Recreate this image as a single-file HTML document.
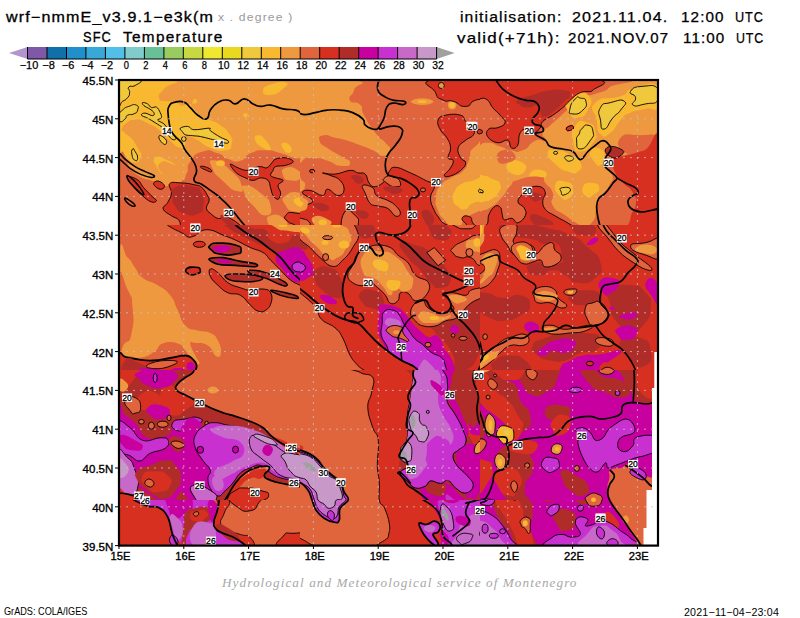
<!DOCTYPE html>
<html><head><meta charset="utf-8"><title>SFC Temperature</title>
<style>
html,body{margin:0;padding:0;background:#fff;}
body{width:800px;height:618px;position:relative;overflow:hidden;font-family:"Liberation Sans",sans-serif;color:#000;}
.t{position:absolute;white-space:pre;line-height:1;}
</style></head><body>
<svg width="800" height="618" viewBox="0 0 800 618" style="position:absolute;left:0;top:0">
<defs><clipPath id="mc"><rect x="119" y="80" width="539" height="465"/></clipPath></defs>
<g clip-path="url(#mc)" shape-rendering="geometricPrecision">
<clipPath id="cA"><rect x="119" y="80" width="181" height="145"/></clipPath>
<g clip-path="url(#cA)">
<rect x="119" y="80" width="181" height="145" fill="#EE9840"/>
<path d="M119.0,80.0 C136.5,64.1 156.5,77.1 171.5,80.0 C186.5,82.9 168.1,82.9 164.0,88.8 C159.8,94.7 157.7,93.4 158.9,97.6 C160.2,101.8 158.9,100.5 167.7,101.3 C176.5,102.2 176.9,98.0 185.3,100.1 C193.6,102.2 187.8,102.2 192.8,107.6 C197.8,113.1 194.5,112.2 200.3,116.4 C206.2,120.6 203.7,117.2 210.4,120.2 C217.1,123.1 214.1,120.6 220.4,125.2 C226.7,129.8 225.4,127.7 229.2,134.0 C233.0,140.2 233.0,138.6 231.7,144.0 C230.5,149.4 232.5,149.0 225.4,150.3 C218.3,151.5 220.4,151.5 210.4,147.8 C200.3,144.0 204.1,142.8 195.3,139.0 C186.5,135.2 187.4,134.8 184.0,136.5 C180.7,138.2 186.5,140.2 185.3,144.0 C184.0,147.8 185.3,148.9 180.3,147.8 C175.2,146.7 176.9,146.4 170.2,140.7 C163.5,135.1 167.7,136.6 160.2,130.7 C152.7,124.9 156.0,126.9 147.6,123.2 C139.3,119.5 142.6,119.4 135.1,119.7 C127.6,119.9 130.4,121.3 125.1,123.9 C119.7,126.6 121.0,142.3 119.0,127.7 C117.0,113.1 101.6,95.9 119.0,80.0 Z" fill="#F8B830"/>
<path d="M119.0,134.0 C121.9,127.9 121.4,130.6 127.6,135.2 C133.8,139.8 133.3,140.2 137.6,147.8 C142.0,155.3 142.1,153.0 140.6,157.8 C139.1,162.7 138.3,163.0 133.1,162.3 C127.9,161.7 129.7,158.8 125.1,155.8 C120.4,152.8 121.0,160.6 119.0,153.3 C117.0,146.0 116.2,140.0 119.0,134.0 Z" fill="#F8B830"/>
<path d="M155.2,157.8 C158.5,155.1 160.2,157.0 167.7,160.3 C175.2,163.7 172.7,162.8 177.8,167.8 C182.8,172.9 183.4,171.2 182.8,175.4 C182.1,179.6 181.4,180.2 175.7,180.4 C170.1,180.6 171.7,179.9 165.7,175.9 C159.7,171.9 161.2,174.4 157.7,168.4 C154.2,162.3 151.8,160.5 155.2,157.8 Z" fill="#F8B830"/>
<path d="M263.1,90.1 C263.9,86.3 265.6,86.3 273.1,83.8 C280.6,81.3 282.3,80.9 285.7,82.5 C289.0,84.2 288.2,84.6 283.1,88.8 C278.1,93.0 277.3,94.7 270.6,95.1 C263.9,95.5 262.2,93.8 263.1,90.1 Z" fill="#F8B830"/>
<path d="M258.1,135.2 C261.4,135.1 261.4,135.2 265.6,140.2 C269.8,145.3 271.4,147.8 270.6,150.3 C269.8,152.8 268.1,151.0 263.1,147.8 C258.1,144.6 257.2,144.9 255.5,140.7 C253.9,136.6 254.7,135.4 258.1,135.2 Z" fill="#F8B830"/>
<path d="M283.1,142.8 C285.7,141.9 288.6,143.2 290.7,146.5 C292.8,149.9 291.9,152.0 289.4,152.8 C286.9,153.6 285.2,152.4 283.1,149.0 C281.1,145.7 280.6,143.6 283.1,142.8 Z" fill="#F8B830"/>
<ellipse cx="194.1" cy="101.3" rx="3.0" ry="2.5" fill="#F8B830"/>
<ellipse cx="245.5" cy="115.2" rx="2.3" ry="2.3" fill="#F8B830"/>
<path d="M172.7,90.1 C176.5,86.7 176.1,86.7 182.8,86.3 C189.5,85.9 189.0,84.6 192.8,88.8 C196.6,93.0 196.6,93.4 194.1,98.8 C191.6,104.3 191.1,103.9 185.3,105.1 C179.4,106.4 181.1,105.5 176.5,102.6 C171.9,99.7 172.7,100.5 171.5,96.3 C170.2,92.1 169.0,93.4 172.7,90.1 Z" fill="#EE9840"/>
<path d="M119.0,162.8 L119.0,150.3 Z" fill="#EE9840"/>
<path d="M119.0,80.0 C125.6,72.5 133.5,78.2 138.9,80.0 C144.2,81.9 138.4,83.2 135.1,85.5 C131.7,87.9 130.7,84.7 128.8,87.0 C127.0,89.4 130.0,89.1 129.6,92.6 C129.2,96.1 129.9,94.7 127.6,97.6 C125.2,100.5 125.4,99.7 122.5,101.3 C119.7,103.0 120.2,109.7 119.0,102.6 C117.9,95.5 112.4,87.5 119.0,80.0 Z" fill="#F0C83C" stroke="#000" stroke-width="0.9"/>
<path d="M122.5,110.1 C125.8,107.2 124.2,108.0 128.8,106.4 C133.4,104.7 133.4,103.9 136.3,105.1 C139.3,106.4 138.4,107.2 137.6,110.1 C136.8,113.1 137.2,112.2 133.8,113.9 C130.5,115.6 130.5,113.5 127.6,115.2 C124.6,116.8 127.6,116.8 125.1,118.9 C122.5,121.0 122.0,122.7 120.0,121.4 C118.0,120.2 118.2,118.9 119.0,115.2 C119.9,111.4 119.3,113.1 122.5,110.1 Z" fill="#F0C83C" stroke="#000" stroke-width="0.9"/>
<path d="M142.6,102.6 C143.4,102.3 145.9,102.9 147.6,103.9 C149.4,104.9 149.6,107.0 151.4,107.6 C153.2,108.3 154.7,106.1 156.4,107.1 C158.2,108.1 159.2,110.5 160.2,112.6 C161.2,114.7 161.9,116.2 161.4,117.7 C160.9,119.2 157.2,118.9 157.7,120.2 C158.2,121.4 161.4,121.7 164.0,123.9 C166.5,126.2 167.9,129.0 170.2,131.5 C172.6,134.0 174.8,134.8 175.7,136.5 C176.6,138.1 175.8,139.5 174.7,139.7 C173.6,140.0 172.4,139.9 170.2,137.7 C168.1,135.6 167.0,132.0 164.0,129.0 C160.9,125.9 158.4,124.8 155.2,122.7 C151.9,120.5 150.4,119.7 147.6,118.2 C144.9,116.7 141.9,116.2 141.4,115.2 C140.9,114.1 142.9,113.0 145.1,113.1 C147.4,113.2 150.9,115.8 152.7,115.7 C154.4,115.6 154.5,114.0 153.9,112.6 C153.3,111.3 151.7,110.3 149.6,108.9 C147.6,107.5 145.3,106.9 143.9,105.6 C142.5,104.4 141.9,103.0 142.6,102.6 Z" fill="#F0C83C" stroke="#000" stroke-width="0.9"/>
<path d="M180.3,128.2 C181.4,127.2 185.0,126.1 187.8,126.4 C190.6,126.7 189.8,129.4 194.1,129.7 C198.3,130.1 205.9,128.0 209.1,128.2 C212.4,128.4 208.1,128.9 210.4,130.7 C212.6,132.5 216.9,135.2 220.4,137.2 C223.9,139.2 226.7,139.5 227.9,140.7 C229.2,142.0 228.7,143.3 226.7,143.3 C224.7,143.3 221.2,141.6 217.9,140.7 C214.6,139.9 213.9,139.8 210.4,139.0 C206.9,138.1 203.9,137.1 200.3,136.5 C196.8,135.8 195.8,136.1 192.8,135.7 C189.8,135.4 187.4,135.6 185.3,134.7 C183.2,133.9 183.3,132.8 182.3,131.5 C181.3,130.2 179.2,129.2 180.3,128.2 Z" fill="#F0C83C" stroke="#000" stroke-width="0.9"/>
<path d="M158.9,136.5 C159.4,134.6 161.4,135.6 164.0,137.7 C166.5,139.8 166.9,140.9 166.5,142.8 C166.0,144.6 165.2,145.3 162.7,143.3 C160.2,141.2 158.5,138.3 158.9,136.5 Z" fill="#F0C83C" stroke="#000" stroke-width="0.9"/>
<path d="M132.6,149.0 C133.6,147.8 133.4,148.6 135.1,151.5 C136.8,154.5 137.6,154.9 137.6,157.8 C137.6,160.7 136.9,161.2 135.1,160.3 C133.3,159.5 132.9,159.1 132.1,155.3 C131.2,151.5 131.6,150.3 132.6,149.0 Z" fill="#F0C83C" stroke="#000" stroke-width="0.9"/>
<ellipse cx="183.8" cy="139.0" rx="2.3" ry="2.3" fill="#F0C83C" stroke="#000" stroke-width="0.9"/>
<path d="M119.0,159.1 C124.4,138.3 123.9,166.1 135.1,173.4 C146.3,180.6 140.1,176.9 152.7,180.9 C165.2,184.9 161.9,187.3 172.7,185.4 C183.6,183.6 179.4,183.3 185.3,175.4 C191.1,167.4 184.4,169.5 190.3,161.6 C196.2,153.6 193.6,154.3 202.8,151.5 C212.0,148.8 209.5,150.8 217.9,153.3 C226.3,155.8 220.4,156.6 227.9,159.1 C235.5,161.6 233.0,162.7 240.5,160.8 C248.0,158.9 242.2,156.8 250.5,153.3 C258.9,149.8 255.5,150.3 265.6,150.3 C275.6,150.3 270.6,150.6 280.6,153.3 C290.7,156.0 285.9,155.8 295.7,158.3 C305.5,160.8 305.2,135.1 310.0,160.8 C314.8,186.6 373.7,210.7 310.0,235.6 C246.3,260.5 182.7,261.1 119.0,235.6 C55.4,210.1 113.7,179.8 119.0,159.1 Z" fill="#E0643C"/>
<path d="M214.1,160.3 C220.2,161.0 221.3,162.0 230.5,170.4 C239.7,178.7 239.7,178.6 241.7,185.4 C243.8,192.3 243.0,192.4 236.7,190.9 C230.5,189.4 231.0,188.4 222.9,180.9 C214.8,173.4 215.3,175.2 212.4,168.4 C209.5,161.5 208.1,159.7 214.1,160.3 Z" fill="#EE9840"/>
<path d="M160.2,162.8 C164.0,159.5 166.9,161.6 175.2,165.3 C183.6,169.1 184.4,169.1 185.3,174.1 C186.1,179.1 184.9,180.0 177.8,180.4 C170.6,180.8 169.8,181.2 164.0,175.4 C158.1,169.5 156.4,166.2 160.2,162.8 Z" fill="#EE9840"/>
<path d="M285.7,167.8 C290.7,166.2 293.2,167.0 298.2,170.4 C303.2,173.7 303.2,174.5 300.7,177.9 C298.2,181.2 296.5,181.2 290.7,180.4 C284.8,179.6 284.8,179.6 283.1,175.4 C281.5,171.2 280.6,169.5 285.7,167.8 Z" fill="#EE9840"/>
<path d="M245.5,185.4 C250.9,185.4 252.2,186.3 260.6,192.9 C268.9,199.6 268.9,198.0 270.6,205.5 C272.3,213.0 271.4,215.5 265.6,215.5 C259.7,215.5 260.1,213.0 253.0,205.5 C245.9,198.0 246.8,199.6 244.3,192.9 C241.7,186.3 240.1,185.4 245.5,185.4 Z" fill="#EE9840"/>
<path d="M285.7,195.5 C290.7,191.3 292.6,191.3 300.7,192.9 C308.8,194.6 306.9,194.6 310.0,200.5 C313.1,206.3 314.8,206.7 310.0,210.5 C305.2,214.3 303.8,213.4 295.7,211.8 C287.6,210.1 289.0,210.9 285.7,205.5 C282.3,200.1 280.6,199.6 285.7,195.5 Z" fill="#EE9840"/>
<path d="M270.6,215.5 C275.6,213.9 278.1,213.9 283.1,218.0 C288.2,222.2 288.2,224.1 285.7,228.1 C283.1,232.1 281.5,231.8 275.6,230.1 C269.8,228.4 269.8,227.9 268.1,223.1 C266.4,218.2 265.6,217.2 270.6,215.5 Z" fill="#EE9840"/>
<path d="M295.7,198.0 C299.0,196.7 303.2,198.0 305.7,200.5 C308.2,203.0 306.6,204.2 303.2,205.5 C299.9,206.7 298.2,206.7 295.7,204.2 C293.2,201.7 292.4,199.2 295.7,198.0 Z" fill="#F8B830"/>
<ellipse cx="220.4" cy="163.3" rx="4.5" ry="3.0" fill="#F8B830"/>
<path d="M169.7,183.7 C171.9,181.3 175.3,182.7 181.0,182.9 C186.7,183.1 189.3,183.6 194.1,184.7 C198.9,185.7 198.5,185.0 201.6,187.4 C204.6,189.8 205.4,191.8 207.1,194.9 C208.9,198.1 209.3,197.6 209.1,200.7 C208.9,203.8 206.0,205.2 206.4,208.2 C206.8,211.3 208.1,211.4 210.9,213.8 C213.7,216.2 215.3,217.9 218.4,218.5 C221.5,219.2 221.1,216.4 224.2,216.5 C227.3,216.7 227.9,217.2 231.7,219.3 C235.5,221.4 236.1,221.8 240.5,225.6 C244.9,229.4 263.5,233.3 250.5,235.6 C237.5,237.9 201.0,237.2 184.8,235.6 C168.6,234.0 182.4,232.4 181.0,228.8 C179.7,225.3 181.2,223.3 179.0,220.3 C176.8,217.3 175.2,218.4 171.5,215.8 C167.8,213.1 164.1,212.1 163.2,209.0 C162.3,205.9 165.8,206.2 167.7,202.5 C169.6,198.8 171.0,197.6 171.5,193.2 C171.9,188.8 167.5,186.1 169.7,183.7 Z" fill="#D83020" stroke="#000" stroke-width="0.9"/>
<path d="M230.5,164.1 C231.5,163.8 234.7,166.6 238.0,167.8 C241.2,169.1 243.5,170.4 246.8,170.4 C250.0,170.4 251.5,168.6 254.3,167.8 C257.1,167.1 258.1,166.6 260.6,166.6 C263.1,166.6 264.6,168.6 266.8,167.8 C269.1,167.1 270.1,164.6 271.9,162.8 C273.6,161.1 272.9,160.1 275.6,159.1 C278.4,158.1 282.1,157.3 285.7,157.8 C289.2,158.3 293.2,160.1 293.2,161.6 C293.2,163.1 289.2,164.3 285.7,165.3 C282.1,166.3 278.1,165.6 275.6,166.6 C273.1,167.6 274.1,168.6 273.1,170.4 C272.1,172.1 270.1,173.9 270.6,175.4 C271.1,176.9 273.1,176.9 275.6,177.9 C278.1,178.9 282.6,178.9 283.1,180.4 C283.7,181.9 278.6,182.9 278.1,185.4 C277.6,187.9 280.6,190.2 280.6,192.9 C280.6,195.7 279.6,198.7 278.1,199.2 C276.6,199.7 274.6,197.7 273.1,195.5 C271.6,193.2 271.6,190.9 270.6,187.9 C269.6,184.9 270.1,182.4 268.1,180.4 C266.1,178.4 263.6,177.9 260.6,177.9 C257.6,177.9 256.0,180.4 253.0,180.4 C250.0,180.4 248.5,179.1 245.5,177.9 C242.5,176.6 240.5,175.9 238.0,174.1 C235.5,172.4 234.5,171.1 233.0,169.1 C231.5,167.1 229.4,164.3 230.5,164.1 Z" fill="#D83020" stroke="#000" stroke-width="0.9"/>
<path d="M303.2,190.4 C305.3,189.4 308.2,190.3 310.8,192.9 C313.3,195.6 312.8,197.5 310.8,198.5 C308.7,199.5 307.0,198.6 304.5,196.0 C302.0,193.3 301.1,191.4 303.2,190.4 Z" fill="#D83020" stroke="#000" stroke-width="0.9"/>
<path d="M285.7,215.5 C288.2,212.6 287.3,211.8 295.7,213.0 C304.1,214.3 305.7,211.8 310.8,219.3 C315.8,226.8 315.8,233.5 310.8,235.6 C305.7,237.7 303.2,230.2 295.7,225.6 C288.2,221.0 291.5,225.1 288.2,221.8 C284.8,218.5 283.1,218.5 285.7,215.5 Z" fill="#D83020" stroke="#000" stroke-width="0.9"/>
<path d="M154.7,181.9 C156.6,180.4 159.4,180.7 162.2,182.9 C165.0,185.1 165.1,186.9 163.2,188.4 C161.3,189.9 159.3,189.6 156.4,187.4 C153.6,185.2 152.7,183.4 154.7,181.9 Z" fill="#D83020" stroke="#000" stroke-width="0.9"/>
<path d="M200.3,166.6 C200.8,165.8 204.1,166.2 207.9,167.8 C211.6,169.5 212.0,170.8 211.6,171.6 C211.2,172.4 210.4,172.0 206.6,170.4 C202.8,168.7 199.9,167.4 200.3,166.6 Z" fill="#D83020" stroke="#000" stroke-width="0.9"/>
<path d="M128.3,176.4 C130.5,176.4 134.3,177.6 137.9,180.1 C141.4,182.7 139.9,183.5 143.4,187.4 C146.8,191.3 149.6,193.9 152.7,197.0 C155.7,200.1 156.8,199.6 156.4,200.7 C156.0,201.8 154.4,203.1 150.9,201.7 C147.4,200.4 145.5,198.3 141.6,194.9 C137.7,191.6 137.2,190.9 134.1,187.4 C131.0,184.0 129.7,182.7 128.3,180.1 C127.0,177.6 126.1,176.4 128.3,176.4 Z" fill="#D83020" stroke="#000" stroke-width="0.9"/>
<path d="M175.2,187.4 C182.4,184.0 185.3,184.7 194.1,186.7 C202.8,188.6 198.5,186.7 201.6,193.2 C204.7,199.7 204.6,199.4 203.4,206.2 C202.1,213.1 204.0,211.3 197.8,213.8 C191.6,216.3 192.3,216.3 184.8,213.8 C177.3,211.3 179.3,211.8 175.2,206.2 C171.2,200.6 172.7,203.2 172.7,197.0 C172.7,190.7 168.1,190.9 175.2,187.4 Z" fill="#B02C28"/>
<path d="M220.4,215.5 C221.3,213.9 225.4,216.4 230.5,220.5 C235.5,224.7 236.3,226.4 235.5,228.1 C234.6,229.7 233.0,229.7 227.9,225.6 C222.9,221.4 219.6,217.2 220.4,215.5 Z" fill="#B02C28"/>
<path d="M170.2,129.0 C169.7,125.3 168.6,121.2 168.2,115.2 C167.9,109.1 167.1,109.8 169.0,106.4 C170.8,102.9 171.2,103.2 175.2,102.1 C179.3,101.0 180.0,100.6 184.0,102.1 C188.0,103.6 186.6,104.1 190.3,107.6 C194.0,111.1 193.5,112.1 197.8,115.2 C202.2,118.2 203.3,120.3 206.6,118.9 C210.0,117.6 207.4,114.5 210.4,110.1 C213.4,105.8 213.2,105.3 217.9,102.6 C222.6,99.9 223.3,99.8 227.9,100.1 C232.6,100.4 231.1,104.2 235.5,103.9 C239.8,103.5 239.6,98.8 244.3,98.8 C248.9,98.8 248.7,101.9 253.0,103.9 C257.4,105.9 255.9,106.0 260.6,106.4 C265.2,106.7 264.6,104.4 270.6,105.1 C276.6,105.8 276.5,107.5 283.1,108.9 C289.8,110.2 290.3,108.8 295.7,110.1 C301.0,111.5 299.2,113.2 303.2,113.9 C307.2,114.6 308.7,113.0 310.8,112.6" fill="none" stroke="#000" stroke-width="1.7" stroke-linejoin="round" stroke-linecap="round"/>
<path d="M170.2,129.0 C171.2,130.6 171.0,131.5 174.0,135.2 C177.0,138.9 178.5,138.7 181.5,142.8 C184.5,146.8 182.3,145.6 185.3,150.3 C188.3,155.0 189.8,155.0 192.8,160.3 C195.8,165.7 196.2,165.0 196.6,170.4 C196.9,175.7 192.7,176.7 194.1,180.4 C195.4,184.1 197.2,181.5 201.6,184.2 C205.9,186.8 205.4,186.8 210.4,190.4 C215.4,194.1 215.1,193.3 220.4,198.0 C225.8,202.6 225.1,202.0 230.5,208.0 C235.8,214.0 235.1,214.2 240.5,220.5 C245.8,226.9 247.9,228.8 250.5,231.8" fill="none" stroke="#000" stroke-width="1.7" stroke-linejoin="round" stroke-linecap="round"/>
<path d="M119.0,152.8 C120.2,153.0 121.8,156.3 125.1,159.1 C128.3,161.8 131.1,164.1 135.1,166.6 C139.1,169.1 141.4,169.9 145.1,171.6 C148.9,173.4 152.7,174.2 153.9,175.4 C155.2,176.5 154.2,177.6 151.4,177.4 C148.6,177.1 144.4,175.9 140.1,174.1 C135.8,172.3 133.6,170.9 130.1,168.4 C126.6,165.8 124.8,163.7 122.5,161.6 C120.3,159.5 119.7,159.6 119.0,157.8 C118.3,156.1 117.8,152.5 119.0,152.8 Z" fill="none" stroke="#000" stroke-width="1.5" stroke-linejoin="round" stroke-linecap="round"/>
<path d="M127.6,175.4 C128.7,175.5 131.3,177.9 133.8,180.4 C136.3,182.9 138.1,185.2 140.1,187.9 C142.1,190.7 143.9,193.2 143.9,194.2 C143.9,195.2 142.1,194.4 140.1,192.9 C138.1,191.4 136.2,189.3 133.8,186.7 C131.4,184.1 129.3,182.2 128.1,179.9 C126.8,177.6 126.4,175.3 127.6,175.4 Z" fill="none" stroke="#000" stroke-width="1.5" stroke-linejoin="round" stroke-linecap="round"/>
<path d="M125.1,198.0 C126.1,198.0 129.3,200.2 131.3,201.7 C133.3,203.2 134.9,204.6 135.1,205.5 C135.2,206.3 133.8,206.7 132.1,206.0 C130.3,205.2 127.7,203.3 126.3,201.7 C124.9,200.1 124.1,198.0 125.1,198.0 Z" fill="none" stroke="#000" stroke-width="1.5" stroke-linejoin="round" stroke-linecap="round"/>
</g>
<clipPath id="cB"><rect x="300" y="80" width="180" height="145"/></clipPath>
<g clip-path="url(#cB)">
<rect x="300" y="80" width="180" height="145" fill="#E0643C"/>
<path d="M288.7,80.0 C310.1,41.5 331.0,76.7 352.7,80.0 C374.5,83.4 355.0,83.4 354.0,90.1 C353.0,96.7 347.6,95.1 349.7,100.1 C351.8,105.1 355.5,100.1 360.3,105.1 C365.0,110.1 359.0,105.9 364.0,115.2 C369.0,124.4 368.2,123.5 375.3,132.7 C382.4,141.9 380.5,136.9 385.4,142.8 C390.2,148.6 390.5,145.9 389.9,150.3 C389.2,154.6 389.0,155.8 383.4,155.8 C377.7,155.8 380.5,153.8 372.8,150.3 C365.1,146.8 368.6,148.4 360.3,145.3 C351.9,142.1 356.1,143.3 347.7,140.7 C339.4,138.2 343.1,139.6 335.2,137.7 C327.2,135.9 329.1,134.2 323.9,135.2 C318.7,136.2 318.4,136.4 319.6,140.7 C320.9,145.1 320.8,143.3 327.6,148.3 C334.5,153.3 332.7,151.0 340.2,155.8 C347.7,160.7 350.2,159.5 350.2,162.8 C350.2,166.2 347.7,166.5 340.2,165.8 C332.7,165.2 336.0,163.3 327.6,160.8 C319.3,158.3 323.5,158.3 315.1,158.3 C306.7,158.3 307.6,155.1 302.5,160.8 C297.5,166.5 299.2,167.2 300.0,175.4 C300.9,183.6 305.9,179.6 305.1,185.4 C304.2,191.3 303.0,189.6 297.5,192.9 C292.1,196.3 291.7,233.1 288.7,195.5 C285.8,157.8 267.4,118.5 288.7,80.0 Z" fill="#EE9840"/>
<path d="M288.7,160.3 C291.7,158.2 291.3,159.1 297.5,161.6 C303.8,164.1 300.9,164.5 307.6,167.8 C314.3,171.2 315.1,169.1 317.6,171.6 C320.1,174.1 320.1,175.0 315.1,175.4 C310.1,175.8 311.3,175.4 302.5,172.9 C293.8,170.4 293.3,172.0 288.7,167.8 C284.1,163.7 285.8,162.4 288.7,160.3 Z" fill="#E0643C"/>
<path d="M288.7,146.5 C290.8,144.4 292.5,146.5 295.0,149.0 C297.5,151.5 298.4,152.0 296.3,154.0 C294.2,156.1 291.3,157.8 288.7,155.3 C286.2,152.8 286.7,148.6 288.7,146.5 Z" fill="#F8B830"/>
<path d="M414.7,99.3 C419.6,97.8 424.2,97.8 429.3,99.3 C434.4,100.8 434.9,102.4 430.0,103.9 C425.2,105.4 419.8,105.4 414.7,103.9 C409.6,102.4 409.9,100.8 414.7,99.3 Z" fill="#EE9840"/>
<ellipse cx="452.1" cy="105.1" rx="4.3" ry="4.3" fill="#EE9840"/>
<path d="M474.4,147.3 C481.8,141.9 485.3,125.4 490.8,144.8 C496.2,164.2 494.3,183.5 490.8,205.5 C487.2,227.5 488.3,206.6 480.0,210.8 C471.6,214.9 471.6,213.9 465.7,218.0 C459.7,222.1 463.8,219.5 462.1,223.1 C460.5,226.7 463.7,226.9 460.6,228.8 C457.6,230.8 458.1,231.3 453.1,228.8 C448.1,226.3 450.6,227.3 445.6,221.3 C440.6,215.3 441.2,218.8 438.1,210.8 C434.9,202.7 435.2,205.7 436.0,197.2 C436.9,188.8 435.7,191.9 440.6,185.4 C445.4,179.0 443.1,182.7 450.6,177.9 C458.1,173.0 457.1,176.5 463.1,170.9 C469.2,165.2 464.9,168.7 468.7,160.8 C472.4,153.0 467.1,152.6 474.4,147.3 Z" fill="#EE9840"/>
<ellipse cx="422.2" cy="101.6" rx="4.5" ry="1.5" fill="#F8B830"/>
<ellipse cx="452.1" cy="105.1" rx="2.8" ry="2.8" fill="#F8B830"/>
<path d="M454.6,191.2 C457.6,185.7 456.1,187.2 462.1,183.7 C468.2,180.1 465.7,183.2 472.7,180.6 C479.7,178.1 477.2,177.9 483.2,176.1 C489.2,174.4 488.2,167.3 490.8,175.4 C493.3,183.5 493.3,191.7 490.8,200.5 C488.2,209.3 489.2,200.8 483.2,201.7 C477.2,202.6 478.7,200.7 472.7,203.2 C466.7,205.7 470.2,208.2 465.2,209.3 C460.1,210.3 461.6,209.3 457.6,206.2 C453.6,203.2 454.1,205.2 453.1,200.2 C452.1,195.2 451.6,196.7 454.6,191.2 Z" fill="#F8B830"/>
<path d="M478.7,190.4 C479.1,188.9 480.3,188.3 482.0,188.4 C483.6,188.6 484.1,189.4 483.7,190.9 C483.3,192.4 482.4,193.1 480.7,192.9 C479.0,192.8 478.3,191.9 478.7,190.4 Z" fill="#F0C83C" stroke="#000" stroke-width="0.9"/>
<path d="M434.3,78.8 C415.9,83.4 432.6,85.5 435.5,92.6 C438.5,99.7 437.2,97.2 443.1,100.1 C448.9,103.0 445.6,99.3 453.1,101.3 C460.6,103.4 458.1,106.8 465.7,106.4 C473.2,105.9 467.3,103.0 475.7,100.1 C484.1,97.2 485.7,104.7 490.8,97.6 C495.8,90.5 509.6,85.0 490.8,78.8 C471.9,72.5 452.7,74.2 434.3,78.8 Z" fill="#D83020" stroke="#000" stroke-width="0.9"/>
<path d="M438.1,120.2 C439.2,116.7 440.3,116.3 445.6,115.2 C450.9,114.0 456.0,113.7 460.6,115.2 C465.3,116.6 462.7,118.2 465.7,121.4 C468.6,124.6 471.4,125.7 473.2,129.0 C474.9,132.2 474.9,132.6 473.2,135.2 C471.4,137.9 469.2,137.3 465.7,140.2 C462.1,143.2 459.3,143.7 458.1,147.8 C457.0,151.9 458.9,154.3 460.6,157.8 C462.4,161.3 465.7,159.9 465.7,162.8 C465.7,165.8 464.2,167.3 460.6,170.4 C457.1,173.4 454.4,174.7 450.6,175.9 C446.8,177.0 444.3,177.3 444.3,175.4 C444.3,173.5 448.6,171.4 450.6,167.8 C452.7,164.3 453.7,162.7 453.1,160.3 C452.5,158.0 448.7,160.7 448.1,157.8 C447.5,154.9 450.9,152.5 450.6,147.8 C450.3,143.1 449.2,141.8 446.8,137.7 C444.5,133.6 442.6,134.3 440.6,130.2 C438.5,126.1 436.9,123.7 438.1,120.2 Z" fill="#D83020" stroke="#000" stroke-width="0.9"/>
<ellipse cx="479.7" cy="131.7" rx="2.5" ry="2.3" fill="#D83020" stroke="#000" stroke-width="0.9"/>
<ellipse cx="490.8" cy="133.2" rx="3.0" ry="5.5" fill="#D83020" stroke="#000" stroke-width="0.9"/>
<path d="M462.1,218.3 C463.1,215.3 466.2,215.3 469.7,216.8 C473.2,218.3 470.4,218.8 472.7,222.8 C474.9,226.8 476.2,224.3 476.4,228.8 C476.7,233.3 477.2,234.3 473.4,236.4 C469.7,238.4 468.4,236.9 465.2,234.8 C461.9,232.8 463.1,233.3 463.7,230.3 C464.2,227.3 467.2,229.8 466.7,225.8 C466.2,221.8 461.1,221.3 462.1,218.3 Z" fill="#D83020" stroke="#000" stroke-width="0.9"/>
<path d="M322.6,172.9 C323.8,172.6 328.7,174.7 335.2,174.1 C341.6,173.5 345.0,170.7 350.2,170.4 C355.5,170.1 354.2,172.0 357.8,172.9 C361.3,173.7 362.6,171.8 365.3,174.1 C367.9,176.5 366.7,180.0 369.0,182.9 C371.4,185.8 371.5,187.3 375.3,186.7 C379.1,186.1 382.1,183.9 385.4,180.4 C388.6,176.9 386.8,174.7 389.1,171.6 C391.5,168.6 390.4,167.1 395.4,167.3 C400.4,167.6 403.4,169.8 410.5,172.9 C417.5,175.9 419.9,177.5 425.5,180.4 C431.1,183.3 433.1,181.3 434.3,185.4 C435.5,189.5 430.5,192.1 430.5,198.0 C430.5,203.8 431.9,205.2 434.3,210.5 C436.6,215.8 436.8,214.1 440.6,220.5 C444.4,227.0 479.9,234.0 450.6,238.1 C421.3,242.2 347.9,241.6 315.1,238.1 C282.3,234.6 313.6,227.7 310.1,223.1 C306.6,218.4 305.0,219.8 300.0,218.0 C295.1,216.3 291.4,217.3 288.7,215.5 C286.1,213.8 284.9,212.9 288.7,210.5 C292.6,208.2 299.5,207.8 305.1,205.5 C310.6,203.1 313.2,203.4 312.6,200.5 C312.0,197.5 303.1,195.3 302.5,192.9 C302.0,190.6 305.4,189.8 310.1,190.4 C314.8,191.0 318.5,195.7 322.6,195.5 C326.7,195.2 324.1,189.2 327.6,189.2 C331.2,189.2 333.9,195.2 337.7,195.5 C341.5,195.7 343.4,193.9 344.0,190.4 C344.5,186.9 343.4,183.9 340.2,180.4 C337.0,176.9 334.2,177.1 330.2,175.4 C326.1,173.6 321.5,173.2 322.6,172.9 Z" fill="#D83020" stroke="#000" stroke-width="0.9"/>
<ellipse cx="312.1" cy="171.1" rx="2.5" ry="1.8" fill="#D83020" stroke="#000" stroke-width="0.9"/>
<ellipse cx="441.3" cy="85.5" rx="3.0" ry="3.0" fill="#EE9840" stroke="#000" stroke-width="0.9"/>
<path d="M362.8,185.4 C364.5,184.1 369.6,185.6 372.8,187.9 C376.0,190.3 373.1,192.5 376.6,195.5 C380.1,198.4 383.5,198.1 387.9,200.5 C392.3,202.8 392.5,202.6 395.4,205.5 C398.3,208.4 400.4,210.6 400.4,213.0 C400.4,215.5 398.3,217.1 395.4,216.0 C392.5,215.0 392.0,210.8 387.9,208.5 C383.8,206.2 381.9,207.2 377.8,206.0 C373.7,204.8 373.2,206.4 370.3,203.5 C367.4,200.6 367.0,197.7 365.3,193.4 C363.5,189.2 361.0,186.7 362.8,185.4 Z" fill="#E0643C" stroke="#000" stroke-width="0.9"/>
<path d="M344.0,213.0 C347.7,206.3 350.5,211.3 355.2,215.5 C360.0,219.7 358.3,218.9 358.3,225.6 C358.3,232.3 360.0,232.3 355.2,235.6 C350.5,238.9 347.7,243.1 344.0,235.6 C340.2,228.1 340.2,219.7 344.0,213.0 Z" fill="#E0643C" stroke="#000" stroke-width="0.9"/>
<path d="M384.1,178.4 C386.2,176.3 387.4,175.1 392.9,176.6 C398.3,178.1 399.6,179.6 400.4,182.9 C401.3,186.3 400.0,186.7 395.4,186.7 C390.8,186.7 390.4,185.7 386.6,182.9 C382.8,180.1 382.0,180.5 384.1,178.4 Z" fill="#E0643C" stroke="#000" stroke-width="0.9"/>
<ellipse cx="423.0" cy="189.9" rx="2.5" ry="2.0" fill="#E0643C" stroke="#000" stroke-width="0.9"/>
<path d="M288.7,195.5 C293.3,190.7 296.3,194.1 302.5,197.5 C308.8,200.8 308.4,200.7 307.6,205.5 C306.7,210.3 306.3,209.7 300.0,211.8 C293.8,213.9 292.5,217.2 288.7,211.8 C285.0,206.3 284.1,200.2 288.7,195.5 Z" fill="#EE9840"/>
<path d="M313.8,216.8 C318.0,214.7 322.2,216.4 327.6,219.3 C333.1,222.2 331.8,222.2 330.2,225.6 C328.5,228.9 327.6,229.3 322.6,229.3 C317.6,229.3 318.0,229.7 315.1,225.6 C312.2,221.4 309.7,218.9 313.8,216.8 Z" fill="#EE9840"/>
<path d="M352.7,175.4 C355.7,174.5 360.3,175.2 362.8,177.9 C365.3,180.6 363.2,182.6 360.3,183.4 C357.3,184.2 356.5,183.1 354.0,180.4 C351.5,177.7 349.8,176.2 352.7,175.4 Z" fill="#B02C28"/>
<path d="M315.1,203.0 C318.9,202.1 324.3,202.8 327.6,205.5 C331.0,208.2 328.9,210.2 325.1,211.0 C321.4,211.8 319.7,210.7 316.3,208.0 C313.0,205.3 311.3,203.8 315.1,203.0 Z" fill="#B02C28"/>
<path d="M357.8,210.5 C360.9,209.7 365.3,210.3 367.8,213.0 C370.3,215.7 368.5,217.7 365.3,218.5 C362.1,219.4 360.8,218.2 358.3,215.5 C355.7,212.9 354.6,211.3 357.8,210.5 Z" fill="#B02C28"/>
<path d="M385.4,186.7 C389.5,185.4 396.2,185.7 400.4,187.9 C404.6,190.2 402.1,192.2 397.9,193.4 C393.7,194.7 392.0,193.9 387.9,191.7 C383.7,189.4 381.2,187.9 385.4,186.7 Z" fill="#B02C28"/>
<path d="M423.0,210.5 C425.9,208.8 430.5,210.5 433.0,215.5 C435.5,220.5 433.5,223.9 430.5,225.6 C427.6,227.2 426.8,225.6 424.3,220.5 C421.7,215.5 420.1,212.2 423.0,210.5 Z" fill="#B02C28"/>
<path d="M288.7,198.0 C292.5,195.5 295.4,198.0 300.0,200.5 C304.6,203.0 304.2,202.8 302.5,205.5 C300.9,208.2 299.6,207.7 295.0,208.5 C290.4,209.3 290.8,211.5 288.7,208.0 C286.7,204.5 285.0,200.5 288.7,198.0 Z" fill="#F8B830"/>
<ellipse cx="322.6" cy="222.6" rx="4.0" ry="3.0" fill="#F8B830"/>
<path d="M288.7,110.1 C291.1,110.8 293.2,111.4 297.5,112.6 C301.9,113.8 300.4,114.6 305.1,114.6 C309.7,114.6 309.1,113.8 315.1,112.6 C321.1,111.4 320.9,110.8 327.6,110.1 C334.3,109.5 333.5,109.5 340.2,110.1 C346.9,110.8 346.7,110.3 352.7,112.6 C358.8,115.0 359.4,115.6 362.8,118.9 C366.1,122.3 362.6,122.5 365.3,125.2 C368.0,127.9 369.1,127.9 372.8,129.0 C376.5,130.0 377.4,129.0 379.1,129.0" fill="none" stroke="#000" stroke-width="1.7" stroke-linejoin="round" stroke-linecap="round"/>
<path d="M379.1,78.8 C378.7,81.8 376.5,85.4 377.8,90.1 C379.2,94.7 380.1,93.7 384.1,96.3 C388.1,99.0 387.5,98.8 392.9,100.1 C398.2,101.4 401.5,100.1 404.2,101.3 C406.9,102.6 405.9,104.1 402.9,104.6 C399.9,105.1 397.2,102.3 392.9,103.1 C388.5,103.9 389.0,103.7 386.6,107.6 C384.3,111.5 385.8,113.0 384.1,117.7 C382.4,122.3 381.7,122.2 380.3,125.2 C379.0,128.2 376.4,128.6 379.1,129.0 C381.8,129.3 384.7,126.8 390.4,126.4 C396.1,126.1 397.4,125.4 400.4,127.7 C403.4,130.0 403.0,130.5 401.7,135.2 C400.3,139.9 398.7,140.6 395.4,145.3 C392.0,149.9 391.7,148.5 389.1,152.8 C386.5,157.1 386.3,156.0 385.6,161.3 C384.9,166.6 384.8,168.6 386.6,172.6 C388.4,176.6 388.1,174.6 392.4,176.4 C396.7,178.1 397.5,176.9 402.7,179.1 C407.9,181.3 407.7,181.4 412.0,184.7 C416.2,187.9 417.2,187.9 418.5,191.2 C419.8,194.5 418.9,194.7 416.7,197.0 C414.5,199.2 411.9,195.2 410.2,199.7 C408.5,204.2 410.2,207.0 410.2,213.8 C410.2,220.5 410.2,219.2 410.2,225.1 C410.2,230.9 410.2,232.8 410.2,235.6" fill="none" stroke="#000" stroke-width="1.7" stroke-linejoin="round" stroke-linecap="round"/>
</g>
<clipPath id="cC"><rect x="480" y="80" width="178" height="145"/></clipPath>
<g clip-path="url(#cC)">
<rect x="480" y="80" width="178" height="145" fill="#EE9840"/>
<path d="M468.7,78.8 C516.0,55.8 563.7,75.8 610.5,78.8 C657.4,81.7 614.3,82.5 609.3,87.5 C604.3,92.6 604.3,90.5 595.5,93.8 C586.7,97.2 591.3,93.0 582.9,97.6 C574.6,102.2 577.9,101.3 570.4,107.6 C562.8,113.9 567.0,110.5 560.3,116.4 C553.6,122.3 556.2,119.8 550.3,125.2 C544.4,130.6 544.4,127.5 542.8,132.7 C541.1,137.9 547.8,138.1 545.3,140.7 C542.8,143.4 542.8,137.6 535.2,140.7 C527.7,143.9 531.1,147.1 522.7,150.3 C514.3,153.5 517.7,151.5 510.2,150.3 C502.6,149.0 508.5,149.0 500.1,146.5 C491.7,144.0 495.5,142.3 485.1,142.8 C474.6,143.2 474.2,169.1 468.7,147.8 C463.3,126.4 421.5,101.8 468.7,78.8 Z" fill="#E0643C"/>
<path d="M547.8,152.8 C548.6,148.2 550.3,149.6 557.8,150.3 C565.4,151.0 562.8,150.8 570.4,154.8 C577.9,158.8 577.9,156.7 580.4,162.3 C582.9,167.9 582.1,168.5 577.9,171.6 C573.7,174.7 575.4,174.1 567.9,171.6 C560.3,169.1 562.0,170.4 555.3,164.1 C548.6,157.8 547.0,157.4 547.8,152.8 Z" fill="#F8B830"/>
<path d="M590.5,151.5 C592.5,147.4 595.9,146.9 600.5,149.0 C605.1,151.1 604.3,152.4 604.3,157.8 C604.3,163.2 603.8,164.1 600.5,165.3 C597.1,166.6 597.6,166.2 594.2,161.6 C590.9,157.0 588.4,155.7 590.5,151.5 Z" fill="#F8B830"/>
<path d="M555.3,184.2 C557.0,179.1 559.5,180.4 565.4,181.6 C571.2,182.9 571.6,182.5 572.9,187.9 C574.1,193.4 573.3,195.0 569.1,198.0 C564.9,200.9 564.9,201.3 560.3,196.7 C555.7,192.1 553.6,189.2 555.3,184.2 Z" fill="#F8B830"/>
<path d="M582.9,186.7 C585.0,182.1 587.5,182.5 593.0,182.9 C598.4,183.3 598.8,184.2 599.2,187.9 C599.7,191.7 598.4,191.3 594.2,194.2 C590.0,197.1 590.5,199.2 586.7,196.7 C582.9,194.2 580.8,191.3 582.9,186.7 Z" fill="#F8B830"/>
<path d="M507.6,162.8 C510.2,158.6 514.3,159.1 520.2,161.6 C526.0,164.1 527.7,166.2 525.2,170.4 C522.7,174.5 518.5,176.6 512.7,174.1 C506.8,171.6 505.1,167.0 507.6,162.8 Z" fill="#F8B830"/>
<path d="M530.2,172.9 C532.7,169.5 537.8,168.7 542.8,170.4 C547.8,172.0 547.8,174.5 545.3,177.9 C542.8,181.2 540.3,182.1 535.2,180.4 C530.2,178.7 527.7,176.2 530.2,172.9 Z" fill="#F8B830"/>
<path d="M468.7,175.4 C473.6,166.2 475.4,174.1 483.3,175.4 C491.2,176.6 486.8,176.4 492.3,179.1 C497.9,181.9 497.9,179.1 499.9,183.7 C501.9,188.2 500.9,187.7 498.4,192.7 C495.8,197.7 497.4,195.7 492.3,198.7 C487.3,201.7 491.2,200.3 483.3,201.7 C475.4,203.1 473.6,211.8 468.7,203.0 C463.9,194.2 463.9,184.6 468.7,175.4 Z" fill="#F8B830"/>
<path d="M566.6,100.1 C568.7,93.8 567.9,95.1 575.4,93.8 C582.9,92.6 585.0,90.9 589.2,96.3 C593.4,101.8 591.7,103.0 587.9,110.1 C584.2,117.2 584.2,116.8 577.9,117.7 C571.6,118.5 572.9,118.5 569.1,112.6 C565.4,106.8 564.5,106.4 566.6,100.1 Z" fill="#F8B830"/>
<path d="M595.5,102.6 C603.4,94.7 608.0,100.9 620.6,96.3 C633.1,91.7 620.6,92.1 633.1,88.8 C645.7,85.5 649.8,80.4 658.2,86.3 C666.6,92.1 662.4,98.8 658.2,106.4 C654.0,113.9 654.9,106.8 645.7,108.9 C636.5,111.0 639.0,108.9 630.6,112.6 C622.2,116.4 627.3,113.5 620.6,120.2 C613.9,126.9 617.2,128.1 610.5,132.7 C603.8,137.3 605.1,138.2 600.5,134.0 C595.9,129.8 598.4,130.6 596.7,120.2 C595.1,109.7 587.5,110.5 595.5,102.6 Z" fill="#F8B830"/>
<path d="M575.4,125.2 C580.2,118.5 581.3,120.6 587.9,122.7 C594.6,124.8 593.8,124.8 595.5,131.5 C597.1,138.2 598.0,136.1 593.0,142.8 C587.9,149.4 586.9,151.5 580.4,151.5 C573.9,151.5 575.1,151.5 573.4,142.8 C571.7,134.0 570.5,131.9 575.4,125.2 Z" fill="#F8B830"/>
<path d="M620.6,137.7 C625.6,131.9 628.1,135.2 640.6,135.2 C653.2,135.2 652.4,132.7 658.2,137.7 C664.1,142.8 663.2,145.3 658.2,150.3 C653.2,155.3 654.0,152.0 643.1,152.8 C632.3,153.6 633.1,157.8 625.6,152.8 C618.1,147.8 615.5,143.6 620.6,137.7 Z" fill="#E0643C"/>
<path d="M502.6,150.3 C508.5,148.6 513.5,151.1 515.2,155.3 C516.8,159.5 513.5,161.2 507.6,162.8 C501.8,164.5 499.3,164.5 497.6,160.3 C495.9,156.1 496.8,152.0 502.6,150.3 Z" fill="#E0643C"/>
<path d="M575.4,98.8 C578.9,95.2 576.9,97.3 580.4,98.1 C583.9,98.9 585.1,97.3 585.9,101.3 C586.8,105.4 587.3,105.9 582.9,110.1 C578.6,114.3 577.2,114.3 572.9,113.9 C568.5,113.5 569.0,113.9 569.9,108.9 C570.7,103.9 571.9,102.4 575.4,98.8 Z" fill="#F0C83C" stroke="#000" stroke-width="0.9"/>
<path d="M600.5,107.6 C603.8,101.8 602.6,104.7 610.5,102.6 C618.5,100.5 621.0,98.8 624.3,101.3 C627.7,103.9 624.3,104.7 620.6,110.1 C616.8,115.6 618.5,111.4 613.0,117.7 C607.6,123.9 608.4,128.1 604.3,129.0 C600.1,129.8 601.7,127.3 600.5,120.2 C599.2,113.1 597.1,113.5 600.5,107.6 Z" fill="#F0C83C" stroke="#000" stroke-width="0.9"/>
<path d="M630.6,91.3 C633.1,87.5 633.9,87.1 643.1,86.3 C652.4,85.5 653.2,84.2 658.2,88.8 C663.2,93.4 662.4,95.1 658.2,100.1 C654.0,105.1 654.0,102.2 645.7,103.9 C637.3,105.5 636.5,107.2 633.1,105.1 C629.8,103.0 636.5,102.2 635.6,97.6 C634.8,93.0 628.1,95.1 630.6,91.3 Z" fill="#F0C83C" stroke="#000" stroke-width="0.9"/>
<path d="M581.7,129.0 C584.6,126.0 584.2,124.4 587.9,125.2 C591.7,126.0 592.1,126.4 593.0,131.5 C593.8,136.5 594.6,134.4 590.5,140.2 C586.3,146.1 585.0,149.0 580.4,149.0 C575.8,149.0 577.1,145.3 576.6,140.2 C576.2,135.2 577.5,137.7 579.2,134.0 C580.8,130.2 578.7,131.9 581.7,129.0 Z" fill="#F0C83C" stroke="#000" stroke-width="0.9"/>
<path d="M566.1,156.1 C568.4,155.2 571.3,155.7 572.9,157.3 C574.5,158.9 573.1,160.0 570.9,160.8 C568.6,161.7 567.7,161.4 566.1,159.8 C564.5,158.2 563.9,156.9 566.1,156.1 Z" fill="#F0C83C" stroke="#000" stroke-width="0.9"/>
<ellipse cx="555.6" cy="152.8" rx="2.0" ry="1.5" fill="#F0C83C" stroke="#000" stroke-width="0.9"/>
<path d="M561.6,187.9 C564.7,187.1 569.5,186.8 570.4,189.2 C571.2,191.5 567.2,194.1 564.1,194.9 C561.0,195.8 561.9,194.0 561.1,191.7 C560.3,189.3 558.5,188.8 561.6,187.9 Z" fill="#F0C83C" stroke="#000" stroke-width="0.9"/>
<ellipse cx="481.3" cy="191.2" rx="2.0" ry="1.3" fill="#F0C83C" transform="rotate(30 481.3 191.2)" stroke="#000" stroke-width="0.9"/>
<ellipse cx="569.9" cy="128.2" rx="4.0" ry="2.3" fill="#D83020" transform="rotate(-20 569.9 128.2)" stroke="#000" stroke-width="0.9"/>
<path d="M606.8,157.8 C613.0,154.1 613.5,157.3 625.6,154.8 C637.7,152.3 631.4,153.5 643.1,150.3 C654.9,147.1 654.9,116.8 660.7,145.3 C666.6,173.7 682.5,205.5 660.7,235.6 C639.0,265.7 617.2,242.3 595.5,235.6 C573.7,228.9 594.2,227.2 595.5,215.5 C596.7,203.8 594.6,210.5 599.2,200.5 C603.8,190.4 604.8,193.8 609.3,185.4 C613.7,177.0 613.4,181.9 612.5,175.4 C611.7,168.9 608.7,171.7 606.8,165.8 C604.8,160.0 600.5,161.5 606.8,157.8 Z" fill="#E0643C"/>
<path d="M468.7,218.0 C472.5,210.1 472.7,215.4 480.0,211.8 C487.4,208.2 483.7,211.8 490.8,207.2 C497.9,202.6 494.8,205.1 501.4,198.0 C507.9,190.9 504.9,191.9 510.4,185.9 C515.9,179.9 508.1,182.9 517.9,179.9 C527.8,176.9 530.9,175.9 540.0,176.9 C549.1,177.9 541.0,177.6 545.3,182.9 C549.5,188.3 550.3,185.4 552.8,192.9 C555.3,200.5 548.6,198.0 552.8,205.5 C557.0,213.0 556.2,208.8 565.4,215.5 C574.6,222.2 570.4,218.9 580.4,225.6 C590.5,232.3 632.7,232.3 595.5,235.6 C558.2,238.9 511.0,241.5 468.7,235.6 C426.5,229.7 465.0,226.0 468.7,218.0 Z" fill="#E0643C"/>
<path d="M468.7,78.8 C497.1,72.6 561.5,76.1 590.5,78.8 C619.4,81.4 595.3,86.8 593.0,90.1 C590.6,93.3 585.7,90.2 580.4,92.6 C575.1,94.9 574.5,96.6 570.4,100.1 C566.3,103.6 566.9,104.1 562.8,107.6 C558.7,111.1 557.5,111.9 552.8,115.2 C548.1,118.4 545.7,118.5 542.8,121.4 C539.8,124.4 542.6,124.8 540.3,127.7 C537.9,130.6 535.7,133.7 532.7,134.0 C529.8,134.3 530.6,129.2 527.7,129.0 C524.8,128.7 522.5,128.9 520.2,132.7 C517.8,136.5 519.7,141.8 517.7,145.3 C515.6,148.8 513.7,148.9 511.4,147.8 C509.1,146.6 510.9,141.4 507.6,140.2 C504.4,139.1 502.3,143.6 497.6,142.8 C492.9,141.9 489.6,139.7 487.6,136.5 C485.5,133.3 486.5,131.0 488.8,129.0 C491.2,126.9 493.8,129.2 497.6,127.7 C501.4,126.2 504.5,125.6 505.1,122.7 C505.7,119.8 503.0,118.7 500.1,115.2 C497.2,111.6 495.5,111.1 492.6,107.6 C489.7,104.1 490.5,102.1 487.6,100.1 C484.6,98.0 484.4,97.7 480.0,98.8 C475.6,100.0 471.4,109.8 468.7,105.1 C466.1,100.4 440.3,84.9 468.7,78.8 Z" fill="#D83020" stroke="#000" stroke-width="0.9"/>
<ellipse cx="480.0" cy="131.7" rx="2.5" ry="2.0" fill="#D83020" stroke="#000" stroke-width="0.9"/>
<path d="M614.3,157.8 C618.5,154.6 616.0,158.1 625.6,155.8 C635.2,153.5 631.4,154.1 643.1,150.8 C654.9,147.4 654.9,117.5 660.7,145.8 C666.6,174.0 670.8,205.7 660.7,235.6 C650.7,265.5 640.6,241.5 630.6,235.6 C620.6,229.7 628.9,228.1 630.6,218.0 C632.3,208.0 634.8,213.9 635.6,205.5 C636.5,197.1 637.3,200.5 633.1,192.9 C628.9,185.4 628.5,188.8 623.1,182.9 C617.6,177.0 620.1,181.2 616.8,175.4 C613.5,169.5 613.9,171.2 613.0,165.3 C612.2,159.5 610.1,161.0 614.3,157.8 Z" fill="#D83020"/>
<path d="M486.3,235.6 C463.5,232.6 487.1,227.9 487.8,222.8 C488.5,217.7 487.6,217.6 489.3,213.8 C491.1,209.9 492.7,207.6 495.3,206.2 C498.0,204.8 499.0,206.0 500.6,207.7 C502.2,209.5 501.2,211.0 502.1,213.8 C503.0,216.6 502.1,218.7 504.4,219.8 C506.7,220.8 508.7,217.6 511.9,218.3 C515.1,219.0 514.8,223.5 517.9,222.8 C521.1,222.1 524.1,218.8 525.5,215.3 C526.9,211.8 525.7,210.9 524.0,207.7 C522.2,204.6 518.3,204.9 517.9,201.7 C517.6,198.6 520.0,197.4 522.4,194.2 C524.9,191.0 524.4,189.9 528.5,188.2 C532.6,186.4 536.1,185.6 540.0,186.7 C543.9,187.8 544.6,189.7 545.3,192.9 C545.9,196.2 542.8,196.7 542.8,200.5 C542.8,204.3 542.4,205.6 545.3,209.3 C548.2,212.9 549.5,212.5 555.3,216.0 C561.2,219.6 563.4,220.0 570.4,224.6 C577.4,229.1 605.0,233.0 585.4,235.6 C565.8,238.2 509.1,238.6 486.3,235.6 Z" fill="#D83020" stroke="#000" stroke-width="0.9"/>
<path d="M517.7,100.1 C521.9,96.7 523.5,98.0 532.7,95.1 C541.9,92.1 535.2,93.0 545.3,91.3 C555.3,89.6 554.5,88.8 562.8,90.1 C571.2,91.3 570.4,90.9 570.4,95.1 C570.4,99.3 567.9,97.6 562.8,102.6 C557.8,107.6 561.2,105.5 555.3,110.1 C549.5,114.7 550.3,115.6 545.3,116.4 C540.3,117.2 542.4,116.4 540.3,112.6 C538.2,108.9 543.2,106.8 539.0,105.1 C534.8,103.4 534.0,107.6 527.7,107.6 C521.4,107.6 523.5,107.6 520.2,105.1 C516.8,102.6 513.5,103.4 517.7,100.1 Z" fill="#B02C28"/>
<path d="M606.8,147.8 C610.1,145.2 615.8,146.5 620.6,149.0 C625.3,151.5 624.4,152.7 621.1,155.3 C617.7,157.9 615.3,159.3 610.5,156.8 C605.8,154.3 603.4,150.4 606.8,147.8 Z" fill="#B02C28" stroke="#000" stroke-width="0.9"/>
<path d="M530.2,192.9 C534.0,191.7 540.3,192.8 542.8,195.5 C545.3,198.1 541.5,199.7 537.8,201.0 C534.0,202.2 534.0,201.9 531.5,199.2 C529.0,196.5 526.5,194.2 530.2,192.9 Z" fill="#B02C28"/>
<path d="M530.2,215.5 C531.9,212.2 537.8,214.7 545.3,218.0 C552.8,221.4 554.5,222.2 552.8,225.6 C551.1,228.9 547.8,231.4 540.3,228.1 C532.7,224.7 528.6,218.9 530.2,215.5 Z" fill="#B02C28"/>
<path d="M495.1,78.8 C496.9,81.1 498.2,84.7 502.6,88.8 C507.0,92.9 508.6,93.7 513.9,96.3 C519.2,99.0 520.5,98.9 525.2,100.1 C529.9,101.3 530.8,99.9 534.0,101.3 C537.2,102.8 538.1,103.7 539.0,106.4 C539.9,109.0 539.2,109.7 537.8,112.6 C536.3,115.6 533.6,116.3 532.7,118.9 C531.9,121.5 531.9,122.2 534.0,123.9 C536.0,125.7 539.5,124.7 541.5,126.4 C543.6,128.2 544.2,129.7 542.8,131.5 C541.3,133.2 534.7,131.9 535.2,134.0 C535.8,136.0 541.8,137.3 545.3,140.2 C548.8,143.2 546.2,144.5 550.3,146.5 C554.4,148.6 557.6,147.9 562.8,149.0 C568.1,150.2 569.4,149.5 572.9,151.5 C576.4,153.6 575.9,156.1 577.9,157.8 C580.0,159.6 579.3,160.5 581.7,159.1 C584.0,157.6 584.7,154.8 587.9,151.5 C591.2,148.3 592.0,147.8 595.5,145.3 C599.0,142.7 599.8,140.7 603.0,140.7 C606.2,140.7 607.5,143.0 609.3,145.3 C611.0,147.5 611.4,147.4 610.5,150.3 C609.6,153.2 607.0,154.3 605.5,157.8 C604.0,161.3 603.1,162.1 604.3,165.3 C605.4,168.6 607.6,168.7 610.5,171.6 C613.5,174.5 616.2,175.3 616.8,177.9 C617.4,180.5 615.7,179.4 613.0,182.9 C610.4,186.4 608.7,189.4 605.5,192.9 C602.3,196.5 601.3,195.0 599.2,198.0 C597.2,200.9 597.0,200.8 596.7,205.5 C596.4,210.2 596.5,211.0 598.0,218.0 C599.4,225.1 601.8,231.5 603.0,235.6" fill="none" stroke="#000" stroke-width="1.7" stroke-linejoin="round" stroke-linecap="round"/>
<path d="M616.8,177.9 C618.8,179.1 621.2,180.6 625.6,182.9 C630.0,185.2 632.7,185.6 635.6,187.9 C638.5,190.3 638.7,191.2 638.1,192.9 C637.5,194.7 635.5,193.7 633.1,195.5 C630.8,197.2 628.7,197.5 628.1,200.5 C627.5,203.4 627.7,205.4 630.6,208.0 C633.5,210.6 636.0,211.2 640.6,211.8 C645.3,212.3 646.0,211.4 650.7,210.5 C655.4,209.6 658.4,208.6 660.7,208.0" fill="none" stroke="#000" stroke-width="1.7" stroke-linejoin="round" stroke-linecap="round"/>
</g>
<clipPath id="cD"><rect x="119" y="225" width="181" height="145"/></clipPath>
<g clip-path="url(#cD)">
<rect x="119" y="225" width="181" height="145" fill="#E0643C"/>
<path d="M119.0,255.1 C121.3,230.2 123.3,254.3 127.6,257.6 C131.8,261.0 131.1,262.3 135.1,267.7 C139.1,273.0 136.6,273.0 142.6,277.7 C148.6,282.4 150.3,280.6 157.7,285.2 C165.0,289.9 164.9,288.6 170.2,295.3 C175.6,302.0 173.7,302.3 177.8,310.3 C181.8,318.4 179.9,320.0 185.3,325.4 C190.6,330.7 191.1,328.4 197.8,330.4 C204.5,332.4 205.0,330.2 210.4,332.9 C215.7,335.6 215.1,335.1 217.9,340.5 C220.7,345.8 221.5,348.8 220.9,353.0 C220.4,357.1 219.4,358.0 215.9,356.0 C212.4,354.0 213.4,349.0 207.9,345.5 C202.4,342.0 200.0,343.5 195.3,343.0 C190.6,342.4 190.3,340.1 190.3,343.5 C190.3,346.8 192.8,350.2 195.3,355.5 C197.8,360.9 200.3,362.2 199.6,363.5 C198.9,364.9 196.6,364.0 192.8,360.5 C189.0,357.0 189.3,355.0 185.3,350.5 C181.3,345.9 183.8,345.3 177.8,343.5 C171.7,341.6 168.7,341.5 162.7,343.5 C156.7,345.5 160.5,347.3 155.2,351.0 C149.8,354.7 149.3,355.9 142.6,357.3 C135.9,358.6 136.4,357.7 130.1,356.0 C123.8,354.3 122.0,377.9 119.0,351.0 C116.1,324.1 116.8,280.0 119.0,255.1 Z" fill="#EE9840"/>
<path d="M117.5,279.0 C121.0,260.7 123.0,281.1 128.1,290.8 C133.1,300.4 131.4,293.8 132.6,307.8 C133.8,321.9 134.1,321.2 131.6,332.9 C129.1,344.6 129.7,338.8 125.1,343.0 C120.4,347.1 120.0,366.8 117.5,345.5 C115.0,324.1 114.0,297.2 117.5,279.0 Z" fill="#E0643C"/>
<path d="M177.8,217.5 C148.5,221.6 181.2,230.8 185.3,235.1 C189.4,239.3 191.8,236.4 195.3,235.6 C198.8,234.7 196.8,232.6 200.3,231.3 C203.9,230.0 205.1,229.2 210.4,230.0 C215.6,230.9 217.1,232.7 222.9,235.1 C228.8,237.4 229.0,237.1 235.5,240.1 C241.9,243.0 244.1,244.7 250.5,247.6 C257.0,250.5 258.4,249.7 263.1,252.6 C267.8,255.5 266.5,256.1 270.6,260.2 C274.7,264.2 276.0,265.5 280.6,270.2 C285.3,274.9 286.0,276.6 290.7,280.2 C295.4,283.9 296.0,282.7 300.7,285.7 C305.4,288.8 308.4,309.2 310.8,293.3 C313.1,277.3 341.8,235.2 310.8,217.5 C279.7,199.8 207.0,213.4 177.8,217.5 Z" fill="#D83020" stroke="#000" stroke-width="0.9"/>
<ellipse cx="199.3" cy="244.3" rx="6.0" ry="3.0" fill="#D83020" stroke="#000" stroke-width="0.9"/>
<path d="M210.4,245.1 C213.3,242.8 212.0,243.1 220.4,243.1 C228.8,243.1 228.6,242.8 235.5,245.1 C242.3,247.4 241.0,247.1 241.0,250.1 C241.0,253.1 242.3,252.8 235.5,254.1 C228.6,255.5 228.4,255.5 220.4,254.1 C212.5,252.8 215.0,253.1 211.6,250.1 C208.3,247.1 207.4,247.4 210.4,245.1 Z" fill="#B02C28" stroke="#000" stroke-width="1.6"/>
<path d="M209.1,258.9 C210.0,257.8 217.7,257.2 222.9,257.6 C228.2,258.1 235.0,260.4 240.5,261.4 C246.0,262.5 253.7,263.0 256.0,263.9 C258.4,264.8 258.2,266.4 254.8,266.7 C251.4,266.9 241.6,265.8 235.5,265.4 C229.3,265.0 222.3,265.3 217.9,264.2 C213.5,263.1 208.3,260.0 209.1,258.9 Z" fill="#B02C28" stroke="#000" stroke-width="1.6"/>
<path d="M186.5,268.9 C188.6,266.7 190.7,266.8 195.3,267.2 C199.9,267.6 199.9,267.9 200.3,270.2 C200.8,272.4 200.3,272.7 196.6,274.0 C192.8,275.2 192.4,275.6 189.0,274.0 C185.7,272.3 184.4,271.2 186.5,268.9 Z" fill="#D83020" stroke="#000" stroke-width="1.6"/>
<path d="M225.4,275.2 C227.1,274.2 234.6,273.7 240.5,274.0 C246.3,274.2 257.2,275.4 260.6,276.5 C263.9,277.5 263.1,279.3 260.6,280.2 C258.1,281.1 250.5,281.7 245.5,281.7 C240.5,281.7 233.8,281.3 230.5,280.2 C227.1,279.1 223.8,276.3 225.4,275.2 Z" fill="#B02C28" stroke="#000" stroke-width="1.4"/>
<path d="M249.3,270.2 C251.8,270.1 259.5,270.6 265.6,272.7 C271.6,274.8 282.6,280.6 285.7,282.7 C288.7,284.9 287.0,286.5 283.7,285.7 C280.3,285.0 271.1,280.3 265.6,278.2 C260.1,276.2 253.2,274.8 250.5,273.5 C247.8,272.1 246.8,270.3 249.3,270.2 Z" fill="#B02C28" stroke="#000" stroke-width="1.4"/>
<path d="M270.6,290.3 C271.4,289.8 281.2,291.7 285.7,292.8 C290.1,293.8 295.7,295.6 297.5,296.5 C299.2,297.5 299.0,298.8 296.2,298.5 C293.4,298.3 284.9,296.7 280.6,295.3 C276.4,293.9 269.8,290.7 270.6,290.3 Z" fill="#B02C28" stroke="#000" stroke-width="1.4"/>
<path d="M210.4,268.9 C212.1,268.1 213.8,269.5 217.9,272.7 C222.0,275.9 222.7,279.2 227.9,282.7 C233.2,286.2 235.2,286.0 240.5,287.8 C245.8,289.5 245.3,290.0 250.5,290.3 C255.8,290.6 258.4,288.4 263.1,289.0 C267.8,289.6 268.7,289.6 270.6,292.8 C272.5,296.0 272.3,298.7 271.1,302.8 C269.9,306.9 268.6,308.4 265.6,310.3 C262.5,312.3 261.6,312.3 258.1,311.1 C254.5,309.9 254.6,309.0 250.5,305.3 C246.4,301.6 245.8,298.2 240.5,295.3 C235.2,292.4 233.2,295.1 227.9,292.8 C222.7,290.4 222.0,289.1 217.9,285.2 C213.8,281.4 212.1,280.3 210.4,276.5 C208.6,272.7 208.6,269.8 210.4,268.9 Z" fill="#D83020" stroke="#000" stroke-width="0.9"/>
<path d="M117.5,353.0 C119.3,347.4 120.4,355.3 125.1,356.8 C129.7,358.2 131.2,358.4 137.6,359.3 C144.0,360.2 145.0,360.8 152.7,360.5 C160.3,360.2 162.6,359.2 170.2,358.0 C177.8,356.8 180.0,355.2 185.3,355.5 C190.6,355.8 190.2,356.9 192.8,359.3 C195.4,361.6 196.3,362.3 196.6,365.5 C196.9,368.8 195.5,369.6 194.1,373.1 C192.6,376.6 208.2,378.8 190.3,380.6 C172.4,382.4 134.5,387.0 117.5,380.6 C100.5,374.2 115.8,358.6 117.5,353.0 Z" fill="#D83020" stroke="#000" stroke-width="1.8"/>
<path d="M214.1,247.1 C216.2,245.2 217.5,245.3 222.9,245.6 C228.4,245.9 229.6,245.9 230.5,248.1 C231.3,250.3 230.0,251.0 225.4,252.1 C220.8,253.2 220.4,253.0 216.6,251.4 C212.9,249.7 212.0,249.0 214.1,247.1 Z" fill="#C800A0"/>
<path d="M217.9,259.6 C220.4,258.8 223.8,259.0 227.9,260.2 C232.1,261.3 233.0,262.3 230.5,263.2 C227.9,264.0 224.6,263.8 220.4,262.7 C216.2,261.5 215.4,260.5 217.9,259.6 Z" fill="#C800A0"/>
<path d="M125.1,360.5 C130.1,354.8 132.6,360.2 140.1,363.5 C147.6,366.9 146.8,364.9 147.6,370.6 C148.5,376.3 150.2,377.3 142.6,380.6 C135.1,383.9 130.9,387.3 125.1,380.6 C119.2,373.9 120.0,366.2 125.1,360.5 Z" fill="#B02C28"/>
<path d="M137.6,370.6 C141.8,366.4 140.9,368.1 150.2,368.1 C159.4,368.1 156.0,370.6 165.2,370.6 C174.4,370.6 171.1,367.6 177.8,368.1 C184.4,368.5 183.6,367.6 185.3,371.8 C187.0,376.0 198.7,377.7 182.8,380.6 C166.9,383.5 152.7,383.9 137.6,380.6 C122.5,377.3 133.4,374.7 137.6,370.6 Z" fill="#C800A0"/>
<path d="M187.8,363.0 C189.9,360.9 192.4,361.4 194.1,364.3 C195.7,367.2 194.9,369.7 192.8,371.8 C190.7,373.9 189.5,373.5 187.8,370.6 C186.1,367.6 185.7,365.1 187.8,363.0 Z" fill="#C800A0"/>
<path d="M150.2,363.5 C156.7,360.9 165.5,359.9 172.7,360.5 C179.9,361.2 178.3,362.9 171.7,365.5 C165.2,368.2 160.4,369.2 153.2,368.6 C146.0,367.9 143.6,366.2 150.2,363.5 Z" fill="#E0643C" stroke="#000" stroke-width="0.9"/>
<path d="M220.4,217.5 C192.8,220.8 221.3,221.7 227.9,227.5 C234.6,233.4 231.3,230.0 240.5,235.1 C249.7,240.1 245.5,237.6 255.5,242.6 C265.6,247.6 261.4,243.4 270.6,250.1 C279.8,256.8 275.6,254.3 283.1,262.7 C290.7,271.0 285.7,268.5 293.2,275.2 C300.7,281.9 299.9,279.4 305.7,282.7 C311.6,286.1 309.1,307.0 310.8,285.2 C312.4,263.5 340.9,240.1 310.8,217.5 C280.6,194.9 248.0,214.1 220.4,217.5 Z" fill="#B02C28"/>
<path d="M235.5,217.5 C215.4,220.8 240.5,223.3 250.5,227.5 C260.6,231.7 258.9,225.9 265.6,230.0 C272.3,234.2 263.9,235.9 270.6,240.1 C277.3,244.3 277.3,244.3 285.7,242.6 C294.0,240.9 287.3,235.1 295.7,235.1 C304.1,235.1 305.7,248.4 310.8,242.6 C315.8,236.7 335.8,225.9 310.8,217.5 C285.7,209.1 255.5,214.1 235.5,217.5 Z" fill="#D83020"/>
<path d="M270.6,217.5 C258.9,220.8 268.9,222.9 275.6,227.5 C282.3,232.1 280.6,229.6 290.7,231.3 C300.7,233.0 299.0,231.3 305.7,232.5 C312.4,233.8 309.1,240.1 310.8,235.1 C312.4,230.0 324.1,223.3 310.8,217.5 C297.4,211.6 282.3,214.1 270.6,217.5 Z" fill="#EE9840"/>
<ellipse cx="283.1" cy="223.8" rx="5.5" ry="3.5" fill="#F8B830"/>
<ellipse cx="303.2" cy="231.3" rx="3.8" ry="2.5" fill="#F8B830"/>
<path d="M275.6,257.6 C276.5,250.9 277.3,253.5 285.7,250.1 C294.0,246.8 292.4,246.8 300.7,247.6 C309.1,248.4 307.4,241.7 310.8,252.6 C314.1,263.5 314.1,270.2 310.8,280.2 C307.4,290.3 307.4,283.2 300.7,282.7 C294.0,282.3 296.5,283.2 290.7,279.0 C284.8,274.8 288.2,277.3 283.1,270.2 C278.1,263.1 274.8,264.3 275.6,257.6 Z" fill="#C800A0"/>
<ellipse cx="298.7" cy="266.9" rx="6.8" ry="5.0" fill="#C830D0" stroke="#000" stroke-width="0.9"/>
<path d="M235.5,225.0 C237.8,226.8 240.2,229.0 245.5,232.5 C250.8,236.1 252.8,236.6 258.1,240.1 C263.3,243.6 262.8,243.5 268.1,247.6 C273.4,251.7 275.4,252.4 280.6,257.6 C285.9,262.9 286.0,264.9 290.7,270.2 C295.4,275.5 296.0,276.4 300.7,280.2 C305.4,284.0 308.4,285.0 310.8,286.5" fill="none" stroke="#000" stroke-width="1.8" stroke-linejoin="round" stroke-linecap="round"/>
</g>
<clipPath id="cE"><rect x="300" y="225" width="180" height="145"/></clipPath>
<g clip-path="url(#cE)">
<rect x="300" y="225" width="180" height="145" fill="#D83020"/>
<path d="M288.7,282.7 C291.4,261.7 293.9,287.2 300.0,292.8 C306.2,298.3 310.1,300.4 315.1,306.6 C320.1,312.7 316.7,314.1 321.4,319.1 C326.1,324.1 330.2,323.5 335.2,327.9 C340.1,332.3 339.2,331.5 342.7,337.9 C346.2,344.4 346.7,349.1 350.2,355.5 C353.7,361.9 352.5,359.1 357.8,365.5 C363.0,372.0 388.9,379.0 372.8,383.1 C356.7,387.2 308.4,406.5 288.7,383.1 C269.1,359.7 286.1,303.8 288.7,282.7 Z" fill="#E0643C" stroke="#000" stroke-width="0.9"/>
<path d="M350.2,225.0 C352.7,220.8 356.9,220.8 365.3,222.5 C373.6,224.2 373.6,225.0 375.3,230.0 C377.0,235.1 376.2,235.9 370.3,237.6 C364.4,239.2 364.4,239.2 357.8,235.1 C351.1,230.9 347.7,229.2 350.2,225.0 Z" fill="#B02C28"/>
<path d="M400.4,242.6 C402.9,238.4 405.4,241.7 415.5,245.1 C425.5,248.4 420.5,245.1 430.5,252.6 C440.6,260.2 438.9,258.5 445.6,267.7 C452.3,276.9 452.3,273.5 450.6,280.2 C448.9,286.9 447.3,286.9 440.6,287.8 C433.9,288.6 437.2,288.6 430.5,282.7 C423.8,276.9 428.0,278.6 420.5,270.2 C413.0,261.8 414.6,266.8 407.9,257.6 C401.3,248.4 397.9,246.8 400.4,242.6 Z" fill="#B02C28"/>
<path d="M315.1,270.2 C320.1,266.0 321.8,265.2 330.2,267.7 C338.5,270.2 336.0,269.4 340.2,277.7 C344.4,286.1 344.4,286.1 342.7,292.8 C341.0,299.5 341.9,298.6 335.2,297.8 C328.5,297.0 329.3,296.1 322.6,290.3 C315.9,284.4 317.6,286.9 315.1,280.2 C312.6,273.5 310.1,274.4 315.1,270.2 Z" fill="#B02C28"/>
<path d="M360.3,292.8 C363.6,288.6 365.3,288.6 372.8,290.3 C380.3,291.9 380.3,291.9 382.8,297.8 C385.4,303.6 384.5,304.5 380.3,307.8 C376.2,311.2 376.2,309.5 370.3,307.8 C364.4,306.2 366.1,307.8 362.8,302.8 C359.4,297.8 356.9,297.0 360.3,292.8 Z" fill="#B02C28"/>
<path d="M465.7,302.8 C469.0,296.1 472.4,299.5 480.7,300.3 C489.1,301.1 487.4,297.0 490.8,305.3 C494.1,313.7 494.1,317.0 490.8,325.4 C487.4,333.8 487.4,332.1 480.7,330.4 C474.0,328.7 475.7,329.6 470.7,320.4 C465.7,311.2 462.3,309.5 465.7,302.8 Z" fill="#B02C28"/>
<path d="M430.5,217.5 C435.5,215.0 438.9,219.2 445.6,225.0 C452.3,230.9 452.3,230.0 450.6,235.1 C448.9,240.1 447.3,240.9 440.6,240.1 C433.9,239.2 433.9,240.1 430.5,232.5 C427.2,225.0 425.5,220.0 430.5,217.5 Z" fill="#B02C28"/>
<path d="M290.0,232.5 C293.3,229.6 294.2,232.5 300.0,237.6 C305.9,242.6 307.6,243.8 307.6,247.6 C307.6,251.4 305.9,249.3 300.0,248.9 C294.2,248.4 293.3,251.8 290.0,246.3 C286.7,240.9 286.7,235.5 290.0,232.5 Z" fill="#B02C28"/>
<path d="M430.5,320.4 C435.5,315.4 437.2,317.9 450.6,317.9 C464.0,317.9 460.6,314.5 470.7,320.4 C480.7,326.2 478.2,323.7 480.7,335.4 C483.2,347.1 483.2,343.8 478.2,355.5 C473.2,367.2 473.2,365.5 465.7,370.6 C458.1,375.6 459.8,375.6 455.6,370.6 C451.4,365.5 457.3,365.5 453.1,355.5 C448.9,345.5 448.9,348.0 443.1,340.5 C437.2,332.9 439.7,339.6 435.5,332.9 C431.4,326.2 425.5,325.4 430.5,320.4 Z" fill="#B02C28"/>
<path d="M292.5,222.5 C296.3,217.8 303.4,218.7 315.1,217.5 C326.8,216.3 332.7,214.0 342.7,217.5 C352.7,221.0 355.4,225.5 357.8,232.5 C360.1,239.6 356.2,241.2 352.7,247.6 C349.2,254.0 347.4,255.8 342.7,260.2 C338.0,264.5 337.9,267.0 332.7,266.4 C327.4,265.8 325.4,262.0 320.1,257.6 C314.8,253.2 315.1,252.3 310.1,247.6 C305.1,242.9 302.9,243.4 298.8,237.6 C294.7,231.7 288.7,227.2 292.5,222.5 Z" fill="#E0643C" stroke="#000" stroke-width="0.9"/>
<path d="M357.8,253.9 C361.3,249.8 363.1,249.7 367.8,247.6 C372.5,245.6 372.6,245.1 377.8,245.1 C383.1,245.1 385.7,245.3 390.4,247.6 C395.1,249.9 393.8,251.6 397.9,255.1 C402.0,258.6 403.8,258.0 407.9,262.7 C412.0,267.3 410.7,270.5 415.5,275.2 C420.3,279.9 426.1,278.1 428.5,282.7 C431.0,287.4 429.1,291.1 426.0,295.3 C423.0,299.5 419.7,301.3 415.5,300.8 C411.3,300.3 411.5,295.1 407.9,293.3 C404.4,291.4 402.8,291.0 400.4,292.8 C398.1,294.5 400.2,298.3 397.9,300.8 C395.6,303.3 393.3,304.6 390.4,303.3 C387.4,302.0 388.3,298.9 385.4,295.3 C382.4,291.7 381.3,290.7 377.8,287.8 C374.3,284.8 373.8,283.2 370.3,282.7 C366.8,282.3 366.9,285.7 362.8,285.7 C358.7,285.7 356.2,285.2 352.7,282.7 C349.2,280.3 347.7,279.3 347.7,275.2 C347.7,271.1 350.4,270.1 352.7,265.2 C355.1,260.2 354.2,258.0 357.8,253.9 Z" fill="#E0643C" stroke="#000" stroke-width="0.9"/>
<path d="M453.1,247.6 C457.3,243.3 457.3,244.3 465.7,240.1 C474.0,235.9 469.8,235.9 478.2,235.1 C486.6,234.2 486.6,229.2 490.8,237.6 C494.9,245.9 494.1,250.8 490.8,260.2 C487.4,269.5 487.4,266.5 480.7,265.7 C474.0,264.8 477.4,260.3 470.7,257.6 C464.0,255.0 466.5,259.1 460.6,257.6 C454.8,256.1 455.6,256.5 453.1,253.1 C450.6,249.8 448.9,252.0 453.1,247.6 Z" fill="#E0643C" stroke="#000" stroke-width="0.9"/>
<path d="M426.8,252.6 L434.3,247.6 L445.6,260.2 L438.1,265.7 Z" fill="#E0643C" stroke="#000" stroke-width="0.9"/>
<path d="M443.1,217.5 C435.5,220.0 445.6,221.3 453.1,225.0 C460.6,228.8 458.1,228.8 465.7,228.8 C473.2,228.8 472.4,228.8 475.7,225.0 C479.0,221.3 486.6,220.0 475.7,217.5 C464.8,215.0 450.6,215.0 443.1,217.5 Z" fill="#E0643C" stroke="#000" stroke-width="0.9"/>
<path d="M415.5,302.8 C418.4,299.9 420.1,299.1 423.0,300.3 C425.9,301.5 423.9,304.9 428.0,307.8 C432.1,310.8 434.7,312.3 440.6,312.8 C446.4,313.4 450.8,312.7 453.1,310.3 C455.5,308.0 452.4,306.3 450.6,302.8 C448.8,299.3 445.0,297.6 445.6,295.3 C446.2,292.9 448.4,292.8 453.1,292.8 C457.8,292.8 461.6,295.9 465.7,295.3 C469.8,294.7 467.2,292.0 470.7,290.3 C474.2,288.5 476.0,288.9 480.7,287.8 C485.4,286.6 488.4,283.5 490.8,285.2 C493.1,287.0 493.1,292.2 490.8,295.3 C488.4,298.3 485.4,296.4 480.7,298.3 C476.0,300.2 474.8,300.4 470.7,303.3 C466.6,306.2 466.7,307.3 463.1,310.8 C459.6,314.4 459.7,316.0 455.6,318.4 C451.5,320.7 450.3,319.1 445.6,320.9 C440.9,322.6 440.8,324.7 435.5,325.9 C430.3,327.1 427.7,327.1 423.0,325.9 C418.3,324.7 418.4,323.9 415.5,320.9 C412.5,317.8 410.5,317.1 410.5,312.8 C410.5,308.6 412.5,305.7 415.5,302.8 Z" fill="#E0643C" stroke="#000" stroke-width="0.9"/>
<path d="M300.0,225.0 C302.5,219.6 302.5,221.7 315.1,221.3 C327.6,220.8 326.0,219.2 337.7,223.8 C349.4,228.4 347.3,227.1 350.2,235.1 C353.2,243.0 350.6,240.1 346.5,247.6 C342.3,255.1 344.0,254.3 337.7,257.6 C331.4,261.0 334.3,261.0 327.6,257.6 C320.9,254.3 324.3,254.3 317.6,247.6 C310.9,240.9 313.4,245.1 307.6,237.6 C301.7,230.0 297.5,230.5 300.0,225.0 Z" fill="#EE9840"/>
<path d="M365.3,252.6 C371.1,245.9 370.3,250.1 380.3,251.4 C390.4,252.6 386.2,249.7 395.4,256.4 C404.6,263.1 402.1,262.7 407.9,271.4 C413.8,280.2 413.8,276.0 413.0,282.7 C412.1,289.4 411.3,289.8 405.4,291.5 C399.6,293.2 400.4,286.5 395.4,287.8 C390.4,289.0 394.6,295.7 390.4,295.3 C386.2,294.9 387.9,291.9 382.8,286.5 C377.8,281.1 382.0,284.0 375.3,279.0 C368.6,274.0 366.1,280.2 362.8,271.4 C359.4,262.7 359.4,259.3 365.3,252.6 Z" fill="#EE9840"/>
<path d="M465.7,243.8 C466.5,239.7 469.8,239.7 478.2,238.8 C486.6,238.0 486.6,237.6 490.8,241.3 C494.9,245.1 495.8,246.8 490.8,250.1 C485.7,253.5 484.1,253.5 475.7,251.4 C467.3,249.3 464.8,248.0 465.7,243.8 Z" fill="#EE9840"/>
<ellipse cx="458.1" cy="223.0" rx="6.3" ry="2.5" fill="#EE9840"/>
<path d="M420.5,312.8 C423.8,310.3 423.8,311.6 430.5,312.8 C437.2,314.1 433.9,315.8 440.6,316.6 C447.3,317.4 449.8,314.1 450.6,315.4 C451.4,316.6 449.8,317.9 443.1,320.4 C436.4,322.9 438.1,322.9 430.5,322.9 C423.0,322.9 423.8,323.7 420.5,320.4 C417.1,317.0 417.1,315.4 420.5,312.8 Z" fill="#EE9840"/>
<path d="M450.6,295.3 C454.8,294.0 462.3,295.3 465.7,297.8 C469.0,300.3 464.8,301.6 460.6,302.8 C456.5,304.1 456.5,304.1 453.1,301.6 C449.8,299.0 446.4,296.5 450.6,295.3 Z" fill="#EE9840"/>
<ellipse cx="305.1" cy="230.5" rx="5.0" ry="3.0" fill="#F8B830" transform="rotate(20 305.1 230.5)"/>
<ellipse cx="344.0" cy="244.6" rx="5.5" ry="4.0" fill="#F8B830"/>
<ellipse cx="325.1" cy="242.6" rx="3.5" ry="2.5" fill="#F8B830"/>
<ellipse cx="336.4" cy="225.0" rx="4.5" ry="2.5" fill="#F8B830"/>
<ellipse cx="327.6" cy="237.6" rx="5.0" ry="2.0" fill="#E0643C" stroke="#000" stroke-width="0.9"/>
<ellipse cx="325.6" cy="257.1" rx="3.0" ry="3.5" fill="#E0643C" stroke="#000" stroke-width="0.9"/>
<path d="M372.8,262.7 C373.5,259.1 377.7,258.5 382.8,260.2 C388.0,261.8 389.0,264.2 388.4,267.7 C387.7,271.2 386.0,272.4 380.8,270.7 C375.7,269.0 372.1,266.2 372.8,262.7 Z" fill="#F8B830"/>
<path d="M386.6,282.7 C387.3,279.2 390.8,279.8 395.4,280.2 C400.0,280.6 401.1,280.5 400.4,284.0 C399.7,287.5 398.0,291.2 393.4,290.8 C388.8,290.3 385.9,286.2 386.6,282.7 Z" fill="#F8B830"/>
<ellipse cx="477.0" cy="242.6" rx="3.5" ry="4.5" fill="#F8B830"/>
<ellipse cx="434.3" cy="317.9" rx="5.0" ry="2.0" fill="#F8B830"/>
<ellipse cx="469.4" cy="252.6" rx="3.5" ry="4.0" fill="#E0643C" stroke="#000" stroke-width="0.9"/>
<path d="M288.7,247.6 C292.5,237.8 293.8,245.5 300.0,248.9 C306.3,252.2 303.2,250.5 307.6,257.6 C311.9,264.8 313.1,263.3 313.1,270.2 C313.1,277.0 312.8,274.7 307.6,278.2 C302.4,281.7 303.8,280.7 297.5,280.7 C291.3,280.7 291.7,289.3 288.7,278.2 C285.8,267.2 285.0,257.4 288.7,247.6 Z" fill="#C800A0"/>
<path d="M322.6,294.8 C326.8,294.6 331.7,296.6 335.2,299.8 C338.7,303.0 337.3,304.1 333.2,304.3 C329.0,304.5 326.1,303.5 322.6,300.3 C319.1,297.1 318.4,294.9 322.6,294.8 Z" fill="#C800A0"/>
<path d="M380.3,305.1 C384.4,303.1 390.5,304.7 396.4,306.8 C402.3,309.0 402.2,310.8 405.7,314.4 C409.2,317.9 408.4,318.4 411.5,321.9 C414.5,325.4 414.8,325.9 418.7,329.4 C422.7,332.9 424.3,335.6 428.3,336.9 C432.3,338.3 432.8,334.3 435.8,335.2 C438.8,336.1 439.2,337.2 441.3,340.7 C443.5,344.2 442.9,346.1 445.1,350.0 C447.3,353.9 448.7,353.3 450.9,357.5 C453.0,361.7 453.5,362.1 454.4,368.1 C455.2,374.0 463.1,379.6 454.4,383.1 C445.6,386.6 425.9,386.5 417.0,383.1 C408.0,379.7 419.7,373.8 416.0,368.6 C412.2,363.3 407.2,364.4 400.9,360.5 C394.6,356.7 393.1,356.1 388.9,352.0 C384.7,347.9 385.4,348.0 382.8,343.0 C380.3,337.9 378.7,336.9 377.8,330.4 C377.0,324.0 378.5,321.3 379.1,315.4 C379.7,309.4 376.3,307.1 380.3,305.1 Z" fill="#C800A0"/>
<path d="M450.6,327.7 C451.9,325.1 453.7,324.4 456.4,325.6 C459.1,326.9 459.9,328.8 458.6,331.4 C457.4,334.0 455.3,334.7 452.6,333.4 C449.9,332.2 449.3,330.2 450.6,327.7 Z" fill="#C800A0"/>
<ellipse cx="297.5" cy="267.7" rx="8.0" ry="5.0" fill="#C830D0" stroke="#000" stroke-width="0.9"/>
<path d="M384.1,311.6 C387.0,308.5 390.6,309.5 394.4,310.6 C398.1,311.7 397.9,313.3 400.2,316.4 C402.4,319.5 401.8,320.4 403.9,323.9 C406.1,327.4 406.9,327.9 409.4,331.4 C412.0,334.9 411.9,335.9 415.0,338.9 C418.0,342.0 419.4,341.9 422.5,344.5 C425.6,347.0 425.6,347.8 428.3,350.0 C430.9,352.2 430.7,352.0 433.8,353.8 C436.8,355.5 438.7,354.9 441.3,357.5 C444.0,360.2 443.8,359.1 445.1,365.0 C446.4,371.0 453.4,378.9 446.8,383.1 C440.3,387.3 424.2,386.5 417.0,383.1 C409.8,379.7 419.7,373.8 416.0,368.6 C412.2,363.3 406.9,364.2 400.9,360.5 C394.9,356.9 393.7,356.5 390.4,353.0 C387.0,349.5 388.7,349.6 386.6,345.5 C384.5,341.4 382.4,340.5 381.3,335.4 C380.3,330.4 381.5,329.5 382.1,323.9 C382.7,318.3 381.2,314.7 384.1,311.6 Z" fill="#C830D0" stroke="#000" stroke-width="0.9"/>
<path d="M420.5,364.3 C423.8,358.0 424.7,358.0 430.5,364.3 C436.4,370.6 441.4,376.8 438.1,383.1 C434.7,389.4 426.3,389.4 420.5,383.1 C414.6,376.8 417.1,370.6 420.5,364.3 Z" fill="#C868C8"/>
<path d="M385.4,320.4 C387.0,317.9 390.4,317.4 395.4,319.1 C400.4,320.8 402.1,322.9 400.4,325.4 C398.7,327.9 395.4,328.3 390.4,326.6 C385.4,325.0 383.7,322.9 385.4,320.4 Z" fill="#C868C8"/>
<path d="M387.9,327.9 C391.2,325.2 395.2,324.8 400.4,326.6 C405.6,328.5 400.7,328.7 403.4,333.4 C406.1,338.2 409.4,339.3 408.4,341.0 C407.4,342.6 406.4,340.5 400.4,338.4 C394.4,336.4 394.6,338.2 390.4,334.7 C386.2,331.2 384.5,330.6 387.9,327.9 Z" fill="#E0643C" stroke="#000" stroke-width="0.9"/>
<ellipse cx="428.0" cy="344.7" rx="3.0" ry="2.3" fill="#E0643C" stroke="#000" stroke-width="0.9"/>
<ellipse cx="463.1" cy="338.4" rx="4.0" ry="2.0" fill="#E0643C" stroke="#000" stroke-width="0.9"/>
<ellipse cx="485.7" cy="336.7" rx="3.0" ry="2.5" fill="#E0643C" stroke="#000" stroke-width="0.9"/>
<ellipse cx="453.1" cy="335.4" rx="1.8" ry="1.8" fill="#E0643C" stroke="#000" stroke-width="0.9"/>
<ellipse cx="396.6" cy="332.2" rx="3.5" ry="2.0" fill="#EE9840"/>
<path d="M288.7,280.2 C292.6,283.2 297.7,286.9 305.1,292.8 C312.4,298.6 313.1,300.1 320.1,305.3 C327.1,310.6 328.7,311.8 335.2,315.4 C341.6,318.9 342.4,318.6 347.7,320.4 C353.0,322.1 353.1,320.0 357.8,322.9 C362.4,325.8 363.1,328.2 367.8,332.9 C372.5,337.6 372.9,338.5 377.8,343.0 C382.7,347.4 383.5,348.0 388.9,352.0 C394.3,356.0 394.6,356.3 400.9,360.0 C407.2,363.8 412.2,364.4 416.0,368.1 C419.7,371.7 417.1,372.1 417.0,375.6 C416.9,379.1 415.8,381.4 415.5,383.1" fill="none" stroke="#000" stroke-width="1.8" stroke-linejoin="round" stroke-linecap="round"/>
<path d="M345.2,315.4 C346.9,312.4 349.4,312.4 355.2,312.8 C361.1,313.3 361.1,313.7 362.8,316.6 C364.4,319.5 364.4,320.0 360.3,321.6 C356.1,323.3 355.2,323.7 350.2,321.6 C345.2,319.5 343.5,318.3 345.2,315.4 Z" fill="none" stroke="#000" stroke-width="1.5" stroke-linejoin="round" stroke-linecap="round"/>
<path d="M411.7,217.5 C410.8,220.4 412.3,225.9 407.9,230.0 C403.6,234.1 399.9,234.5 392.9,235.1 C385.9,235.6 381.6,231.4 377.8,232.5 C374.0,233.7 375.7,236.6 376.6,240.1 C377.5,243.6 380.1,244.4 381.6,247.6 C383.1,250.8 384.0,252.1 382.8,253.9 C381.7,255.6 379.5,256.6 376.6,255.1 C373.6,253.7 373.5,249.2 370.3,247.6 C367.1,246.0 365.7,246.6 362.8,248.1 C359.8,249.6 359.8,250.5 357.8,253.9 C355.7,257.3 356.3,258.9 354.0,262.7 C351.6,266.5 350.1,266.1 347.7,270.2 C345.4,274.3 345.1,275.0 344.0,280.2 C342.8,285.5 342.1,286.9 342.7,292.8 C343.3,298.6 344.1,301.8 346.5,305.3 C348.8,308.8 351.3,305.5 352.7,307.8 C354.2,310.2 351.6,312.9 352.7,315.4 C353.9,317.8 356.6,317.7 357.8,318.4" fill="none" stroke="#000" stroke-width="1.8" stroke-linejoin="round" stroke-linecap="round"/>
<path d="M392.9,235.1 C394.6,236.2 396.9,237.7 400.4,240.1 C403.9,242.4 404.4,242.2 407.9,245.1 C411.5,248.0 412.0,249.1 415.5,252.6 C419.0,256.1 419.5,257.2 423.0,260.2 C426.5,263.1 426.4,262.8 430.5,265.2 C434.6,267.5 435.9,267.8 440.6,270.2 C445.2,272.5 445.9,272.9 450.6,275.2 C455.3,277.5 456.5,278.5 460.6,280.2 C464.7,282.0 466.4,282.1 468.2,282.7" fill="none" stroke="#000" stroke-width="1.8" stroke-linejoin="round" stroke-linecap="round"/>
<path d="M397.9,337.9 C399.6,334.6 398.7,334.6 402.9,327.9 C407.1,321.2 406.3,322.0 410.5,317.9 C414.6,313.7 413.8,316.2 415.5,315.4" fill="none" stroke="#000" stroke-width="1.5" stroke-linejoin="round" stroke-linecap="round"/>
<path d="M415.5,302.8 C417.8,302.2 422.0,299.1 425.5,300.3 C429.0,301.5 427.0,304.8 430.5,307.8 C434.0,310.9 435.9,313.4 440.6,313.4 C445.2,313.4 448.8,311.5 450.6,307.8 C452.4,304.2 449.8,301.0 448.1,297.8 C446.3,294.6 441.9,295.5 443.1,294.0 C444.2,292.6 447.8,293.3 453.1,291.5 C458.4,289.8 461.6,288.5 465.7,286.5 C469.8,284.5 469.5,283.6 470.7,282.7" fill="none" stroke="#000" stroke-width="1.8" stroke-linejoin="round" stroke-linecap="round"/>
<path d="M450.6,307.8 C452.4,310.2 454.6,313.8 458.1,317.9 C461.6,322.0 461.6,320.7 465.7,325.4 C469.8,330.1 472.2,332.1 475.7,337.9 C479.2,343.8 479.0,345.2 480.7,350.5 C482.5,355.8 483.8,355.8 483.2,360.5 C482.6,365.2 480.0,365.3 478.2,370.6 C476.4,375.8 476.3,380.2 475.7,383.1" fill="none" stroke="#000" stroke-width="1.8" stroke-linejoin="round" stroke-linecap="round"/>
<path d="M397.9,337.9 C398.7,341.3 399.2,340.5 400.4,348.0 C401.7,355.5 401.3,356.3 401.7,360.5" fill="none" stroke="#000" stroke-width="1.5" stroke-linejoin="round" stroke-linecap="round"/>
</g>
<clipPath id="cF"><rect x="480" y="225" width="178" height="145"/></clipPath>
<g clip-path="url(#cF)">
<rect x="480" y="225" width="178" height="145" fill="#D83020"/>
<path d="M500.1,225.0 C504.3,220.8 505.1,221.7 520.2,222.5 C535.2,223.3 528.6,223.3 545.3,227.5 C562.0,231.7 556.2,228.4 570.4,235.1 C584.6,241.7 577.9,238.4 587.9,247.6 C598.0,256.8 598.0,252.6 600.5,262.7 C603.0,272.7 603.0,271.0 595.5,277.7 C587.9,284.4 587.9,283.6 577.9,282.7 C567.9,281.9 573.7,279.4 565.4,275.2 C557.0,271.0 561.2,270.2 552.8,270.2 C544.4,270.2 548.6,275.2 540.3,275.2 C531.9,275.2 529.4,274.4 527.7,270.2 C526.0,266.0 525.2,264.8 535.2,262.7 C545.3,260.6 549.0,266.4 557.8,263.9 C566.6,261.4 562.4,262.2 561.6,255.1 C560.8,248.0 561.6,246.3 555.3,242.6 C549.0,238.8 549.5,244.7 542.8,243.8 C536.1,243.0 542.8,242.2 535.2,240.1 C527.7,238.0 529.4,239.2 520.2,237.6 C511.0,235.9 514.3,239.2 507.6,235.1 C500.9,230.9 495.9,229.2 500.1,225.0 Z" fill="#B02C28"/>
<path d="M470.0,295.3 C472.5,290.3 474.2,291.9 485.1,292.8 C495.9,293.6 490.9,297.0 502.6,297.8 C514.3,298.6 511.0,292.8 520.2,295.3 C529.4,297.8 530.2,298.6 530.2,305.3 C530.2,312.0 528.6,310.3 520.2,315.4 C511.8,320.4 515.2,319.5 505.1,320.4 C495.1,321.2 499.3,322.0 490.1,317.9 C480.9,313.7 484.2,315.4 477.5,307.8 C470.8,300.3 467.5,300.3 470.0,295.3 Z" fill="#B02C28"/>
<path d="M570.4,295.3 C574.6,291.1 575.4,290.3 585.4,290.3 C595.5,290.3 597.1,290.3 600.5,295.3 C603.8,300.3 601.3,302.0 595.5,305.3 C589.6,308.7 590.5,306.2 582.9,305.3 C575.4,304.5 577.1,306.2 572.9,302.8 C568.7,299.5 566.2,299.5 570.4,295.3 Z" fill="#B02C28"/>
<path d="M610.5,290.3 C617.2,283.6 618.9,284.4 630.6,285.2 C642.3,286.1 639.0,285.2 645.7,292.8 C652.4,300.3 651.5,297.0 650.7,307.8 C649.8,318.7 649.8,317.9 643.1,325.4 C636.5,332.9 639.8,332.1 630.6,330.4 C621.4,328.7 622.2,328.7 615.5,320.4 C608.9,312.0 612.2,315.4 610.5,305.3 C608.9,295.3 603.8,297.0 610.5,290.3 Z" fill="#B02C28"/>
<path d="M532.7,345.5 C535.2,339.6 534.4,342.1 545.3,337.9 C556.2,333.8 552.0,334.6 565.4,332.9 C578.7,331.3 573.7,331.3 585.4,332.9 C597.1,334.6 597.1,332.1 600.5,337.9 C603.8,343.8 602.2,345.5 595.5,350.5 C588.8,355.5 590.5,349.7 580.4,353.0 C570.4,356.3 575.4,358.0 565.4,360.5 C555.3,363.0 559.5,362.2 550.3,360.5 C541.1,358.9 543.6,360.5 537.8,355.5 C531.9,350.5 530.2,351.3 532.7,345.5 Z" fill="#B02C28"/>
<path d="M495.1,360.5 C500.9,355.5 500.1,355.5 510.2,355.5 C520.2,355.5 518.5,354.7 525.2,360.5 C531.9,366.4 531.9,366.4 530.2,373.1 C528.6,379.8 530.2,378.1 520.2,380.6 C510.2,383.1 509.3,383.9 500.1,380.6 C490.9,377.3 494.3,377.3 492.6,370.6 C490.9,363.9 489.2,365.5 495.1,360.5 Z" fill="#B02C28"/>
<path d="M620.6,340.5 C623.9,332.9 630.6,334.6 640.6,337.9 C650.7,341.3 649.0,341.3 650.7,350.5 C652.4,359.7 652.4,362.2 645.7,365.5 C639.0,368.9 639.0,368.9 630.6,360.5 C622.2,352.2 617.2,348.0 620.6,340.5 Z" fill="#B02C28"/>
<path d="M570.4,220.0 C575.4,217.5 579.6,218.3 587.9,222.5 C596.3,226.7 597.1,228.4 595.5,232.5 C593.8,236.7 590.5,235.9 582.9,235.1 C575.4,234.2 577.1,235.1 572.9,230.0 C568.7,225.0 565.4,222.5 570.4,220.0 Z" fill="#B02C28"/>
<path d="M468.7,218.7 C473.3,209.1 477.5,217.5 482.5,221.3 C487.6,225.0 484.2,222.1 483.8,230.0 C483.4,238.0 486.3,238.4 481.3,245.1 C476.3,251.8 472.9,258.9 468.7,250.1 C464.6,241.3 464.1,228.4 468.7,218.7 Z" fill="#EE9840"/>
<path d="M501.4,227.3 C504.5,224.5 511.4,222.9 514.9,224.3 C518.4,225.7 516.8,229.1 516.4,233.3 C516.1,237.5 512.0,238.8 513.4,242.3 C514.8,245.8 518.2,247.7 522.4,248.4 C526.7,249.1 528.7,243.9 531.5,245.3 C534.3,246.8 535.9,250.9 534.5,254.4 C533.1,257.9 530.4,260.4 525.5,260.4 C520.5,260.4 517.6,257.9 513.4,254.4 C509.2,250.9 510.2,249.6 507.4,245.3 C504.6,241.1 502.8,240.5 501.4,236.3 C500.0,232.1 498.2,230.1 501.4,227.3 Z" fill="#E0643C" stroke="#000" stroke-width="0.9"/>
<path d="M476.3,257.6 C477.4,255.3 480.4,254.4 485.1,252.6 C489.7,250.9 492.8,248.6 496.3,250.1 C499.9,251.6 499.8,254.2 500.1,258.9 C500.4,263.6 499.4,265.2 497.6,270.2 C495.8,275.2 496.1,276.1 492.6,280.2 C489.1,284.3 488.1,285.7 482.5,287.8 C477.0,289.8 472.0,290.8 468.7,289.0 C465.5,287.3 466.1,283.7 468.7,280.2 C471.4,276.7 476.2,276.9 480.0,274.0 C483.8,271.0 485.1,270.3 485.1,267.7 C485.1,265.0 482.1,265.0 480.0,262.7 C478.0,260.3 475.1,260.0 476.3,257.6 Z" fill="#E0643C" stroke="#000" stroke-width="0.9"/>
<path d="M511.4,247.6 C512.3,244.0 515.8,242.7 520.2,242.1 C524.6,241.5 526.6,242.3 530.2,245.1 C533.9,247.8 532.2,253.9 535.7,253.9 C539.3,253.9 541.3,247.6 545.3,245.1 C549.3,242.6 550.6,241.9 552.8,243.1 C555.0,244.3 552.9,247.2 554.8,250.1 C556.7,253.0 560.1,252.6 560.8,255.6 C561.5,258.7 561.5,260.5 557.8,263.2 C554.2,265.8 549.3,267.6 545.3,266.9 C541.3,266.2 543.6,261.3 540.8,260.2 C538.0,259.0 537.2,261.0 533.2,261.9 C529.3,262.8 527.9,264.9 524.0,263.9 C520.0,262.9 519.4,261.4 516.4,257.6 C513.5,253.8 510.5,251.2 511.4,247.6 Z" fill="#E0643C" stroke="#000" stroke-width="0.9"/>
<path d="M534.0,290.3 C536.6,287.9 540.3,286.5 545.3,286.5 C550.3,286.5 552.4,287.6 555.3,290.3 C558.2,292.9 555.2,294.3 557.8,297.8 C560.5,301.3 566.0,303.0 566.6,305.3 C567.2,307.7 564.1,308.4 560.3,307.8 C556.5,307.2 555.6,304.0 550.3,302.8 C545.0,301.6 541.6,304.3 537.8,302.8 C533.9,301.3 534.9,299.5 534.0,296.5 C533.1,293.6 531.4,292.6 534.0,290.3 Z" fill="#E0643C" stroke="#000" stroke-width="0.9"/>
<path d="M564.1,291.5 C564.9,289.4 568.7,289.0 572.9,289.0 C577.1,289.0 577.5,289.4 576.6,291.5 C575.8,293.6 574.6,295.3 570.4,295.3 C566.2,295.3 563.3,293.6 564.1,291.5 Z" fill="#E0643C" stroke="#000" stroke-width="0.9"/>
<path d="M585.4,307.8 C587.1,302.0 587.9,304.5 593.0,302.8 C598.0,301.1 595.9,300.3 600.5,302.8 C605.1,305.3 604.3,305.3 606.8,310.3 C609.3,315.4 610.1,313.3 608.0,317.9 C605.9,322.5 605.5,321.6 600.5,324.1 C595.5,326.6 597.1,326.6 593.0,325.4 C588.8,324.1 590.5,326.2 587.9,320.4 C585.4,314.5 583.8,313.7 585.4,307.8 Z" fill="#E0643C" stroke="#000" stroke-width="0.9"/>
<path d="M542.8,326.6 C544.5,325.2 548.1,324.8 552.8,325.4 C557.5,326.0 557.6,328.6 562.8,329.2 C568.1,329.7 569.5,328.8 575.4,327.9 C581.3,327.0 583.8,325.7 587.9,325.4 C592.0,325.1 594.1,325.2 593.0,326.6 C591.8,328.1 588.2,330.2 582.9,331.7 C577.7,333.1 576.8,332.3 570.4,332.9 C563.9,333.5 561.2,334.5 555.3,334.2 C549.5,333.9 548.2,333.4 545.3,331.7 C542.4,329.9 541.0,328.1 542.8,326.6 Z" fill="#E0643C" stroke="#000" stroke-width="0.9"/>
<path d="M468.7,360.5 C471.4,354.4 475.1,356.6 480.0,354.3 C485.0,351.9 484.8,353.7 490.1,350.5 C495.3,347.3 497.4,343.7 502.6,340.5 C507.9,337.2 507.7,338.2 512.7,336.7 C517.6,335.2 520.1,333.3 524.0,334.2 C527.8,335.1 529.3,337.8 529.0,340.5 C528.7,343.1 527.1,344.3 522.7,345.5 C518.3,346.6 515.4,343.7 510.2,345.5 C504.9,347.2 504.2,349.5 500.1,353.0 C496.0,356.5 496.7,357.0 492.6,360.5 C488.5,364.0 486.6,365.7 482.5,368.1 C478.4,370.4 478.2,367.6 475.0,370.6 C471.8,373.5 470.2,382.9 468.7,380.6 C467.3,378.3 466.1,366.7 468.7,360.5 Z" fill="#E0643C" stroke="#000" stroke-width="0.9"/>
<path d="M595.5,340.5 C595.5,337.8 599.5,337.1 605.5,337.9 C611.5,338.8 613.5,340.3 613.5,343.0 C613.5,345.6 611.5,346.8 605.5,346.0 C599.5,345.1 595.5,343.1 595.5,340.5 Z" fill="#E0643C" stroke="#000" stroke-width="0.9"/>
<path d="M600.5,370.6 C604.7,366.8 608.4,366.0 613.0,369.3 C617.6,372.7 618.5,376.8 614.3,380.6 C610.1,384.4 605.1,383.9 600.5,380.6 C595.9,377.3 596.3,374.3 600.5,370.6 Z" fill="#E0643C" stroke="#000" stroke-width="0.9"/>
<ellipse cx="485.1" cy="336.7" rx="2.3" ry="2.8" fill="#E0643C" stroke="#000" stroke-width="0.9"/>
<path d="M525.2,370.6 C529.1,368.2 533.2,370.2 535.7,373.6 C538.3,376.9 536.7,378.3 532.7,380.6 C528.8,382.9 526.5,383.9 524.0,380.6 C521.4,377.3 521.3,372.9 525.2,370.6 Z" fill="#E0643C" stroke="#000" stroke-width="0.9"/>
<path d="M600.5,218.7 C603.5,219.9 605.8,224.5 610.5,230.0 C615.2,235.6 614.7,236.7 620.6,242.6 C626.4,248.4 628.5,249.3 635.6,255.1 C642.8,261.0 648.8,264.3 651.2,267.7 C653.5,271.0 650.5,271.1 645.7,269.4 C640.9,267.8 637.0,265.0 630.6,260.7 C624.2,256.3 623.3,255.9 618.1,250.6 C612.8,245.3 612.8,244.0 608.0,238.1 C603.2,232.1 599.2,229.5 597.5,225.0 C595.7,220.5 597.4,217.6 600.5,218.7 Z" fill="#E0643C" stroke="#000" stroke-width="0.9"/>
<path d="M630.6,246.3 C630.6,242.2 635.6,244.7 645.7,242.6 C655.7,240.5 655.7,235.5 660.7,240.1 C665.7,244.7 665.7,251.4 660.7,256.4 C655.7,261.4 655.7,258.5 645.7,255.1 C635.6,251.8 630.6,250.5 630.6,246.3 Z" fill="#E0643C" stroke="#000" stroke-width="0.9"/>
<path d="M472.5,222.5 C475.0,216.7 478.8,220.0 481.3,225.0 C483.8,230.0 482.5,231.7 480.0,237.6 C477.5,243.4 476.3,247.6 473.8,242.6 C471.3,237.6 470.0,228.4 472.5,222.5 Z" fill="#F8B830"/>
<path d="M482.5,257.6 C485.9,252.6 490.9,251.8 495.1,255.1 C499.3,258.5 497.6,260.2 495.1,267.7 C492.6,275.2 492.6,272.7 487.6,277.7 C482.5,282.7 480.9,285.2 480.0,282.7 C479.2,280.2 484.2,278.6 485.1,270.2 C485.9,261.8 479.2,262.7 482.5,257.6 Z" fill="#EE9840"/>
<path d="M517.7,246.3 C520.6,244.4 522.9,244.8 527.7,248.1 C532.6,251.5 533.5,252.4 532.2,256.4 C531.0,260.4 528.4,261.0 524.0,260.2 C519.5,259.3 521.0,258.5 518.9,253.9 C516.8,249.3 514.8,248.3 517.7,246.3 Z" fill="#F8B830"/>
<path d="M537.8,292.8 C541.9,290.4 547.0,290.7 552.8,292.8 C558.7,294.9 559.5,296.7 555.3,299.0 C551.1,301.4 546.1,301.9 540.3,299.8 C534.4,297.7 533.6,295.1 537.8,292.8 Z" fill="#EE9840"/>
<ellipse cx="570.4" cy="292.3" rx="3.0" ry="1.5" fill="#F8B830"/>
<path d="M545.3,327.9 C548.2,327.1 552.4,326.9 555.3,328.4 C558.2,329.9 557.0,331.6 554.1,332.4 C551.1,333.3 549.5,332.4 546.5,330.9 C543.6,329.4 542.4,328.7 545.3,327.9 Z" fill="#EE9840"/>
<path d="M472.5,363.0 C474.2,358.9 475.9,360.5 482.5,356.8 C489.2,353.0 487.6,352.2 492.6,351.7 C497.6,351.3 499.3,351.7 497.6,355.5 C495.9,359.3 494.3,358.4 487.6,363.0 C480.9,367.6 482.5,369.3 477.5,369.3 C472.5,369.3 470.8,367.2 472.5,363.0 Z" fill="#EE9840"/>
<path d="M635.6,248.1 C638.1,245.4 644.0,243.6 650.7,245.1 C657.4,246.6 658.2,249.9 655.7,252.6 C653.2,255.3 649.8,254.6 643.1,253.1 C636.5,251.6 633.1,250.8 635.6,248.1 Z" fill="#EE9840"/>
<ellipse cx="485.1" cy="358.0" rx="4.5" ry="2.5" fill="#F8B830" transform="rotate(-35 485.1 358.0)"/>
<path d="M600.5,280.2 C604.7,275.6 609.5,277.3 615.5,279.0 C621.6,280.6 620.2,280.5 618.6,285.2 C616.9,290.0 615.7,290.8 610.5,293.3 C605.3,295.8 606.3,297.1 603.0,292.8 C599.7,288.4 596.3,284.8 600.5,280.2 Z" fill="#C800A0"/>
<path d="M645.7,282.7 C647.3,278.1 651.8,274.8 656.2,281.5 C660.5,288.2 660.4,298.2 658.7,302.8 C657.0,307.4 655.5,302.0 651.2,295.3 C646.8,288.6 644.0,287.3 645.7,282.7 Z" fill="#C800A0"/>
<path d="M620.6,315.4 C624.7,313.5 631.4,311.8 635.6,312.8 C639.8,313.9 637.3,316.5 633.1,318.4 C628.9,320.2 627.3,319.4 623.1,318.4 C618.9,317.4 616.4,317.2 620.6,315.4 Z" fill="#C800A0"/>
<path d="M618.1,327.9 C623.1,325.0 627.1,324.1 633.1,326.6 C639.1,329.2 638.6,331.1 636.1,335.4 C633.6,339.8 631.6,339.7 625.6,339.7 C619.6,339.7 620.6,339.4 618.1,335.4 C615.5,331.5 613.0,330.8 618.1,327.9 Z" fill="#C800A0"/>
<path d="M525.2,324.1 C527.3,321.0 530.9,320.8 535.2,322.9 C539.6,325.0 540.3,327.3 538.3,330.4 C536.2,333.5 533.3,334.3 529.0,332.2 C524.6,330.1 523.1,327.2 525.2,324.1 Z" fill="#C800A0"/>
<path d="M555.3,340.5 C563.7,338.4 563.7,337.5 570.4,339.2 C577.1,340.9 577.1,340.9 575.4,345.5 C573.7,350.1 572.9,351.3 565.4,353.0 C557.8,354.7 559.5,349.7 552.8,350.5 C546.1,351.3 550.5,354.7 545.3,355.5 C540.1,356.3 537.3,356.3 537.3,353.0 C537.3,349.7 539.3,349.7 545.3,345.5 C551.3,341.3 547.0,342.5 555.3,340.5 Z" fill="#C800A0"/>
<path d="M560.3,368.1 C563.7,361.4 562.8,364.7 570.4,360.5 C577.9,356.3 572.9,357.6 582.9,355.5 C593.0,353.4 587.9,355.9 600.5,354.3 C613.0,352.6 617.2,348.4 620.6,350.5 C623.9,352.6 617.2,355.5 610.5,360.5 C603.8,365.5 605.5,358.9 600.5,365.5 C595.5,372.2 608.9,375.6 595.5,380.6 C582.1,385.6 572.0,384.8 560.3,380.6 C548.6,376.4 557.0,374.7 560.3,368.1 Z" fill="#C800A0"/>
<path d="M587.9,242.6 C589.9,240.1 592.4,238.0 595.5,237.6 C598.6,237.1 599.2,238.8 597.2,241.3 C595.3,243.8 592.8,244.7 589.7,245.1 C586.6,245.5 586.0,245.1 587.9,242.6 Z" fill="#C800A0"/>
<ellipse cx="611.8" cy="308.3" rx="2.5" ry="1.8" fill="#C800A0"/>
<ellipse cx="589.9" cy="363.5" rx="3.5" ry="2.3" fill="#D83020" stroke="#000" stroke-width="0.9"/>
<path d="M600.5,218.7 C602.0,221.7 603.2,226.3 606.8,231.3 C610.3,236.3 611.2,235.7 615.5,240.1 C619.9,244.5 620.6,245.7 625.6,250.1 C630.6,254.5 634.5,255.4 636.9,258.9 C639.2,262.4 637.7,261.9 635.6,265.2 C633.6,268.4 631.6,268.9 628.1,272.7 C624.6,276.5 624.7,278.8 620.6,281.5 C616.5,284.1 614.6,282.8 610.5,284.0 C606.4,285.2 605.3,283.9 603.0,286.5 C600.7,289.1 601.1,291.5 600.5,295.3 C599.9,299.1 599.0,299.3 600.5,302.8 C602.0,306.3 605.0,307.1 606.8,310.3 C608.5,313.6 608.9,313.7 608.0,316.6 C607.1,319.5 605.9,320.8 603.0,322.9 C600.1,324.9 599.0,324.5 595.5,325.4 C592.0,326.3 592.6,326.1 587.9,326.6 C583.3,327.2 580.7,328.2 575.4,327.9 C570.1,327.6 570.0,324.8 565.4,325.4 C560.7,326.0 560.6,329.0 555.3,330.4 C550.1,331.9 548.0,331.4 542.8,331.7 C537.5,332.0 537.1,330.2 532.7,331.7 C528.3,333.1 528.6,336.5 524.0,337.9 C519.3,339.4 517.6,336.8 512.7,337.9 C507.7,339.1 507.3,340.6 502.6,343.0 C497.9,345.3 497.0,345.1 492.6,348.0 C488.2,350.9 486.7,352.3 483.8,355.5 C480.9,358.7 480.9,360.3 480.0,361.8" fill="none" stroke="#000" stroke-width="1.7" stroke-linejoin="round" stroke-linecap="round"/>
<path d="M468.7,330.4 C470.8,332.2 474.6,333.8 477.5,337.9 C480.5,342.0 480.1,343.3 481.3,348.0 C482.5,352.7 482.8,354.8 482.5,358.0 C482.3,361.2 481.5,359.4 480.0,361.8 C478.6,364.1 477.4,363.7 476.3,368.1 C475.1,372.4 475.3,377.7 475.0,380.6" fill="none" stroke="#000" stroke-width="1.7" stroke-linejoin="round" stroke-linecap="round"/>
<path d="M595.5,325.4 C597.2,327.7 598.9,331.3 603.0,335.4 C607.1,339.5 608.4,339.4 613.0,343.0 C617.7,346.5 619.0,346.4 623.1,350.5 C627.2,354.6 627.7,355.8 630.6,360.5 C633.5,365.2 634.0,365.9 635.6,370.6 C637.3,375.2 637.2,378.3 637.6,380.6" fill="none" stroke="#000" stroke-width="1.7" stroke-linejoin="round" stroke-linecap="round"/>
<path d="M480.0,261.4 C481.8,260.5 483.5,259.1 487.6,257.6 C491.7,256.2 494.7,254.3 497.6,255.1 C500.5,256.0 497.8,259.1 500.1,261.4 C502.5,263.7 503.5,263.1 507.6,265.2 C511.7,267.2 513.9,267.3 517.7,270.2 C521.5,273.1 519.9,274.2 524.0,277.7 C528.1,281.2 532.9,281.7 535.2,285.2 C537.6,288.8 532.8,290.4 534.0,292.8 C535.2,295.1 535.3,294.1 540.3,295.3 C545.2,296.5 551.5,295.4 555.3,297.8 C559.1,300.1 557.7,301.2 556.6,305.3 C555.4,309.4 553.2,311.3 550.3,315.4 C547.4,319.5 545.8,319.1 544.0,322.9 C542.3,326.7 543.1,329.6 542.8,331.7" fill="none" stroke="#000" stroke-width="1.5" stroke-linejoin="round" stroke-linecap="round"/>
</g>
<clipPath id="cG"><rect x="119" y="370" width="181" height="130"/></clipPath>
<g clip-path="url(#cG)">
<rect x="119" y="370" width="181" height="130" fill="#B02C28"/>
<path d="M119.0,363.7 C126.6,357.1 134.8,359.1 140.1,363.7 C145.5,368.3 140.1,370.0 135.1,377.5 C130.1,385.1 130.9,384.2 125.1,386.3 C119.2,388.4 119.5,391.3 117.5,383.8 C115.5,376.3 111.5,370.4 119.0,363.7 Z" fill="#D83020"/>
<path d="M167.7,385.1 C173.6,383.4 169.4,385.1 177.8,390.1 C186.1,395.1 190.3,393.4 192.8,400.1 C195.3,406.8 192.0,405.2 185.3,410.2 C178.6,415.2 180.3,416.0 172.7,415.2 C165.2,414.4 166.9,414.4 162.7,407.7 C158.5,401.0 158.5,402.6 160.2,395.1 C161.9,387.6 161.9,386.7 167.7,385.1 Z" fill="#D83020"/>
<path d="M140.1,395.1 C146.0,390.9 148.5,389.3 155.2,392.6 C161.9,395.9 162.7,399.3 160.2,405.2 C157.7,411.0 155.2,410.2 147.6,410.2 C140.1,410.2 140.1,410.2 137.6,405.2 C135.1,400.1 134.3,399.3 140.1,395.1 Z" fill="#D83020"/>
<path d="M137.6,372.5 C144.3,369.0 147.5,369.5 160.2,369.5 C172.9,369.5 171.4,368.2 175.7,372.5 C180.1,376.9 178.4,377.4 173.2,382.6 C168.1,387.8 168.7,387.1 160.2,388.1 C151.7,389.1 154.3,388.3 147.6,385.6 C140.9,382.9 143.5,384.4 140.1,380.1 C136.8,375.7 130.9,376.0 137.6,372.5 Z" fill="#C800A0"/>
<path d="M117.5,407.7 C119.3,390.0 121.0,411.7 125.1,415.2 C129.2,418.7 129.8,417.4 135.1,422.7 C140.4,428.0 140.0,434.8 147.6,437.8 C155.3,440.7 161.9,437.6 167.7,435.3 C173.6,432.9 168.6,430.7 172.7,427.7 C176.8,424.8 179.4,424.8 185.3,422.7 C191.1,420.7 194.2,418.5 197.8,419.0 C201.5,419.4 203.2,421.7 200.8,424.5 C198.5,427.2 192.0,427.1 187.8,430.7 C183.6,434.4 183.4,435.1 182.8,440.3 C182.2,445.4 185.3,447.0 185.3,452.8 C185.3,458.7 181.5,460.1 182.8,465.4 C184.1,470.6 190.2,470.7 190.8,475.4 C191.4,480.1 188.3,480.7 185.3,485.5 C182.2,490.3 180.7,491.2 177.8,496.0 C174.8,500.8 176.8,504.9 172.7,506.0 C168.6,507.2 166.0,503.9 160.2,501.0 C154.3,498.1 153.5,497.0 147.6,493.5 C141.8,490.0 140.4,486.5 135.1,486.0 C129.8,485.4 129.2,489.8 125.1,491.0 C121.0,492.1 119.3,510.4 117.5,491.0 C115.8,471.5 115.8,425.3 117.5,407.7 Z" fill="#C800A0"/>
<path d="M147.6,407.7 C151.0,404.3 152.7,403.5 160.2,405.2 C167.7,406.8 170.2,408.1 170.2,412.7 C170.2,417.3 166.9,418.1 160.2,419.0 C153.5,419.8 154.3,419.0 150.2,415.2 C146.0,411.4 144.3,411.0 147.6,407.7 Z" fill="#C800A0"/>
<ellipse cx="155.2" cy="378.0" rx="2.0" ry="4.5" fill="#C830D0" stroke="#000" stroke-width="0.9"/>
<path d="M117.5,422.7 C120.5,417.9 124.2,423.6 130.1,427.7 C135.9,431.8 135.6,437.9 142.6,440.3 C149.6,442.6 154.2,437.8 160.2,437.8 C166.2,437.8 167.0,437.8 168.2,440.3 C169.4,442.7 169.4,445.3 165.2,448.3 C161.0,451.4 156.0,450.4 150.2,453.3 C144.3,456.3 144.8,460.3 140.1,460.9 C135.4,461.4 135.3,458.8 130.1,455.8 C124.8,452.9 120.5,456.0 117.5,448.3 C114.6,440.6 114.6,427.5 117.5,422.7 Z" fill="#C830D0" stroke="#000" stroke-width="0.9"/>
<path d="M172.7,422.7 C175.2,418.8 176.9,420.6 185.3,419.0 C193.6,417.3 192.8,416.3 197.8,417.7 C202.8,419.1 203.7,419.7 200.3,423.2 C197.0,426.7 195.3,425.7 187.8,428.2 C180.3,430.7 182.8,432.6 177.8,430.7 C172.7,428.9 170.2,426.6 172.7,422.7 Z" fill="#C830D0" stroke="#000" stroke-width="0.9"/>
<path d="M117.5,455.3 C120.9,443.5 121.7,452.8 127.6,457.8 C133.4,462.9 131.6,461.2 135.1,470.4 C138.6,479.6 139.8,476.9 138.1,485.5 C136.4,494.0 136.9,493.3 130.1,496.0 C123.2,498.7 121.7,507.0 117.5,493.5 C113.3,479.9 114.2,467.2 117.5,455.3 Z" fill="#C868C8" stroke="#000" stroke-width="0.9"/>
<path d="M120.0,435.3 C124.2,433.6 127.6,436.1 135.1,440.3 C142.6,444.5 143.5,444.5 142.6,447.8 C141.8,451.2 139.3,451.2 132.6,450.3 C125.9,449.5 126.7,450.3 122.5,445.3 C118.4,440.3 115.9,436.9 120.0,435.3 Z" fill="#C800A0"/>
<path d="M117.5,460.4 C120.0,456.0 121.7,458.7 125.1,462.9 C128.4,467.0 130.1,468.6 127.6,472.9 C125.1,477.3 120.9,480.1 117.5,475.9 C114.2,471.7 115.0,464.7 117.5,460.4 Z" fill="#C898C8"/>
<path d="M182.8,425.2 C188.2,416.9 191.1,415.2 197.8,420.2 C204.5,425.2 198.7,423.6 202.8,440.3 C207.0,457.0 206.9,453.7 210.4,470.4 C213.9,487.0 215.7,480.3 213.4,490.2 C211.0,500.2 212.7,498.2 203.4,500.3 C194.0,502.3 193.3,506.3 185.3,496.2 C177.3,486.2 180.5,487.1 179.3,470.1 C178.0,453.2 180.3,460.3 181.5,445.3 C182.7,430.3 177.3,433.6 182.8,425.2 Z" fill="#C800A0"/>
<path d="M137.6,470.4 C141.8,465.2 140.9,468.7 150.2,465.4 C159.4,462.0 156.8,460.4 165.2,460.4 C173.6,460.4 170.1,459.5 175.2,465.4 C180.4,471.2 180.6,469.6 180.8,477.9 C180.9,486.3 180.9,483.6 175.7,490.5 C170.6,497.3 172.1,496.7 165.2,498.5 C158.3,500.3 161.9,499.3 155.2,496.0 C148.5,492.6 151.0,493.5 145.1,488.5 C139.3,483.4 140.1,487.0 137.6,480.9 C135.1,474.9 133.4,475.6 137.6,470.4 Z" fill="#B02C28"/>
<path d="M170.2,437.8 C173.6,435.1 179.3,435.9 182.8,440.3 C186.3,444.6 184.1,448.1 180.8,450.8 C177.4,453.5 176.2,452.7 172.7,448.3 C169.2,444.0 166.9,440.4 170.2,437.8 Z" fill="#B02C28"/>
<path d="M142.6,475.4 C145.1,470.0 146.8,471.6 155.2,471.6 C163.5,471.6 162.7,470.8 167.7,475.4 C172.7,480.0 172.7,480.0 170.2,485.5 C167.7,490.9 167.7,490.9 160.2,491.7 C152.7,492.6 153.5,493.4 147.6,488.0 C141.8,482.5 140.1,480.9 142.6,475.4 Z" fill="#D83020"/>
<path d="M145.6,480.9 C147.1,478.9 148.9,478.4 151.4,479.9 C153.9,481.4 154.6,483.4 153.2,485.5 C151.7,487.5 149.6,487.5 147.1,486.0 C144.6,484.4 144.2,482.9 145.6,480.9 Z" fill="#E0643C" stroke="#000" stroke-width="0.9"/>
<path d="M172.7,441.5 C175.7,440.4 179.8,441.2 182.8,443.3 C185.7,445.4 184.4,446.7 181.5,447.8 C178.6,448.9 176.9,448.6 174.0,446.6 C171.1,444.5 169.8,442.6 172.7,441.5 Z" fill="#E0643C" stroke="#000" stroke-width="0.9"/>
<path d="M119.0,380.1 C120.7,377.0 122.2,378.6 125.1,381.3 C127.9,384.0 129.2,385.0 127.6,388.1 C125.9,391.2 122.9,393.3 120.0,390.6 C117.2,387.9 117.4,383.2 119.0,380.1 Z" fill="#EE9840"/>
<path d="M125.1,400.1 C126.7,395.8 129.9,395.1 135.1,397.6 C140.3,400.1 140.6,402.5 140.6,407.7 C140.6,412.8 138.6,412.2 135.1,413.2 C131.6,414.2 133.4,415.0 130.1,410.7 C126.7,406.3 123.4,404.5 125.1,400.1 Z" fill="#E0643C" stroke="#000" stroke-width="0.9"/>
<ellipse cx="141.4" cy="421.7" rx="2.8" ry="2.3" fill="#E0643C" stroke="#000" stroke-width="0.9"/>
<ellipse cx="151.4" cy="425.7" rx="3.0" ry="3.5" fill="#E0643C" stroke="#000" stroke-width="0.9"/>
<ellipse cx="162.7" cy="424.2" rx="5.5" ry="3.0" fill="#E0643C" stroke="#000" stroke-width="0.9"/>
<ellipse cx="169.0" cy="417.9" rx="2.0" ry="2.8" fill="#E0643C" stroke="#000" stroke-width="0.9"/>
<ellipse cx="206.6" cy="423.5" rx="1.8" ry="2.3" fill="#E0643C" stroke="#000" stroke-width="0.9"/>
<path d="M195.3,435.3 C197.7,430.0 200.7,428.2 205.4,425.2 C210.0,422.3 210.1,422.7 215.4,422.7 C220.7,422.7 221.5,424.1 227.9,425.2 C234.4,426.4 236.0,426.0 243.0,427.7 C250.0,429.5 251.6,429.8 258.1,432.8 C264.5,435.7 264.2,436.2 270.6,440.3 C277.0,444.4 278.6,446.8 285.7,450.3 C292.7,453.8 294.9,453.0 300.7,455.3 C306.6,457.7 308.4,453.9 310.8,460.4 C313.1,466.8 314.3,478.3 310.8,482.9 C307.2,487.6 302.7,481.6 295.7,480.4 C288.7,479.3 286.5,479.7 280.6,477.9 C274.8,476.2 275.3,475.8 270.6,472.9 C265.9,470.0 265.2,466.5 260.6,465.4 C255.9,464.2 255.2,466.1 250.5,467.9 C245.8,469.6 244.6,469.4 240.5,472.9 C236.4,476.4 236.5,478.8 233.0,482.9 C229.4,487.0 228.9,487.4 225.4,490.5 C221.9,493.5 221.4,496.5 217.9,496.0 C214.4,495.5 212.7,492.7 210.4,488.5 C208.0,484.2 207.9,482.1 207.9,477.9 C207.9,473.7 211.5,474.5 210.4,470.4 C209.2,466.3 206.4,465.6 202.8,460.4 C199.3,455.1 197.1,453.7 195.3,447.8 C193.6,442.0 193.0,440.5 195.3,435.3 Z" fill="#C830D0" stroke="#000" stroke-width="0.9"/>
<path d="M211.1,429.5 C213.0,426.7 221.0,425.2 231.5,425.5 C241.9,425.8 246.4,427.6 255.8,430.7 C265.2,433.9 264.3,434.8 271.9,439.0 C279.4,443.3 281.6,445.0 288.2,449.1 C294.8,453.1 294.6,452.4 300.2,456.3 C305.8,460.3 309.4,458.9 312.3,465.9 C315.1,472.8 315.1,482.4 312.3,486.2 C309.4,490.0 305.8,484.1 300.2,482.2 C294.6,480.3 294.8,481.0 288.2,478.2 C281.6,475.3 277.5,473.5 271.9,469.9 C266.2,466.3 269.5,463.8 263.8,462.9 C258.1,461.9 255.1,463.2 247.5,465.9 C240.0,468.5 238.1,471.1 231.5,474.2 C224.8,477.3 223.0,480.1 219.2,479.2 C215.4,478.3 212.3,474.4 215.1,470.4 C218.0,466.4 224.8,465.7 231.5,461.9 C238.1,458.0 241.6,458.6 243.5,453.8 C245.4,449.1 244.2,445.3 239.5,441.5 C234.8,437.7 230.0,440.3 223.4,437.5 C216.8,434.7 209.3,432.3 211.1,429.5 Z" fill="#C868C8"/>
<path d="M253.0,435.3 C257.7,434.1 263.0,438.7 270.6,442.8 C278.2,446.9 278.6,448.7 285.7,452.8 C292.7,456.9 294.9,457.4 300.7,460.4 C306.6,463.3 308.4,460.1 310.8,465.4 C313.1,470.6 314.3,479.7 310.8,482.9 C307.2,486.2 302.7,480.9 295.7,479.2 C288.7,477.4 286.5,478.6 280.6,475.4 C274.8,472.2 275.3,469.5 270.6,465.4 C265.9,461.3 265.2,461.9 260.6,457.8 C255.9,453.7 252.3,453.1 250.5,447.8 C248.8,442.5 248.4,436.4 253.0,435.3 Z" fill="#C868C8" stroke="#000" stroke-width="0.9"/>
<path d="M215.4,475.4 C218.7,473.7 221.3,475.4 222.9,480.4 C224.6,485.5 223.8,488.8 220.4,490.5 C217.1,492.1 214.6,490.5 212.9,485.5 C211.2,480.4 212.0,477.1 215.4,475.4 Z" fill="#C868C8"/>
<path d="M192.8,485.5 C197.8,482.8 202.7,485.5 210.4,490.5 C218.1,495.5 217.6,495.3 215.9,500.5 C214.2,505.7 212.2,506.7 205.4,506.0 C198.5,505.4 199.5,505.4 195.3,498.5 C191.1,491.6 187.8,488.1 192.8,485.5 Z" fill="#C868C8" stroke="#000" stroke-width="0.9"/>
<path d="M283.1,454.1 C287.9,451.4 290.8,454.0 300.0,454.8 C309.2,455.7 307.2,448.5 310.8,456.6 C314.3,464.7 314.3,472.1 310.8,479.2 C307.2,486.3 306.7,480.4 300.0,477.9 C293.3,475.4 295.4,476.7 290.7,471.6 C285.9,466.6 288.2,468.7 285.7,462.9 C283.1,457.0 278.4,456.8 283.1,454.1 Z" fill="#C898C8" stroke="#000" stroke-width="0.9"/>
<ellipse cx="200.3" cy="449.8" rx="3.3" ry="3.5" fill="#C800A0" stroke="#000" stroke-width="0.9"/>
<ellipse cx="235.5" cy="449.6" rx="3.0" ry="3.5" fill="#C800A0" stroke="#000" stroke-width="0.9"/>
<path d="M254.3,434.8 C256.0,433.5 258.5,434.0 265.6,436.5 C272.7,439.0 273.1,439.5 275.6,442.3 C278.1,445.1 278.1,445.5 273.1,444.8 C268.1,444.1 266.8,443.6 260.6,440.3 C254.3,436.9 252.6,436.0 254.3,434.8 Z" fill="#C898C8" stroke="#000" stroke-width="0.9"/>
<path d="M263.1,447.8 C264.7,444.6 267.7,444.1 270.6,445.8 C273.5,447.5 273.5,449.7 271.9,452.8 C270.2,456.0 268.5,457.0 265.6,455.3 C262.7,453.7 261.4,451.0 263.1,447.8 Z" fill="#C800A0"/>
<path d="M303.2,461.6 C303.2,459.9 308.2,461.1 310.8,463.4 C313.3,465.6 313.3,469.0 310.8,468.4 C308.2,467.8 303.2,463.3 303.2,461.6 Z" fill="#A0A0A0"/>
<path d="M177.8,513.1 C180.3,507.2 180.3,509.3 187.8,508.0 C195.3,506.8 192.8,507.6 200.3,509.3 C207.9,511.0 208.7,507.6 210.4,513.1 C212.0,518.5 215.4,521.4 205.4,525.6 C195.3,529.8 189.5,529.8 180.3,525.6 C171.1,521.4 175.2,518.9 177.8,513.1 Z" fill="#B02C28"/>
<path d="M185.3,513.1 C187.8,510.3 192.0,510.1 197.8,511.8 C203.7,513.5 205.4,515.3 202.8,518.1 C200.3,520.8 196.2,521.8 190.3,520.1 C184.4,518.4 182.8,515.8 185.3,513.1 Z" fill="#D83020"/>
<path d="M196.6,363.7 C169.3,365.8 196.7,369.3 194.1,372.5 C191.4,375.7 189.1,374.9 185.3,377.5 C181.5,380.2 179.8,380.9 177.8,383.8 C175.7,386.7 174.7,387.5 176.5,390.1 C178.3,392.7 180.3,392.5 185.3,395.1 C190.3,397.7 192.0,398.5 197.8,401.4 C203.7,404.3 204.5,405.0 210.4,407.7 C216.2,410.3 217.1,410.6 222.9,412.7 C228.8,414.7 229.0,414.4 235.5,416.4 C241.9,418.5 244.1,418.8 250.5,421.5 C257.0,424.1 258.4,424.5 263.1,427.7 C267.8,431.0 266.5,431.8 270.6,435.3 C274.7,438.8 275.4,439.6 280.6,442.8 C285.9,446.0 286.2,446.1 293.2,449.1 C300.2,452.0 306.7,475.2 310.8,455.3 C314.9,435.4 337.4,385.1 310.8,363.7 C284.1,342.4 223.8,361.7 196.6,363.7 Z" fill="#E0643C"/>
<path d="M220.4,525.6 C199.9,520.9 221.2,512.6 222.9,505.5 C224.7,498.5 225.0,500.8 227.9,495.5 C230.9,490.2 231.4,488.2 235.5,482.9 C239.6,477.7 240.8,476.4 245.5,472.9 C250.2,469.4 250.6,469.5 255.5,467.9 C260.5,466.3 263.6,465.8 266.8,466.1 C270.1,466.4 269.9,467.0 269.3,469.1 C268.8,471.3 264.0,472.8 264.3,475.4 C264.6,478.0 265.6,478.4 270.6,480.4 C275.6,482.5 278.6,482.7 285.7,484.2 C292.7,485.7 294.9,485.7 300.7,486.7 C306.6,487.7 308.4,479.4 310.8,488.5 C313.1,497.5 331.8,516.9 310.8,525.6 C289.7,534.3 240.9,530.3 220.4,525.6 Z" fill="#E0643C"/>
<path d="M117.5,493.0 C120.9,482.5 120.9,492.6 127.6,494.2 C134.3,495.9 131.7,493.4 137.6,498.0 C143.5,502.6 138.4,504.3 145.1,508.0 C151.8,511.8 150.2,507.6 157.7,509.3 C165.2,511.0 162.7,507.6 167.7,513.1 C172.7,518.5 189.5,521.4 172.7,525.6 C156.0,529.8 135.9,536.5 117.5,525.6 C99.1,514.7 114.2,503.4 117.5,493.0 Z" fill="#D83020"/>
<ellipse cx="212.9" cy="390.1" rx="5.5" ry="3.5" fill="#EE9840"/>
<path d="M273.1,437.8 C273.9,436.5 276.5,437.4 283.1,440.3 C289.8,443.2 286.5,443.6 293.2,446.6 C299.9,449.5 300.3,447.0 303.2,449.1 C306.2,451.2 306.2,452.6 302.0,452.8 C297.8,453.1 297.8,452.7 290.7,449.8 C283.6,446.9 286.5,448.1 280.6,444.0 C274.8,440.0 272.3,439.0 273.1,437.8 Z" fill="#D83020"/>
<path d="M230.5,490.5 C234.6,483.6 235.5,482.5 245.5,475.4 C255.5,468.3 253.7,470.0 260.6,469.1 C267.4,468.3 266.1,469.8 266.1,472.9 C266.1,476.0 265.8,476.6 260.6,478.4 C255.4,480.3 257.2,475.9 250.5,478.4 C243.8,480.9 246.3,480.1 240.5,486.0 C234.6,491.8 236.3,494.5 233.0,496.0 C229.6,497.5 226.3,497.3 230.5,490.5 Z" fill="#D83020"/>
<path d="M227.9,498.0 C230.5,493.0 229.6,493.8 235.5,490.5 C241.3,487.1 237.1,488.0 245.5,488.0 C253.9,488.0 252.9,488.0 260.6,490.5 C268.3,493.0 268.6,491.3 268.6,495.5 C268.6,499.7 264.9,497.8 260.6,503.0 C256.2,508.2 259.7,506.7 255.5,511.0 C251.4,515.4 254.7,516.1 248.0,516.1 C241.3,516.1 242.2,514.6 235.5,511.0 C228.8,507.5 230.5,509.9 227.9,505.5 C225.4,501.2 225.4,503.0 227.9,498.0 Z" fill="#D83020" stroke="#000" stroke-width="0.9"/>
<path d="M195.3,363.7 C194.7,365.8 195.2,369.3 192.8,372.5 C190.5,375.7 188.8,374.9 185.3,377.5 C181.8,380.2 179.8,380.9 177.8,383.8 C175.7,386.7 174.7,387.5 176.5,390.1 C178.3,392.7 180.3,392.5 185.3,395.1 C190.3,397.7 192.0,398.5 197.8,401.4 C203.7,404.3 204.5,405.0 210.4,407.7 C216.2,410.3 217.1,410.6 222.9,412.7 C228.8,414.7 229.0,414.4 235.5,416.4 C241.9,418.5 244.1,418.8 250.5,421.5 C257.0,424.1 258.4,424.5 263.1,427.7 C267.8,431.0 266.5,431.8 270.6,435.3 C274.7,438.8 275.4,439.6 280.6,442.8 C285.9,446.0 286.2,446.1 293.2,449.1 C300.2,452.0 306.7,453.9 310.8,455.3" fill="none" stroke="#000" stroke-width="1.7" stroke-linejoin="round" stroke-linecap="round"/>
<path d="M220.4,525.6 C221.0,520.9 221.2,512.6 222.9,505.5 C224.7,498.5 225.0,500.8 227.9,495.5 C230.9,490.2 231.4,488.2 235.5,482.9 C239.6,477.7 240.8,476.4 245.5,472.9 C250.2,469.4 250.6,469.5 255.5,467.9 C260.5,466.3 263.6,465.8 266.8,466.1 C270.1,466.4 269.9,467.0 269.3,469.1 C268.8,471.3 264.0,472.8 264.3,475.4 C264.6,478.0 265.6,478.4 270.6,480.4 C275.6,482.5 278.6,482.7 285.7,484.2 C292.7,485.7 294.9,485.7 300.7,486.7 C306.6,487.7 308.4,488.1 310.8,488.5" fill="none" stroke="#000" stroke-width="1.7" stroke-linejoin="round" stroke-linecap="round"/>
<path d="M117.5,493.0 C119.9,493.3 122.9,493.1 127.6,494.2 C132.3,495.4 133.5,494.8 137.6,498.0 C141.7,501.2 140.4,505.4 145.1,508.0 C149.8,510.7 152.4,508.1 157.7,509.3 C162.9,510.5 164.2,509.2 167.7,513.1 C171.2,516.9 171.6,522.7 172.7,525.6" fill="none" stroke="#000" stroke-width="1.7" stroke-linejoin="round" stroke-linecap="round"/>
</g>
<clipPath id="cH"><rect x="300" y="370" width="180" height="130"/></clipPath>
<g clip-path="url(#cH)">
<rect x="300" y="370" width="180" height="130" fill="#E0643C"/>
<path d="M352.7,363.7 C322.3,365.8 355.6,369.3 360.3,372.5 C364.9,375.7 370.2,372.9 372.8,377.5 C375.4,382.2 372.7,385.6 371.6,392.6 C370.4,399.6 367.5,399.5 367.8,407.7 C368.1,415.9 370.4,420.1 372.8,427.7 C375.3,435.3 377.3,431.5 378.3,440.3 C379.4,449.1 377.1,455.4 377.3,465.4 C377.6,475.3 378.9,474.7 379.3,482.9 C379.8,491.1 378.5,494.1 379.3,500.5 C380.2,506.9 381.4,504.7 382.8,510.5 C384.3,516.4 360.2,522.1 385.4,525.6 C410.5,529.1 466.2,563.4 490.8,525.6 C515.3,487.8 523.0,401.5 490.8,363.7 C458.5,326.0 383.2,361.7 352.7,363.7 Z" fill="#D83020" stroke="#000" stroke-width="0.9"/>
<path d="M415.5,363.7 C441.4,358.3 465.7,309.8 490.8,363.7 C515.8,417.7 505.8,471.6 490.8,525.6 C475.7,579.6 465.7,532.3 445.6,525.6 C425.5,518.9 440.6,517.2 430.5,505.5 C420.5,493.8 424.7,499.7 415.5,490.5 C406.3,481.3 407.9,489.2 402.9,477.9 C397.9,466.6 398.7,469.1 400.4,456.6 C402.1,444.0 405.4,454.1 407.9,440.3 C410.5,426.5 407.1,429.4 407.9,415.2 C408.8,401.0 408.8,409.3 410.5,397.6 C412.1,385.9 411.3,391.3 413.0,380.1 C414.6,368.8 389.5,369.2 415.5,363.7 Z" fill="#B02C28"/>
<path d="M475.7,363.7 C480.7,358.3 485.7,354.1 490.8,363.7 C495.8,373.4 494.1,381.3 490.8,392.6 C487.4,403.9 485.7,401.8 480.7,397.6 C475.7,393.4 477.4,391.3 475.7,380.1 C474.0,368.8 470.7,369.2 475.7,363.7 Z" fill="#D83020"/>
<path d="M465.7,427.7 C468.2,421.0 472.4,424.4 480.7,425.2 C489.1,426.1 487.4,416.9 490.8,430.2 C494.1,443.6 494.1,452.0 490.8,465.4 C487.4,478.8 487.4,472.1 480.7,470.4 C474.0,468.7 473.2,468.7 470.7,460.4 C468.2,452.0 474.9,456.2 473.2,445.3 C471.5,434.4 463.1,434.4 465.7,427.7 Z" fill="#D83020"/>
<path d="M445.1,360.0 C448.0,355.6 454.2,357.3 456.4,360.0 C458.5,362.6 456.4,366.9 454.4,371.3 C452.3,375.7 448.9,374.4 447.6,378.8 C446.2,383.2 446.4,384.4 448.6,390.1 C450.8,395.8 453.6,397.1 456.9,403.1 C460.2,409.2 459.9,409.6 462.6,416.2 C465.4,422.7 468.0,425.1 468.7,431.2 C469.4,437.4 464.0,438.1 465.7,442.5 C467.3,447.0 475.7,447.3 475.7,450.3 C475.7,453.3 470.3,455.0 465.7,455.3 C461.0,455.6 459.1,453.3 455.6,451.6 C452.1,449.9 450.4,451.0 450.6,448.1 C450.8,445.1 454.1,443.6 456.4,438.8 C458.6,434.0 460.1,432.8 460.1,427.5 C460.1,422.2 458.6,421.5 456.4,416.2 C454.1,410.9 453.2,410.1 450.6,404.9 C448.0,399.7 446.6,399.9 445.1,393.9 C443.6,387.8 444.1,386.7 444.1,378.8 C444.1,370.9 442.2,364.4 445.1,360.0 Z" fill="#C800A0"/>
<path d="M471.4,422.0 C475.9,420.0 478.4,420.6 482.7,423.7 C487.1,426.8 487.0,427.5 484.5,431.2 C482.0,435.0 480.2,435.6 475.2,435.0 C470.2,434.4 470.7,433.8 469.4,429.5 C468.2,425.1 467.0,423.9 471.4,422.0 Z" fill="#C800A0"/>
<path d="M461.9,448.3 C468.2,442.7 469.3,442.7 475.2,444.5 C481.0,446.4 477.2,447.0 479.5,453.8 C481.7,460.7 481.6,457.8 482.0,465.1 C482.4,472.5 482.0,465.8 480.7,475.9 C479.5,486.0 481.6,488.1 478.2,495.5 C474.9,502.9 474.9,498.0 470.7,498.0 C466.5,498.0 468.2,502.2 465.7,495.5 C463.1,488.8 466.2,489.3 463.1,477.9 C460.1,466.5 456.8,471.2 456.4,461.4 C456.0,451.5 455.6,453.9 461.9,448.3 Z" fill="#C800A0"/>
<path d="M415.5,363.7 C422.2,355.0 438.9,356.6 450.6,363.7 C462.3,370.9 453.1,373.8 450.6,385.1 C448.1,396.4 449.8,395.9 443.1,397.6 C436.4,399.3 439.7,401.4 430.5,390.1 C421.3,378.8 408.8,372.5 415.5,363.7 Z" fill="#C800A0"/>
<path d="M425.5,480.4 C433.9,477.1 433.9,477.9 445.6,482.9 C457.3,488.0 452.3,488.0 460.6,495.5 C469.0,503.0 469.0,498.8 470.7,505.5 C472.4,512.2 472.4,508.9 465.7,515.6 C459.0,522.3 459.0,525.6 450.6,525.6 C442.2,525.6 447.3,522.3 440.6,515.6 C433.9,508.9 437.2,513.1 430.5,505.5 C423.8,498.0 422.2,501.3 420.5,493.0 C418.8,484.6 417.1,483.8 425.5,480.4 Z" fill="#C800A0"/>
<path d="M455.6,370.0 C459.8,365.0 460.6,364.2 465.7,367.5 C470.7,370.9 471.5,373.4 470.7,380.1 C469.8,386.7 469.0,386.7 463.1,387.6 C457.3,388.4 455.6,388.4 453.1,382.6 C450.6,376.7 451.4,375.0 455.6,370.0 Z" fill="#B02C28"/>
<path d="M465.7,410.2 C467.3,404.3 471.5,404.3 475.7,407.7 C479.9,411.0 479.9,414.4 478.2,420.2 C476.5,426.1 474.9,428.6 470.7,425.2 C466.5,421.9 464.0,416.0 465.7,410.2 Z" fill="#B02C28"/>
<path d="M425.5,485.5 C427.2,481.3 433.9,481.3 440.6,482.9 C447.3,484.6 447.3,486.3 445.6,490.5 C443.9,494.7 442.2,497.2 435.5,495.5 C428.9,493.8 423.8,489.6 425.5,485.5 Z" fill="#B02C28"/>
<path d="M430.5,500.5 C431.4,497.2 438.1,500.5 445.6,505.5 C453.1,510.5 453.9,512.2 453.1,515.6 C452.3,518.9 450.6,520.6 443.1,515.6 C435.5,510.5 429.7,503.9 430.5,500.5 Z" fill="#B02C28"/>
<path d="M416.7,363.7 C421.4,359.9 426.6,361.7 433.0,363.7 C439.5,365.8 440.9,367.6 444.3,372.5 C447.7,377.5 447.0,378.6 447.6,385.1 C448.2,391.5 445.0,393.1 446.8,400.1 C448.7,407.2 451.8,408.2 455.6,415.2 C459.4,422.2 460.8,423.8 463.1,430.2 C465.5,436.7 466.8,438.1 465.7,442.8 C464.5,447.5 461.1,447.4 458.1,450.3 C455.2,453.2 453.4,451.8 453.1,455.3 C452.8,458.9 453.7,460.7 456.9,465.4 C460.1,470.1 463.1,470.7 466.9,475.4 C470.7,480.1 473.5,481.4 473.2,485.5 C472.9,489.6 469.8,492.4 465.7,493.0 C461.6,493.6 459.7,490.9 455.6,488.0 C451.5,485.0 451.6,481.5 448.1,480.4 C444.6,479.4 444.7,483.3 440.6,483.4 C436.5,483.6 434.0,480.3 430.5,480.9 C427.0,481.5 429.0,484.3 425.5,486.0 C422.0,487.6 419.6,489.0 415.5,488.0 C411.4,487.0 411.5,485.2 407.9,481.7 C404.4,478.2 400.4,476.7 400.4,472.9 C400.4,469.1 408.1,469.2 407.9,465.4 C407.8,461.6 400.2,462.4 399.9,456.6 C399.6,450.7 404.9,447.0 406.7,440.3 C408.4,433.5 407.3,433.6 407.4,427.7 C407.6,421.9 406.7,422.2 407.4,415.2 C408.1,408.2 409.2,405.8 410.5,397.6 C411.7,389.4 411.5,388.0 413.0,380.1 C414.4,372.2 412.0,367.6 416.7,363.7 Z" fill="#C830D0" stroke="#000" stroke-width="1.0"/>
<path d="M416.7,365.0 C420.8,361.2 425.3,362.0 430.5,363.7 C435.8,365.5 437.0,367.6 439.3,372.5 C441.7,377.5 440.9,378.6 440.6,385.1 C440.3,391.5 437.5,393.1 438.1,400.1 C438.6,407.2 440.1,408.7 443.1,415.2 C446.0,421.6 448.3,421.9 450.6,427.7 C452.9,433.6 454.3,435.6 453.1,440.3 C451.9,445.0 449.1,445.5 445.6,447.8 C442.1,450.2 441.6,447.4 438.1,450.3 C434.5,453.2 434.0,455.7 430.5,460.4 C427.0,465.0 426.5,466.3 423.0,470.4 C419.5,474.5 419.0,476.5 415.5,477.9 C412.0,479.4 409.7,479.6 407.9,476.7 C406.2,473.7 409.7,470.1 407.9,465.4 C406.2,460.7 400.7,462.4 400.4,456.6 C400.1,450.7 404.9,447.0 406.7,440.3 C408.4,433.5 407.6,433.6 407.9,427.7 C408.2,421.9 407.4,422.2 407.9,415.2 C408.5,408.2 409.3,405.8 410.5,397.6 C411.6,389.4 411.5,387.7 413.0,380.1 C414.4,372.4 412.6,368.8 416.7,365.0 Z" fill="#C868C8"/>
<path d="M430.5,440.3 C436.0,435.3 436.4,434.4 443.1,437.8 C449.8,441.1 449.8,441.1 450.6,450.3 C451.4,459.5 443.9,457.0 445.6,465.4 C447.3,473.7 453.9,470.4 455.6,475.4 C457.3,480.4 456.5,480.4 450.6,480.4 C444.7,480.4 445.6,480.4 438.1,475.4 C430.5,470.4 431.8,472.9 428.0,465.4 C424.3,457.8 425.9,461.2 426.8,452.8 C427.6,444.5 425.1,445.3 430.5,440.3 Z" fill="#C830D0"/>
<path d="M445.6,495.5 C446.4,492.1 448.9,495.5 455.6,500.5 C462.3,505.5 463.1,505.5 465.7,510.5 C468.2,515.6 467.3,515.6 463.1,515.6 C459.0,515.6 459.0,517.2 453.1,510.5 C447.3,503.9 444.7,498.8 445.6,495.5 Z" fill="#C830D0"/>
<path d="M465.7,508.0 C470.7,501.3 472.4,508.0 480.7,505.5 C489.1,503.0 487.4,493.8 490.8,500.5 C494.1,507.2 499.1,517.2 490.8,525.6 C482.4,534.0 474.0,531.5 465.7,525.6 C457.3,519.7 460.6,514.7 465.7,508.0 Z" fill="#C830D0"/>
<path d="M430.5,382.6 C430.1,379.5 430.5,378.7 435.5,382.1 C440.6,385.4 442.9,387.8 445.6,392.6 C448.3,397.4 446.5,396.8 443.6,396.4 C440.6,395.9 441.2,395.9 436.8,391.3 C432.5,386.7 430.9,385.7 430.5,382.6 Z" fill="#C800A0"/>
<path d="M410.5,415.2 C413.0,410.2 414.6,410.2 418.0,412.7 C421.3,415.2 417.6,417.7 420.5,422.7 C423.4,427.7 424.5,422.7 426.8,427.7 C429.0,432.8 429.4,433.2 427.3,437.8 C425.2,442.4 424.4,442.4 420.5,441.5 C416.6,440.7 418.8,439.9 415.5,435.3 C412.1,430.7 412.1,434.4 410.5,427.7 C408.8,421.0 407.9,420.2 410.5,415.2 Z" fill="#C898C8" stroke="#000" stroke-width="0.9"/>
<path d="M402.9,445.3 C405.9,442.0 406.3,439.4 409.2,442.8 C412.1,446.1 412.1,449.1 411.7,455.3 C411.3,461.6 411.3,460.4 407.9,461.6 C404.6,462.9 404.2,462.0 401.7,459.1 C399.2,456.2 400.0,457.4 400.4,452.8 C400.8,448.2 400.0,448.6 402.9,445.3 Z" fill="#C898C8" stroke="#000" stroke-width="0.9"/>
<path d="M438.1,508.0 C440.1,506.4 441.4,506.4 445.6,510.5 C449.8,514.7 451.0,516.8 450.6,520.6 C450.2,524.3 448.1,523.5 444.3,521.8 C440.6,520.2 441.4,520.2 439.3,515.6 C437.2,511.0 436.0,509.7 438.1,508.0 Z" fill="#C868C8" stroke="#000" stroke-width="0.9"/>
<path d="M485.7,395.1 C485.7,391.8 489.1,390.1 490.8,392.6 C492.4,395.1 492.4,401.8 490.8,402.6 C489.1,403.5 485.7,398.5 485.7,395.1 Z" fill="#EE9840" stroke="#000" stroke-width="0.9"/>
<path d="M488.2,415.2 C489.5,407.2 489.9,405.6 490.8,413.9 C491.6,422.3 492.0,432.3 490.8,440.3 C489.5,448.2 487.8,446.1 487.0,437.8 C486.2,429.4 487.0,423.1 488.2,415.2 Z" fill="#EE9840"/>
<path d="M474.4,449.1 C475.0,444.9 477.5,442.2 481.2,440.3 C485.0,438.4 486.3,439.1 485.7,443.3 C485.1,447.5 483.2,450.9 479.5,452.8 C475.7,454.8 473.9,453.2 474.4,449.1 Z" fill="#EE9840" stroke="#000" stroke-width="0.9"/>
<path d="M411.0,417.7 C411.9,414.4 412.9,413.9 414.2,416.4 C415.6,419.0 415.9,421.9 415.0,425.2 C414.0,428.6 412.8,429.0 411.5,426.5 C410.1,424.0 410.0,421.0 411.0,417.7 Z" fill="#A0A0A0"/>
<path d="M402.2,451.6 C403.4,449.7 404.7,450.1 405.9,452.8 C407.2,455.6 407.2,458.0 405.9,459.9 C404.7,461.7 403.4,461.1 402.2,458.4 C400.9,455.6 400.9,453.4 402.2,451.6 Z" fill="#A0A0A0"/>
<ellipse cx="427.8" cy="411.9" rx="1.5" ry="1.5" fill="#C868C8" stroke="#000" stroke-width="0.9"/>
<path d="M440.6,510.5 C441.0,508.5 442.2,509.1 444.3,511.8 C446.4,514.5 447.3,516.5 446.8,518.6 C446.4,520.7 445.2,520.8 443.1,518.1 C441.0,515.4 440.1,512.6 440.6,510.5 Z" fill="#A0A0A0"/>
<path d="M269.9,442.0 C272.7,434.1 276.8,442.6 282.0,444.0 C287.1,445.5 287.8,446.7 292.0,448.1 C296.2,449.5 295.8,448.7 300.0,450.1 C304.3,451.5 305.9,451.7 310.1,454.1 C314.3,456.4 314.8,456.8 318.1,460.1 C321.4,463.4 320.8,464.6 324.1,468.1 C327.4,471.6 328.4,471.9 332.2,475.2 C335.9,478.4 337.4,478.2 340.2,482.2 C343.0,486.2 342.3,488.0 344.2,492.2 C346.1,496.4 349.2,496.5 348.2,500.3 C347.3,504.0 342.3,503.6 340.2,508.3 C338.1,513.0 340.6,517.1 339.2,520.3 C337.8,523.6 337.7,522.8 334.2,522.3 C330.7,521.9 328.3,521.1 324.1,518.3 C319.9,515.5 318.9,514.5 316.1,510.3 C313.3,506.1 314.0,504.9 312.1,500.3 C310.2,495.6 310.9,494.4 308.1,490.2 C305.3,486.0 304.3,484.5 300.0,482.2 C295.8,479.8 294.7,480.4 290.0,480.2 C285.3,479.9 284.6,481.7 280.0,481.2 C275.3,480.7 272.3,487.3 269.9,478.2 C267.6,469.0 267.1,450.0 269.9,442.0 Z" fill="#C830D0"/>
<path d="M269.9,445.3 C272.7,437.9 276.8,445.4 282.0,446.6 C287.1,447.7 287.6,449.0 292.0,450.3 C296.5,451.7 296.6,450.9 301.0,452.3 C305.5,453.7 306.9,453.9 311.1,456.3 C315.3,458.8 315.5,459.1 319.1,462.9 C322.7,466.6 322.9,468.8 326.6,472.4 C330.4,476.0 331.8,475.4 335.2,478.4 C338.6,481.5 339.2,481.5 341.2,485.5 C343.2,489.4 342.6,492.0 343.7,495.5 C344.8,499.0 346.8,497.9 345.7,500.5 C344.7,503.1 341.2,503.3 339.2,506.8 C337.2,510.3 338.7,512.8 337.2,515.6 C335.7,518.3 335.5,518.6 332.7,518.6 C329.8,518.6 328.6,518.0 325.1,515.6 C321.6,513.1 320.2,511.8 317.6,508.0 C315.0,504.2 315.8,503.6 314.1,499.3 C312.3,494.9 312.8,492.8 310.1,489.2 C307.4,485.6 306.6,485.9 302.5,483.9 C298.4,482.0 300.1,482.2 292.5,480.9 C284.9,479.6 275.2,486.7 269.9,478.4 C264.7,470.1 267.1,452.7 269.9,445.3 Z" fill="#C868C8" stroke="#000" stroke-width="0.9"/>
<path d="M269.9,449.1 C275.1,444.1 284.5,452.9 292.0,454.1 C299.5,455.3 297.4,453.1 302.0,454.1 C306.7,455.0 307.9,455.3 312.1,458.1 C316.3,460.9 316.4,462.1 320.1,466.1 C323.9,470.1 324.4,471.9 328.1,475.2 C331.9,478.4 333.4,477.1 336.2,480.2 C339.0,483.2 338.8,484.0 340.2,488.2 C341.6,492.4 343.1,495.4 342.2,498.2 C341.3,501.1 338.0,498.4 336.2,500.3 C334.3,502.1 336.0,504.4 334.2,506.3 C332.3,508.2 330.5,508.8 328.1,508.3 C325.8,507.8 326.5,506.1 324.1,504.3 C321.8,502.4 320.0,503.1 318.1,500.3 C316.2,497.4 318.0,495.5 316.1,492.2 C314.2,488.9 312.4,489.1 310.1,486.2 C307.7,483.3 308.4,481.9 306.1,479.9 C303.7,478.0 303.8,478.7 300.0,477.9 C296.3,477.2 297.0,477.3 290.0,476.7 C283.0,476.1 274.6,481.9 269.9,475.4 C265.2,469.0 264.8,454.0 269.9,449.1 Z" fill="#C898C8" stroke="#000" stroke-width="0.9"/>
<path d="M304.1,462.4 C306.4,462.0 308.1,462.2 312.1,464.9 C316.1,467.6 316.8,468.7 316.1,470.4 C315.4,472.1 313.8,471.4 310.1,469.9 C306.4,468.4 307.1,468.4 305.1,465.9 C303.0,463.4 301.7,462.7 304.1,462.4 Z" fill="#A0A0A0"/>
<path d="M327.6,513.1 C328.5,510.5 330.6,510.0 332.7,511.8 C334.8,513.6 334.8,516.1 333.9,518.6 C333.1,521.1 332.2,521.2 330.2,519.3 C328.1,517.5 326.8,515.6 327.6,513.1 Z" fill="#C830D0" stroke="#000" stroke-width="0.9"/>
<path d="M297.0,444.8 C297.4,443.6 301.0,444.6 302.5,446.3 C304.1,448.0 303.4,450.3 301.5,449.8 C299.7,449.3 296.7,446.0 297.0,444.8 Z" fill="#D83020"/>
<path d="M415.5,363.7 C414.9,366.4 413.0,370.6 413.0,375.0 C413.0,379.4 416.1,379.1 415.5,382.6 C414.9,386.1 412.2,386.6 410.5,390.1 C408.7,393.6 407.9,394.1 407.9,397.6 C407.9,401.1 410.5,401.1 410.5,405.2 C410.5,409.2 408.8,409.9 407.9,415.2 C407.1,420.5 405.5,423.6 406.7,427.7 C407.9,431.8 412.7,429.8 413.0,432.8 C413.3,435.7 410.6,436.2 407.9,440.3 C405.3,444.4 403.7,446.5 401.7,450.3 C399.6,454.1 398.3,454.5 399.2,456.6 C400.0,458.6 403.4,457.1 405.4,459.1 C407.5,461.2 407.4,463.9 407.9,465.4" fill="none" stroke="#000" stroke-width="1.7" stroke-linejoin="round" stroke-linecap="round"/>
<path d="M397.9,472.9 C399.1,474.1 400.6,475.0 402.9,477.9 C405.3,480.9 405.0,482.5 407.9,485.5 C410.9,488.4 411.4,487.5 415.5,490.5 C419.6,493.4 421.4,494.5 425.5,498.0 C429.6,501.5 429.5,502.0 433.0,505.5 C436.5,509.0 437.3,508.4 440.6,513.1 C443.8,517.7 445.4,522.7 446.8,525.6" fill="none" stroke="#000" stroke-width="1.7" stroke-linejoin="round" stroke-linecap="round"/>
<path d="M397.9,472.9 C399.2,473.1 397.5,470.1 401.7,473.4 C405.9,476.8 407.5,479.8 410.5,482.9" fill="none" stroke="#000" stroke-width="1.5" stroke-linejoin="round" stroke-linecap="round"/>
<path d="M269.9,442.0 C272.7,442.5 276.8,442.6 282.0,444.0 C287.1,445.5 287.8,446.7 292.0,448.1 C296.2,449.5 295.8,448.7 300.0,450.1 C304.3,451.5 305.9,451.7 310.1,454.1 C314.3,456.4 314.8,456.8 318.1,460.1 C321.4,463.4 320.8,464.6 324.1,468.1 C327.4,471.6 328.4,471.9 332.2,475.2 C335.9,478.4 337.4,478.2 340.2,482.2 C343.0,486.2 342.3,488.0 344.2,492.2 C346.1,496.4 349.2,496.5 348.2,500.3 C347.3,504.0 342.3,503.6 340.2,508.3 C338.1,513.0 340.6,517.1 339.2,520.3 C337.8,523.6 337.7,522.8 334.2,522.3 C330.7,521.9 328.3,521.1 324.1,518.3 C319.9,515.5 318.9,514.5 316.1,510.3 C313.3,506.1 314.0,504.9 312.1,500.3 C310.2,495.6 310.9,494.4 308.1,490.2 C305.3,486.0 304.3,484.5 300.0,482.2 C295.8,479.8 294.7,480.4 290.0,480.2 C285.3,479.9 284.6,481.7 280.0,481.2 C275.3,480.7 272.3,478.9 269.9,478.2" fill="none" stroke="#000" stroke-width="1.7" stroke-linejoin="round" stroke-linecap="round"/>
<path d="M450.6,525.6 C452.9,522.1 456.0,515.8 460.6,510.5 C465.3,505.3 466.0,505.4 470.7,503.0 C475.4,500.7 476.0,502.3 480.7,500.5 C485.4,498.8 488.4,496.7 490.8,495.5" fill="none" stroke="#000" stroke-width="1.7" stroke-linejoin="round" stroke-linecap="round"/>
<path d="M475.7,363.7 C475.1,367.6 472.6,372.7 473.2,380.1 C473.8,387.4 477.3,388.1 478.2,395.1 C479.1,402.1 476.4,403.1 477.0,410.2 C477.5,417.2 477.5,421.1 480.7,425.2 C483.9,429.3 488.4,427.1 490.8,427.7" fill="none" stroke="#000" stroke-width="1.7" stroke-linejoin="round" stroke-linecap="round"/>
</g>
<clipPath id="cI"><rect x="480" y="370" width="178" height="130"/></clipPath>
<g clip-path="url(#cI)">
<rect x="480" y="370" width="178" height="130" fill="#C800A0"/>
<path d="M468.7,363.7 C477.5,350.8 483.8,359.1 495.1,363.7 C506.4,368.3 495.9,370.4 502.6,377.5 C509.3,384.7 509.3,377.5 515.2,385.1 C521.0,392.6 515.2,390.1 520.2,400.1 C525.2,410.2 528.6,405.2 530.2,415.2 C531.9,425.2 531.1,426.1 525.2,430.2 C519.4,434.4 521.0,432.8 512.7,427.7 C504.3,422.7 509.3,422.7 500.1,415.2 C490.9,407.7 495.5,409.3 485.1,405.2 C474.6,401.0 474.2,416.4 468.7,402.6 C463.3,388.8 460.0,376.7 468.7,363.7 Z" fill="#B02C28"/>
<path d="M515.2,363.7 C525.2,356.6 539.0,358.3 552.8,363.7 C566.6,369.2 559.1,370.4 556.6,380.1 C554.1,389.7 553.2,387.6 545.3,392.6 C537.3,397.6 540.3,397.6 532.7,395.1 C525.2,392.6 528.6,395.5 522.7,385.1 C516.8,374.6 505.1,370.9 515.2,363.7 Z" fill="#B02C28"/>
<path d="M502.6,447.8 C510.2,441.1 511.0,442.8 520.2,445.3 C529.4,447.8 526.0,447.0 530.2,455.3 C534.4,463.7 534.4,460.4 532.7,470.4 C531.1,480.4 526.0,475.4 525.2,485.5 C524.4,495.5 523.5,493.8 530.2,500.5 C536.9,507.2 541.9,500.5 545.3,505.5 C548.6,510.5 547.0,508.9 540.3,515.6 C533.6,522.3 535.2,528.9 525.2,525.6 C515.2,522.3 518.5,518.9 510.2,505.5 C501.8,492.1 504.3,498.8 500.1,485.5 C495.9,472.1 496.8,477.9 497.6,465.4 C498.4,452.8 495.1,454.5 502.6,447.8 Z" fill="#B02C28"/>
<path d="M562.8,470.4 C567.0,468.7 567.0,470.4 575.4,475.4 C583.8,480.4 585.4,478.8 587.9,485.5 C590.5,492.1 588.8,493.8 582.9,495.5 C577.1,497.2 577.1,495.5 570.4,490.5 C563.7,485.5 565.4,487.1 562.8,480.4 C560.3,473.7 558.7,472.1 562.8,470.4 Z" fill="#B02C28"/>
<path d="M580.4,363.7 C582.1,356.6 588.8,360.0 595.5,363.7 C602.2,367.5 592.1,369.6 600.5,375.0 C608.9,380.5 610.5,375.0 620.6,380.1 C630.6,385.1 630.6,384.2 630.6,390.1 C630.6,395.9 628.9,396.8 620.6,397.6 C612.2,398.5 615.5,396.8 605.5,392.6 C595.5,388.4 598.8,394.7 590.5,385.1 C582.1,375.5 578.7,370.9 580.4,363.7 Z" fill="#B02C28"/>
<path d="M545.3,410.2 C547.0,405.0 552.0,404.3 560.3,405.2 C568.7,406.0 572.0,407.5 570.4,412.7 C568.7,417.9 563.7,421.5 555.3,420.7 C547.0,419.9 543.6,415.4 545.3,410.2 Z" fill="#B02C28"/>
<path d="M468.7,405.2 C472.5,395.9 474.6,401.8 480.0,410.2 C485.5,418.5 485.9,420.2 485.1,430.2 C484.2,440.3 483.0,437.8 477.5,440.3 C472.1,442.8 471.7,449.5 468.7,437.8 C465.8,426.1 465.0,414.4 468.7,405.2 Z" fill="#B02C28"/>
<path d="M475.0,375.0 C478.4,369.2 478.4,367.5 485.1,372.5 C491.7,377.5 487.6,380.9 495.1,390.1 C502.6,399.3 500.1,391.8 507.6,400.1 C515.2,408.5 512.7,406.0 517.7,415.2 C522.7,424.4 524.4,419.4 522.7,427.7 C521.0,436.1 517.7,440.3 512.7,440.3 C507.6,440.3 513.5,436.1 507.6,427.7 C501.8,419.4 503.5,422.7 495.1,415.2 C486.7,407.7 489.2,413.5 482.5,405.2 C475.9,396.8 477.5,400.1 475.0,390.1 C472.5,380.1 471.7,380.9 475.0,375.0 Z" fill="#D83020"/>
<path d="M495.1,472.9 C498.4,467.0 499.3,467.0 507.6,467.9 C516.0,468.7 516.8,467.9 520.2,475.4 C523.5,482.9 521.9,483.8 517.7,490.5 C513.5,497.2 514.3,497.2 507.6,495.5 C500.9,493.8 501.8,493.0 497.6,485.5 C493.4,477.9 491.7,478.8 495.1,472.9 Z" fill="#D83020"/>
<path d="M468.7,465.4 C474.2,452.8 477.1,458.7 485.1,460.4 C493.0,462.0 491.7,462.9 492.6,470.4 C493.4,477.9 492.6,474.6 487.6,482.9 C482.5,491.3 483.8,490.5 477.5,495.5 C471.3,500.5 471.7,508.0 468.7,498.0 C465.8,488.0 463.3,477.9 468.7,465.4 Z" fill="#D83020"/>
<path d="M507.6,445.3 C511.0,441.0 520.9,438.6 530.2,440.3 C539.6,442.0 539.1,446.0 535.7,450.3 C532.4,454.7 529.6,455.0 520.2,453.3 C510.8,451.7 504.3,449.7 507.6,445.3 Z" fill="#D83020"/>
<path d="M492.6,363.7 C500.1,360.0 510.2,360.0 520.2,363.7 C530.2,367.5 526.0,369.6 522.7,375.0 C519.4,380.5 518.5,380.1 510.2,380.1 C501.8,380.1 503.5,380.5 497.6,375.0 C491.7,369.6 485.1,367.5 492.6,363.7 Z" fill="#D83020"/>
<path d="M552.8,420.2 C557.0,415.2 559.5,413.5 565.4,415.2 C571.2,416.9 572.0,418.5 570.4,425.2 C568.7,431.9 566.2,433.6 560.3,435.3 C554.5,436.9 555.3,435.3 552.8,430.2 C550.3,425.2 548.6,425.2 552.8,420.2 Z" fill="#D83020"/>
<path d="M620.6,363.7 C633.1,359.1 647.3,350.8 660.7,363.7 C674.1,376.7 665.7,389.7 660.7,402.6 C655.7,415.6 654.0,403.5 645.7,402.6 C637.3,401.8 640.6,404.3 635.6,400.1 C630.6,395.9 634.8,397.6 630.6,390.1 C626.4,382.6 626.4,386.3 623.1,377.5 C619.7,368.8 608.0,368.3 620.6,363.7 Z" fill="#B02C28"/>
<path d="M638.1,370.0 C642.3,360.8 649.0,360.8 655.7,367.5 C662.4,374.2 662.4,380.9 658.2,390.1 C654.0,399.3 649.8,401.8 643.1,395.1 C636.5,388.4 633.9,379.2 638.1,370.0 Z" fill="#D83020"/>
<path d="M577.9,442.8 C577.4,438.3 580.9,437.8 580.4,435.3 C579.9,432.8 574.9,431.8 575.4,430.2 C575.9,428.7 579.9,427.2 582.9,427.7 C585.9,428.2 587.9,430.2 590.5,432.8 C593.0,435.3 593.0,439.3 595.5,440.3 C598.0,441.3 600.5,439.8 603.0,437.8 C605.5,435.8 605.5,433.0 608.0,430.2 C610.5,427.5 612.0,426.2 615.5,424.0 C619.1,421.7 622.1,419.0 625.6,419.0 C629.1,419.0 631.5,421.2 633.1,424.0 C634.7,426.7 636.1,430.0 633.6,432.8 C631.1,435.5 623.7,434.8 620.6,437.8 C617.5,440.8 617.1,445.1 618.1,447.8 C619.1,450.6 622.6,452.1 625.6,451.6 C628.6,451.1 631.1,448.1 633.1,445.3 C635.1,442.5 632.1,439.8 635.6,437.8 C639.1,435.8 646.6,434.8 650.7,435.3 C654.8,435.8 655.1,437.3 656.2,440.3 C657.3,443.3 658.3,447.3 656.2,450.3 C654.1,453.3 649.8,453.8 645.7,455.3 C641.5,456.8 639.6,456.6 635.6,457.8 C631.6,459.1 629.6,460.1 625.6,461.6 C621.6,463.1 619.1,464.1 615.5,465.4 C612.0,466.6 610.0,468.4 608.0,467.9 C606.0,467.4 607.5,462.1 605.5,462.9 C603.5,463.6 601.0,470.4 598.0,471.6 C595.0,472.9 593.5,471.9 590.5,469.1 C587.4,466.4 585.4,463.1 582.9,457.8 C580.4,452.6 578.4,447.3 577.9,442.8 Z" fill="#C830D0" stroke="#000" stroke-width="0.9"/>
<path d="M542.8,460.4 C545.3,456.2 547.4,457.0 552.8,457.8 C558.2,458.7 558.2,458.7 559.1,462.9 C559.9,467.0 559.9,467.9 555.3,470.4 C550.7,472.9 549.5,473.7 545.3,470.4 C541.1,467.0 540.3,464.5 542.8,460.4 Z" fill="#C830D0" stroke="#000" stroke-width="0.9"/>
<path d="M570.4,388.8 C572.9,387.3 575.8,386.7 579.2,387.6 C582.5,388.4 582.9,389.8 580.4,391.3 C577.9,392.9 575.0,392.9 571.6,392.1 C568.3,391.3 567.9,390.3 570.4,388.8 Z" fill="#C830D0" stroke="#000" stroke-width="0.9"/>
<ellipse cx="617.6" cy="393.1" rx="2.5" ry="2.5" fill="#C830D0" stroke="#000" stroke-width="0.9"/>
<ellipse cx="580.4" cy="508.5" rx="3.0" ry="3.0" fill="#C830D0" stroke="#000" stroke-width="0.9"/>
<path d="M547.8,510.5 C549.9,507.2 551.6,505.9 555.3,505.5 C559.1,505.1 559.5,505.9 559.1,509.3 C558.7,512.6 557.4,513.5 554.1,515.6 C550.7,517.7 551.1,517.2 549.0,515.6 C547.0,513.9 545.7,513.9 547.8,510.5 Z" fill="#C830D0" stroke="#000" stroke-width="0.9"/>
<path d="M480.0,500.5 C481.7,498.2 485.5,498.4 490.1,499.3 C494.7,500.1 495.5,500.8 493.8,503.0 C492.2,505.3 489.7,506.9 485.1,506.0 C480.5,505.2 478.4,502.8 480.0,500.5 Z" fill="#C830D0" stroke="#000" stroke-width="0.9"/>
<path d="M575.4,515.6 C578.7,512.1 582.5,511.7 585.4,515.1 C588.4,518.4 587.5,522.1 584.2,525.6 C580.8,529.1 578.3,528.9 575.4,525.6 C572.5,522.3 572.0,519.1 575.4,515.6 Z" fill="#C830D0" stroke="#000" stroke-width="0.9"/>
<path d="M468.7,485.5 C470.8,482.9 473.8,484.6 475.0,488.0 C476.3,491.3 474.6,493.0 472.5,495.5 C470.4,498.0 470.0,498.8 468.7,495.5 C467.5,492.1 466.7,488.0 468.7,485.5 Z" fill="#C830D0"/>
<path d="M486.3,417.7 C488.4,412.3 489.7,413.1 492.6,416.4 C495.5,419.8 495.5,421.5 495.1,427.7 C494.7,434.0 494.3,433.6 491.3,435.3 C488.4,436.9 488.0,438.6 486.3,432.8 C484.6,426.9 484.2,423.1 486.3,417.7 Z" fill="#EE9840" stroke="#000" stroke-width="0.9"/>
<path d="M497.6,430.2 C500.1,425.6 502.2,424.8 507.6,426.5 C513.1,428.2 513.9,429.8 513.9,435.3 C513.9,440.7 512.2,441.1 507.6,442.8 C503.0,444.5 503.5,444.5 500.1,440.3 C496.8,436.1 495.1,434.8 497.6,430.2 Z" fill="#F8B830" stroke="#000" stroke-width="0.9"/>
<path d="M495.1,457.8 C496.3,453.2 499.3,452.8 502.6,455.3 C506.0,457.8 506.4,460.8 505.1,465.4 C503.9,470.0 502.2,471.6 498.9,469.1 C495.5,466.6 493.8,462.4 495.1,457.8 Z" fill="#EE9840" stroke="#000" stroke-width="0.9"/>
<path d="M551.6,447.8 C552.8,444.5 555.7,443.2 559.1,444.0 C562.4,444.9 562.8,447.0 561.6,450.3 C560.3,453.7 558.7,454.9 555.3,454.1 C552.0,453.2 550.3,451.2 551.6,447.8 Z" fill="#EE9840" stroke="#000" stroke-width="0.9"/>
<path d="M488.8,380.1 C490.5,378.0 492.6,378.8 495.1,381.3 C497.6,383.8 498.0,385.5 496.3,387.6 C494.7,389.7 492.6,390.1 490.1,387.6 C487.6,385.1 487.1,382.1 488.8,380.1 Z" fill="#E0643C" stroke="#000" stroke-width="0.9"/>
<path d="M526.5,370.0 C527.7,367.1 530.6,367.9 534.0,370.0 C537.3,372.1 537.8,373.4 536.5,376.3 C535.2,379.2 533.6,380.9 530.2,378.8 C526.9,376.7 525.2,372.9 526.5,370.0 Z" fill="#E0643C" stroke="#000" stroke-width="0.9"/>
<path d="M475.0,442.8 C478.8,438.6 482.5,437.8 485.1,440.3 C487.6,442.8 486.3,446.1 482.5,450.3 C478.8,454.5 476.3,455.3 473.8,452.8 C471.3,450.3 471.3,447.0 475.0,442.8 Z" fill="#E0643C" stroke="#000" stroke-width="0.9"/>
<path d="M511.4,482.9 C512.7,480.4 514.8,480.4 516.4,482.9 C518.1,485.5 517.7,488.0 516.4,490.5 C515.2,493.0 514.3,493.0 512.7,490.5 C511.0,488.0 510.2,485.5 511.4,482.9 Z" fill="#E0643C" stroke="#000" stroke-width="0.9"/>
<path d="M600.5,368.8 C603.0,366.7 606.3,366.3 610.5,367.5 C614.7,368.8 615.5,370.4 613.0,372.5 C610.5,374.6 607.2,375.0 603.0,373.8 C598.8,372.5 598.0,370.9 600.5,368.8 Z" fill="#E0643C" stroke="#000" stroke-width="0.9"/>
<path d="M587.9,495.5 C591.7,493.0 593.4,492.1 598.0,494.2 C602.6,496.3 603.0,497.6 601.7,501.8 C600.5,505.9 599.2,506.8 594.2,506.8 C589.2,506.8 588.8,505.5 586.7,501.8 C584.6,498.0 584.2,498.0 587.9,495.5 Z" fill="#E0643C" stroke="#000" stroke-width="0.9"/>
<ellipse cx="576.9" cy="468.4" rx="2.5" ry="3.0" fill="#E0643C" stroke="#000" stroke-width="0.9"/>
<ellipse cx="527.2" cy="465.4" rx="2.5" ry="2.5" fill="#E0643C" stroke="#000" stroke-width="0.9"/>
<ellipse cx="488.1" cy="397.1" rx="2.0" ry="2.0" fill="#E0643C" stroke="#000" stroke-width="0.9"/>
<ellipse cx="495.1" cy="375.5" rx="1.5" ry="1.5" fill="#E0643C" stroke="#000" stroke-width="0.9"/>
<path d="M477.5,363.7 C481.7,361.2 488.4,361.7 492.6,363.7 C496.8,365.8 494.3,367.5 490.1,370.0 C485.9,372.5 484.2,373.4 480.0,371.3 C475.9,369.2 473.3,366.3 477.5,363.7 Z" fill="#EE9840"/>
<ellipse cx="490.6" cy="425.2" rx="2.0" ry="5.5" fill="#F8B830"/>
<ellipse cx="507.1" cy="432.8" rx="3.5" ry="3.0" fill="#F0C83C"/>
<ellipse cx="500.1" cy="462.4" rx="2.3" ry="3.5" fill="#F8B830"/>
<ellipse cx="557.1" cy="449.1" rx="2.5" ry="2.0" fill="#F8B830"/>
<ellipse cx="593.5" cy="500.0" rx="2.5" ry="2.5" fill="#F8B830"/>
<path d="M610.5,470.4 C614.3,467.0 613.9,469.6 620.6,467.9 C627.3,466.2 622.2,462.9 630.6,465.4 C639.0,467.9 635.6,468.7 645.7,475.4 C655.7,482.1 655.7,468.7 660.7,485.5 C665.7,502.2 673.3,512.2 660.7,525.6 C648.2,539.0 639.0,532.3 623.1,525.6 C607.2,518.9 618.1,517.2 613.0,505.5 C608.0,493.8 609.3,499.7 608.0,490.5 C606.8,481.3 608.4,484.6 609.3,477.9 C610.1,471.2 606.8,473.7 610.5,470.4 Z" fill="#E0643C"/>
<path d="M630.6,470.4 C632.3,467.7 635.6,466.5 640.6,469.1 C645.7,471.8 647.3,475.7 645.7,478.4 C644.0,481.1 640.6,479.8 635.6,477.2 C630.6,474.5 628.9,473.1 630.6,470.4 Z" fill="#C830D0" stroke="#000" stroke-width="0.9"/>
<path d="M472.5,363.7 C472.8,369.9 472.6,380.4 473.8,390.1 C474.9,399.8 475.5,398.1 477.5,405.2 C479.6,412.2 480.5,414.1 482.5,420.2 C484.6,426.4 483.4,427.7 486.3,431.5 C489.2,435.3 490.4,435.1 495.1,436.5 C499.8,438.0 503.5,435.7 506.4,437.8 C509.3,439.8 504.4,444.7 507.6,445.3 C510.9,445.9 513.7,442.0 520.2,440.3 C526.6,438.5 528.2,438.7 535.2,437.8 C542.3,436.9 544.4,438.3 550.3,436.5 C556.2,434.8 556.2,433.8 560.3,430.2 C564.4,426.7 563.8,424.4 567.9,421.5 C572.0,418.5 572.6,418.9 577.9,417.7 C583.2,416.5 585.2,416.2 590.5,416.4 C595.7,416.7 595.8,418.7 600.5,419.0 C605.2,419.2 605.8,418.9 610.5,417.7 C615.2,416.5 617.6,416.9 620.6,413.9 C623.5,411.0 620.1,407.8 623.1,405.2 C626.0,402.5 627.8,402.9 633.1,402.6 C638.4,402.3 641.0,403.9 645.7,403.9 C650.3,403.9 651.4,402.9 653.2,402.6" fill="none" stroke="#000" stroke-width="1.7" stroke-linejoin="round" stroke-linecap="round"/>
<path d="M507.6,445.3 C507.9,448.2 509.5,452.6 508.9,457.8 C508.3,463.1 508.4,464.4 505.1,467.9 C501.9,471.4 498.0,469.4 495.1,472.9 C492.2,476.4 494.3,477.7 492.6,482.9 C490.8,488.2 490.5,491.1 487.6,495.5 C484.6,499.9 484.4,499.7 480.0,501.8 C475.6,503.8 471.4,503.7 468.7,504.3" fill="none" stroke="#000" stroke-width="1.7" stroke-linejoin="round" stroke-linecap="round"/>
<path d="M633.1,363.7 C633.4,367.6 634.4,371.0 634.4,380.1 C634.4,389.1 633.4,397.4 633.1,402.6" fill="none" stroke="#000" stroke-width="1.7" stroke-linejoin="round" stroke-linecap="round"/>
<path d="M610.5,470.4 C611.4,471.9 614.6,473.2 614.3,476.7 C614.0,480.2 610.7,481.1 609.3,485.5 C607.8,489.8 607.1,490.8 608.0,495.5 C608.9,500.2 610.1,500.8 613.0,505.5 C616.0,510.2 617.3,510.9 620.6,515.6 C623.8,520.2 625.4,523.3 626.8,525.6" fill="none" stroke="#000" stroke-width="1.7" stroke-linejoin="round" stroke-linecap="round"/>
<path d="M625.6,465.4 C627.3,466.5 629.0,467.5 633.1,470.4 C637.2,473.3 639.1,474.4 643.1,477.9 C647.2,481.4 647.2,483.0 650.7,485.5 C654.2,487.9 656.4,487.8 658.2,488.5" fill="none" stroke="#000" stroke-width="1.8" stroke-linejoin="round" stroke-linecap="round"/>
</g>
<clipPath id="cJ"><rect x="119" y="500" width="181" height="45"/></clipPath>
<g clip-path="url(#cJ)">
<rect x="119" y="500" width="181" height="45" fill="#C830D0"/>
<path d="M167.7,493.1 C173.2,488.1 176.9,491.4 185.3,495.6 C193.6,499.8 192.8,499.8 192.8,505.7 C192.8,511.5 191.1,509.0 185.3,513.2 C179.4,517.4 180.7,519.0 175.2,518.2 C169.8,517.4 171.5,519.0 169.0,510.7 C166.5,502.3 162.3,498.1 167.7,493.1 Z" fill="#C800A0"/>
<path d="M170.2,515.7 C171.9,512.4 173.6,514.0 177.8,518.2 C181.9,522.4 181.9,521.6 182.8,528.2 C183.6,534.9 182.6,534.9 180.3,538.3 C177.9,541.6 178.3,541.6 175.7,538.3 C173.2,534.9 174.6,535.8 172.7,528.2 C170.9,520.7 168.6,519.0 170.2,515.7 Z" fill="#C868C8"/>
<path d="M185.3,513.2 C189.0,508.2 187.8,510.0 195.3,508.2 C202.8,506.3 201.8,506.0 207.9,507.7 C213.9,509.3 213.2,508.7 213.4,513.2 C213.6,517.7 214.0,516.9 208.4,521.2 C202.8,525.6 203.4,521.8 196.6,526.2 C189.7,530.7 191.6,527.2 187.8,534.5 C184.0,541.9 187.4,543.7 185.3,548.3 C183.2,552.9 182.4,553.3 181.5,548.3 C180.7,543.3 181.9,541.6 182.8,533.3 C183.6,524.9 183.2,529.9 184.0,523.2 C184.9,516.5 181.5,518.2 185.3,513.2 Z" fill="#B02C28"/>
<path d="M192.8,527.0 C197.8,518.6 202.7,521.1 210.4,523.2 C218.1,525.3 215.5,524.9 215.9,533.3 C216.3,541.6 218.5,543.3 211.6,548.3 C204.8,553.3 201.6,555.4 195.3,548.3 C189.0,541.2 187.8,535.4 192.8,527.0 Z" fill="#C868C8"/>
<path d="M209.1,500.6 C212.0,496.5 215.1,496.5 217.9,500.6 C220.7,504.8 219.1,506.1 217.4,513.2 C215.7,520.3 215.6,522.0 212.9,522.0 C210.1,522.0 210.4,520.3 209.1,513.2 C207.9,506.1 206.2,504.8 209.1,500.6 Z" fill="#C800A0"/>
<path d="M190.3,514.4 C191.1,510.9 192.4,511.5 197.8,510.7 C203.3,509.8 204.1,509.4 206.6,511.9 C209.1,514.4 209.1,515.1 205.4,518.2 C201.6,521.3 200.3,522.5 195.3,521.2 C190.3,520.0 189.5,518.0 190.3,514.4 Z" fill="#D83020"/>
<path d="M194.1,512.7 C195.5,511.7 197.2,511.2 198.3,512.2 C199.4,513.2 198.7,514.7 197.3,515.7 C195.9,516.7 195.2,516.2 194.1,515.2 C193.0,514.2 192.6,513.7 194.1,512.7 Z" fill="#E0643C" stroke="#000" stroke-width="0.9"/>
<path d="M117.5,491.9 C120.9,473.9 121.7,491.4 127.6,494.4 C133.4,497.3 128.4,496.7 135.1,500.6 C141.8,504.6 139.7,503.8 147.6,506.2 C155.6,508.5 152.2,504.1 158.9,507.7 C165.6,511.3 163.5,509.3 167.7,517.0 C171.9,524.6 169.4,523.6 171.5,530.8 C173.6,537.9 171.5,532.4 174.0,538.3 C176.5,544.1 197.8,545.0 179.0,548.3 C160.2,551.7 138.0,567.1 117.5,548.3 C97.0,529.5 114.2,509.8 117.5,491.9 Z" fill="#D83020"/>
<path d="M220.4,488.1 C189.5,494.8 220.0,497.3 217.9,508.2 C215.8,519.0 215.0,514.0 214.1,520.7 C213.3,527.4 212.5,524.1 215.4,528.2 C218.3,532.4 217.1,530.3 222.9,533.3 C228.8,536.2 226.3,533.7 233.0,537.0 C239.7,540.4 238.4,539.5 243.0,543.3 C247.6,547.1 224.2,546.6 246.8,548.3 C269.3,550.0 289.4,568.4 310.8,548.3 C332.1,528.2 340.9,508.2 310.8,488.1 C280.6,468.0 251.4,481.4 220.4,488.1 Z" fill="#E0643C"/>
<path d="M218.4,498.1 C222.2,495.6 227.3,495.6 229.2,500.6 C231.1,505.7 226.9,505.2 224.2,513.2 C221.4,521.1 219.7,518.8 220.9,524.5 C222.2,530.2 221.4,526.9 227.9,530.3 C234.5,533.6 233.0,532.0 240.5,534.5 C248.0,537.0 246.2,533.2 250.5,537.8 C254.9,542.4 255.2,544.8 253.5,548.3 C251.9,551.8 249.4,550.2 245.5,548.3 C241.6,546.5 245.9,546.4 241.7,542.8 C237.6,539.2 239.2,540.5 233.0,537.5 C226.7,534.5 228.8,536.7 222.9,533.8 C217.1,530.8 218.3,533.1 215.4,528.7 C212.5,524.4 213.3,527.6 214.1,520.7 C215.0,513.9 216.5,515.7 217.9,508.2 C219.3,500.6 214.6,500.6 218.4,498.1 Z" fill="#D83020" stroke="#000" stroke-width="0.8"/>
<path d="M227.9,486.8 C238.8,483.9 247.0,484.7 260.6,486.8 C274.1,488.9 268.6,488.5 268.6,493.1 C268.6,497.7 266.6,494.8 260.6,500.6 C254.5,506.5 258.9,509.0 250.5,510.7 C242.2,512.4 243.0,510.7 235.5,505.7 C227.9,500.6 230.5,501.9 227.9,495.6 C225.4,489.3 217.1,489.8 227.9,486.8 Z" fill="#D83020" stroke="#000" stroke-width="0.9"/>
<path d="M280.6,548.3 C271.4,544.3 279.0,541.3 283.1,536.3 C287.3,531.3 284.0,533.4 293.2,533.3 C302.4,533.1 304.9,530.8 310.8,535.8 C316.6,540.8 320.8,544.1 310.8,548.3 C300.7,552.5 289.8,552.3 280.6,548.3 Z" fill="#D83020" stroke="#000" stroke-width="0.9"/>
<path d="M216.6,524.5 C218.7,522.3 221.7,524.3 229.2,528.7 C236.7,533.2 237.1,533.6 239.2,537.8 C241.3,542.0 240.9,542.1 235.5,541.3 C230.0,540.5 229.2,540.9 222.9,535.3 C216.6,529.7 214.6,526.7 216.6,524.5 Z" fill="#B02C28"/>
<path d="M170.2,537.0 C171.6,534.5 173.4,534.5 175.7,537.0 C178.1,539.5 178.7,542.0 177.3,544.6 C175.8,547.1 173.8,547.1 171.5,544.6 C169.1,542.0 168.8,539.5 170.2,537.0 Z" fill="#C830D0" stroke="#000" stroke-width="0.9"/>
<path d="M117.5,491.9 C119.9,492.4 123.5,492.3 127.6,494.4 C131.7,496.4 130.4,497.9 135.1,500.6 C139.8,503.4 142.1,504.5 147.6,506.2 C153.2,507.8 154.2,505.1 158.9,507.7 C163.6,510.2 164.8,511.6 167.7,517.0 C170.6,522.3 170.0,525.8 171.5,530.8 C172.9,535.7 172.2,534.2 174.0,538.3 C175.7,542.4 177.8,546.0 179.0,548.3" fill="none" stroke="#000" stroke-width="1.7" stroke-linejoin="round" stroke-linecap="round"/>
<path d="M220.4,488.1 C219.8,492.8 219.4,500.6 217.9,508.2 C216.4,515.8 214.7,516.0 214.1,520.7 C213.6,525.4 213.3,525.3 215.4,528.2 C217.4,531.2 218.8,531.2 222.9,533.3 C227.0,535.3 228.3,534.7 233.0,537.0 C237.6,539.4 239.6,540.7 243.0,543.3 C246.4,545.9 246.5,547.1 247.5,548.3" fill="none" stroke="#000" stroke-width="1.7" stroke-linejoin="round" stroke-linecap="round"/>
</g>
<clipPath id="cK"><rect x="300" y="500" width="180" height="45"/></clipPath>
<g clip-path="url(#cK)">
<rect x="300" y="500" width="180" height="45" fill="#E0643C"/>
<path d="M379.3,478.1 C353.3,483.2 378.1,492.9 379.3,499.9 C380.6,506.9 382.3,502.5 384.6,508.2 C386.9,513.8 388.5,517.7 389.4,524.2 C390.3,530.8 389.1,530.4 388.4,536.3 C387.7,542.2 362.5,546.5 386.4,549.6 C410.3,552.7 466.4,566.3 490.8,549.6 C515.1,532.9 516.8,494.7 490.8,478.1 C464.8,461.4 405.3,473.0 379.3,478.1 Z" fill="#D83020" stroke="#000" stroke-width="0.9"/>
<path d="M288.7,533.3 C292.5,529.9 293.3,534.9 300.0,538.3 C306.7,541.6 303.8,540.0 308.8,543.3 C313.8,546.6 321.8,546.6 315.1,548.3 C308.4,550.0 297.5,553.3 288.7,548.3 C280.0,543.3 285.0,536.6 288.7,533.3 Z" fill="#D83020" stroke="#000" stroke-width="0.9"/>
<path d="M300.0,482.1 C292.5,483.9 305.3,485.9 308.1,490.1 C310.9,494.3 310.2,495.5 312.1,500.1 C314.0,504.8 313.3,506.0 316.1,510.2 C318.9,514.4 319.9,515.4 324.1,518.2 C328.3,521.0 330.7,521.8 334.2,522.2 C337.7,522.7 337.8,523.5 339.2,520.2 C340.6,516.9 338.1,512.9 340.2,508.2 C342.3,503.5 347.3,503.9 348.2,500.1 C349.2,496.4 346.1,496.3 344.2,492.1 C342.3,487.9 350.5,484.4 340.2,482.1 C329.9,479.7 307.5,480.2 300.0,482.1 Z" fill="#C830D0" stroke="#000" stroke-width="1.7"/>
<path d="M425.5,488.1 C445.6,483.1 469.0,468.0 490.8,488.1 C512.5,508.2 504.1,528.2 490.8,548.3 C477.4,568.4 467.3,551.7 450.6,548.3 C433.9,545.0 443.5,545.8 440.6,538.3 C437.6,530.8 443.1,534.1 441.8,525.7 C440.6,517.4 440.6,520.7 436.8,513.2 C433.0,505.7 434.3,511.5 430.5,503.2 C426.8,494.8 405.4,493.1 425.5,488.1 Z" fill="#C800A0"/>
<path d="M302.5,483.1 C295.3,484.0 307.4,485.4 310.1,489.1 C312.8,492.8 312.3,494.7 314.1,499.1 C315.8,503.6 315.0,504.4 317.6,508.2 C320.2,512.0 321.6,513.0 325.1,515.4 C328.6,517.8 329.8,518.5 332.7,518.5 C335.5,518.5 335.7,518.2 337.2,515.4 C338.7,512.7 337.2,510.2 339.2,506.7 C341.2,503.2 344.7,503.0 345.7,500.4 C346.8,497.8 344.8,498.9 343.7,495.4 C342.6,491.9 350.8,488.2 341.2,485.3 C331.6,482.5 309.8,482.2 302.5,483.1 Z" fill="#C868C8" stroke="#000" stroke-width="0.9"/>
<path d="M425.5,478.1 C430.5,473.9 436.4,474.7 445.6,480.6 C454.8,486.4 454.8,488.9 453.1,495.6 C451.4,502.3 448.1,501.5 440.6,500.6 C433.0,499.8 435.5,500.6 430.5,493.1 C425.5,485.6 420.5,482.2 425.5,478.1 Z" fill="#B02C28"/>
<path d="M306.1,478.1 C300.0,479.5 307.7,482.8 310.1,486.1 C312.4,489.4 314.2,488.8 316.1,492.1 C318.0,495.4 316.2,497.3 318.1,500.1 C320.0,502.9 321.8,502.3 324.1,504.2 C326.5,506.0 325.8,507.7 328.1,508.2 C330.5,508.6 332.3,508.0 334.2,506.2 C336.0,504.3 334.3,502.0 336.2,500.1 C338.0,498.3 341.3,500.9 342.2,498.1 C343.1,495.3 341.6,492.3 340.2,488.1 C338.8,483.9 344.1,482.4 336.2,480.1 C328.2,477.7 312.1,476.7 306.1,478.1 Z" fill="#C898C8" stroke="#000" stroke-width="0.9"/>
<path d="M440.1,500.1 C443.6,499.4 447.0,503.9 453.1,503.2 C459.2,502.4 459.7,498.6 466.2,496.9 C472.6,495.1 475.0,496.2 480.7,495.6 C486.5,495.0 488.4,481.8 490.8,494.4 C493.1,507.0 499.3,536.7 490.8,549.6 C482.2,562.5 464.1,552.7 454.1,549.6 C444.2,546.5 450.9,541.3 448.1,536.3 C445.3,531.3 443.7,532.9 442.1,528.2 C440.4,523.6 442.0,521.4 441.1,516.2 C440.1,511.0 438.3,509.9 438.1,506.2 C437.8,502.4 436.5,500.8 440.1,500.1 Z" fill="#C830D0"/>
<path d="M327.6,512.9 C328.5,510.4 330.6,509.8 332.7,511.7 C334.8,513.5 334.8,515.9 333.9,518.5 C333.1,521.0 332.2,521.1 330.2,519.2 C328.1,517.4 326.8,515.4 327.6,512.9 Z" fill="#C830D0" stroke="#000" stroke-width="0.9"/>
<path d="M440.6,508.2 C441.8,502.7 442.7,502.7 446.8,506.9 C451.0,511.1 451.9,512.8 453.1,520.7 C454.4,528.7 453.9,529.9 450.6,530.8 C447.3,531.6 446.4,530.8 443.1,523.2 C439.7,515.7 439.3,513.6 440.6,508.2 Z" fill="#C868C8" stroke="#000" stroke-width="0.9"/>
<path d="M466.2,518.7 C473.7,512.4 472.5,515.0 480.7,513.2 C488.9,511.3 487.4,501.1 490.8,513.2 C494.1,525.3 502.3,537.4 490.8,549.6 C479.2,561.7 467.0,555.3 456.1,549.6 C445.2,543.8 454.8,542.5 458.1,532.3 C461.5,522.0 458.6,525.1 466.2,518.7 Z" fill="#C868C8"/>
<path d="M441.8,510.7 C442.0,508.3 443.3,508.5 445.6,511.2 C447.8,513.9 448.8,516.4 448.6,518.7 C448.4,521.1 447.3,520.9 445.1,518.2 C442.8,515.5 441.7,513.0 441.8,510.7 Z" fill="#A0A0A0"/>
<path d="M455.6,518.2 C456.5,515.3 460.6,515.3 465.7,517.0 C470.7,518.6 471.5,520.3 470.7,523.2 C469.8,526.2 468.2,527.4 463.1,525.7 C458.1,524.1 454.8,521.1 455.6,518.2 Z" fill="#C800A0"/>
<path d="M458.1,535.8 C461.5,532.8 464.8,532.9 469.4,533.8 C474.0,534.6 473.2,535.1 471.9,538.3 C470.7,541.5 469.8,541.8 465.7,543.3 C461.5,544.8 461.9,545.3 459.4,542.8 C456.9,540.3 454.8,538.8 458.1,535.8 Z" fill="#C868C8" stroke="#000" stroke-width="0.9"/>
<path d="M480.7,530.8 C482.8,527.6 486.2,526.7 488.2,528.7 C490.3,530.8 489.1,533.8 487.0,537.0 C484.9,540.2 484.1,540.4 482.0,538.3 C479.9,536.2 478.6,533.9 480.7,530.8 Z" fill="#C898C8" stroke="#000" stroke-width="0.9"/>
<path d="M419.2,523.2 C420.2,522.0 423.8,524.9 426.8,524.5 C429.8,524.1 431.6,521.0 434.3,521.2 C437.0,521.5 439.3,523.6 440.1,525.7 C440.8,527.9 439.5,530.3 438.1,532.0 C436.6,533.8 433.0,532.3 433.0,534.5 C433.0,536.8 437.6,541.0 438.1,543.3 C438.6,545.6 437.8,546.8 435.5,545.8 C433.3,544.8 429.5,541.3 426.8,538.3 C424.0,535.3 423.2,533.8 421.7,530.8 C420.2,527.7 418.2,524.5 419.2,523.2 Z" fill="#C830D0" stroke="#000" stroke-width="1.8"/>
<path d="M424.3,527.0 C425.9,524.9 429.7,524.6 433.0,525.7 C436.4,526.8 436.0,528.2 434.3,530.3 C432.6,532.3 431.4,533.1 428.0,532.0 C424.7,530.9 422.6,529.1 424.3,527.0 Z" fill="#C868C8"/>
<path d="M397.9,473.0 C399.1,474.8 400.0,476.5 402.9,480.6 C405.9,484.7 406.4,486.5 410.5,490.6 C414.6,494.7 415.8,494.9 420.5,498.1 C425.2,501.4 426.4,501.2 430.5,504.4 C434.6,507.6 435.4,507.5 438.1,511.9 C440.7,516.3 440.6,517.7 441.8,523.2 C443.0,528.8 441.0,531.1 443.1,535.8 C445.1,540.5 448.3,540.4 450.6,543.3 C452.9,546.2 452.5,547.1 453.1,548.3" fill="none" stroke="#000" stroke-width="1.7" stroke-linejoin="round" stroke-linecap="round"/>
<path d="M465.7,503.2 C468.0,502.6 471.6,501.8 475.7,500.6 C479.8,499.5 479.7,499.6 483.2,498.1 C486.7,496.7 489.0,495.2 490.8,494.4" fill="none" stroke="#000" stroke-width="1.7" stroke-linejoin="round" stroke-linecap="round"/>
<path d="M453.1,535.8 C455.5,534.0 459.3,531.6 463.1,528.2 C467.0,524.8 468.8,524.7 469.4,521.2 C470.0,517.7 465.8,517.4 465.7,513.2 C465.5,509.0 468.0,505.5 468.7,503.2" fill="none" stroke="#000" stroke-width="1.7" stroke-linejoin="round" stroke-linecap="round"/>
</g>
<clipPath id="cL"><rect x="480" y="500" width="178" height="45"/></clipPath>
<g clip-path="url(#cL)">
<rect x="480" y="500" width="178" height="45" fill="#C800A0"/>
<path d="M490.1,488.1 C495.9,483.1 497.6,484.7 510.2,488.1 C522.7,491.4 520.2,489.8 527.7,498.1 C535.2,506.5 531.9,503.2 532.7,513.2 C533.6,523.2 529.4,516.5 530.2,528.2 C531.1,540.0 540.3,541.6 535.2,548.3 C530.2,555.0 523.5,553.3 515.2,548.3 C506.8,543.3 515.2,542.5 510.2,533.3 C505.1,524.1 506.0,530.8 500.1,520.7 C494.3,510.7 495.9,514.0 492.6,503.2 C489.2,492.3 484.2,493.1 490.1,488.1 Z" fill="#B02C28"/>
<path d="M532.7,478.1 C536.9,471.4 543.6,471.4 552.8,475.5 C562.0,479.7 560.3,482.2 560.3,490.6 C560.3,499.0 559.5,499.0 552.8,500.6 C546.1,502.3 547.0,503.2 540.3,495.6 C533.6,488.1 528.6,484.7 532.7,478.1 Z" fill="#B02C28"/>
<path d="M555.3,513.2 C559.5,508.2 563.7,507.3 570.4,510.7 C577.1,514.0 577.1,516.5 575.4,523.2 C573.7,529.9 571.2,529.9 565.4,530.8 C559.5,531.6 561.2,531.6 557.8,525.7 C554.5,519.9 551.1,518.2 555.3,513.2 Z" fill="#B02C28"/>
<path d="M565.4,488.1 C567.9,483.1 572.9,483.9 582.9,485.6 C593.0,487.3 593.8,487.3 595.5,493.1 C597.1,499.0 594.6,500.6 587.9,503.2 C581.3,505.7 582.9,505.7 575.4,500.6 C567.9,495.6 562.8,493.1 565.4,488.1 Z" fill="#B02C28"/>
<path d="M495.1,488.1 C499.3,483.9 499.3,483.1 507.6,488.1 C516.0,493.1 514.3,492.3 520.2,503.2 C526.0,514.0 521.0,509.0 525.2,520.7 C529.4,532.4 531.1,529.1 532.7,538.3 C534.4,547.5 534.4,545.0 530.2,548.3 C526.0,551.7 526.0,554.2 520.2,548.3 C514.3,542.5 518.5,542.5 512.7,530.8 C506.8,519.0 508.5,523.2 502.6,513.2 C496.8,503.2 497.6,509.0 495.1,500.6 C492.6,492.3 490.9,492.3 495.1,488.1 Z" fill="#D83020"/>
<path d="M605.5,513.2 C607.2,509.8 611.4,513.2 615.5,518.2 C619.7,523.2 619.7,524.9 618.1,528.2 C616.4,531.6 614.7,533.3 610.5,528.2 C606.3,523.2 603.8,516.5 605.5,513.2 Z" fill="#D83020"/>
<path d="M468.7,513.2 C471.4,504.4 474.5,510.1 480.0,510.7 C485.6,511.3 487.3,512.2 492.6,515.7 C497.9,519.2 498.5,520.5 502.6,525.7 C506.7,531.0 507.5,533.0 510.2,538.3 C512.8,543.6 523.6,546.0 513.9,548.3 C504.3,550.7 479.3,556.5 468.7,548.3 C458.2,540.1 466.1,522.0 468.7,513.2 Z" fill="#C830D0" stroke="#000" stroke-width="0.9"/>
<path d="M550.3,548.3 C533.7,546.1 550.3,539.8 552.8,537.0 C555.3,534.3 559.3,534.5 562.8,534.5 C566.4,534.5 566.9,537.0 570.4,537.0 C573.9,537.0 579.4,537.3 580.4,534.5 C581.4,531.8 575.6,526.7 575.4,523.2 C575.1,519.7 576.6,517.7 579.2,517.0 C581.7,516.2 586.7,517.7 587.9,519.5 C589.2,521.2 584.4,524.7 585.4,525.7 C586.4,526.7 589.9,525.5 593.0,524.5 C596.0,523.5 597.0,521.0 600.5,520.7 C604.0,520.5 606.5,521.2 610.5,523.2 C614.5,525.2 616.5,527.7 620.6,530.8 C624.6,533.8 627.6,534.8 630.6,538.3 C633.6,541.8 651.7,546.3 635.6,548.3 C619.6,550.3 566.9,550.6 550.3,548.3 Z" fill="#C830D0" stroke="#000" stroke-width="0.9"/>
<path d="M468.7,523.2 C472.5,514.0 472.1,519.0 480.0,520.7 C488.0,522.4 485.9,522.4 492.6,528.2 C499.3,534.1 496.8,531.6 500.1,538.3 C503.5,545.0 513.1,545.0 502.6,548.3 C492.2,551.7 480.0,556.7 468.7,548.3 C457.5,540.0 465.0,532.4 468.7,523.2 Z" fill="#C868C8"/>
<path d="M582.9,548.3 C571.2,543.3 582.1,540.8 587.9,533.3 C593.8,525.7 592.1,526.6 600.5,525.7 C608.9,524.9 606.3,525.7 613.0,530.8 C619.7,535.8 617.2,534.9 620.6,540.8 C623.9,546.6 635.6,545.8 623.1,548.3 C610.5,550.8 594.6,553.3 582.9,548.3 Z" fill="#C868C8"/>
<ellipse cx="485.1" cy="528.7" rx="3.0" ry="4.5" fill="#C830D0" stroke="#000" stroke-width="0.9"/>
<ellipse cx="493.8" cy="535.8" rx="4.5" ry="2.5" fill="#C830D0" stroke="#000" stroke-width="0.9"/>
<ellipse cx="502.6" cy="531.3" rx="3.0" ry="2.5" fill="#C830D0" stroke="#000" stroke-width="0.9"/>
<path d="M596.7,529.5 C597.6,526.3 599.2,526.2 601.7,528.2 C604.3,530.3 605.1,532.6 604.3,535.8 C603.4,539.0 601.7,539.9 599.2,537.8 C596.7,535.7 595.9,532.7 596.7,529.5 Z" fill="#C830D0" stroke="#000" stroke-width="0.9"/>
<path d="M608.0,540.8 C610.1,538.7 612.6,537.9 615.5,539.5 C618.5,541.2 618.9,543.7 616.8,545.8 C614.7,547.9 612.2,547.5 609.3,545.8 C606.3,544.1 605.9,542.9 608.0,540.8 Z" fill="#C830D0" stroke="#000" stroke-width="0.9"/>
<path d="M547.8,509.4 C549.9,506.1 551.6,504.8 555.3,504.4 C559.1,504.0 559.5,504.8 559.1,508.2 C558.7,511.5 557.4,512.4 554.1,514.4 C550.7,516.5 551.1,516.1 549.0,514.4 C547.0,512.8 545.7,512.8 547.8,509.4 Z" fill="#C830D0" stroke="#000" stroke-width="0.9"/>
<ellipse cx="580.4" cy="508.2" rx="3.0" ry="3.0" fill="#C830D0" stroke="#000" stroke-width="0.9"/>
<path d="M480.0,500.1 C481.7,497.8 485.5,497.3 490.1,498.1 C494.7,499.0 495.5,500.3 493.8,502.6 C492.2,505.0 489.7,506.0 485.1,505.2 C480.5,504.3 478.4,502.5 480.0,500.1 Z" fill="#C830D0" stroke="#000" stroke-width="0.9"/>
<path d="M511.4,483.1 C512.5,480.1 514.3,480.6 516.4,483.1 C518.5,485.6 518.8,487.7 517.7,490.6 C516.6,493.5 515.3,494.4 513.2,491.9 C511.1,489.3 510.3,486.0 511.4,483.1 Z" fill="#E0643C" stroke="#000" stroke-width="0.9"/>
<path d="M587.9,495.6 C591.7,493.1 593.4,492.5 598.0,494.4 C602.6,496.2 603.0,497.2 601.7,501.1 C600.5,505.1 599.2,505.9 594.2,506.2 C589.2,506.4 588.8,505.4 586.7,501.9 C584.6,498.4 584.2,498.1 587.9,495.6 Z" fill="#E0643C" stroke="#000" stroke-width="0.9"/>
<path d="M521.4,519.5 C524.0,517.0 526.0,516.1 529.0,518.2 C531.9,520.3 530.2,520.7 530.2,525.7 C530.2,530.8 530.6,532.3 529.0,533.3 C527.3,534.3 527.7,531.3 525.2,528.7 C522.7,526.2 522.7,528.8 521.4,525.7 C520.2,522.6 518.9,522.0 521.4,519.5 Z" fill="#E0643C" stroke="#000" stroke-width="0.9"/>
<ellipse cx="514.7" cy="498.9" rx="1.5" ry="1.5" fill="#E0643C" stroke="#000" stroke-width="0.9"/>
<ellipse cx="593.5" cy="499.6" rx="2.5" ry="2.5" fill="#F8B830"/>
<ellipse cx="525.2" cy="523.2" rx="2.5" ry="3.0" fill="#F8B830"/>
<path d="M610.5,470.5 C614.5,467.2 613.9,469.7 620.6,468.0 C627.3,466.3 622.2,463.0 630.6,465.5 C639.0,468.0 635.6,468.9 645.7,475.5 C655.7,482.2 655.7,461.3 660.7,485.6 C665.7,509.8 666.6,527.4 660.7,548.3 C654.9,569.2 652.4,552.5 643.1,548.3 C633.9,544.1 639.8,545.0 633.1,535.8 C626.4,526.6 629.8,530.8 623.1,520.7 C616.4,510.7 618.2,515.7 613.0,505.7 C607.9,495.6 609.0,499.8 607.5,490.6 C606.0,481.4 607.5,484.7 608.5,478.1 C609.5,471.4 606.5,473.9 610.5,470.5 Z" fill="#E0643C"/>
<path d="M623.1,517.0 C624.6,515.2 626.6,514.9 628.1,517.0 C629.6,519.0 629.1,521.5 627.6,523.2 C626.1,525.0 625.1,524.3 623.6,522.2 C622.1,520.1 621.6,518.7 623.1,517.0 Z" fill="#EE9840"/>
<path d="M610.5,470.5 C611.4,472.0 614.6,473.3 614.3,476.8 C614.0,480.3 610.7,481.2 609.3,485.6 C607.8,490.0 607.1,490.9 608.0,495.6 C608.9,500.3 609.5,500.1 613.0,505.7 C616.5,511.2 619.0,513.6 623.1,519.5 C627.2,525.3 627.1,525.8 630.6,530.8 C634.1,535.7 635.5,536.7 638.1,540.8 C640.8,544.9 641.0,546.6 641.9,548.3" fill="none" stroke="#000" stroke-width="1.7" stroke-linejoin="round" stroke-linecap="round"/>
<path d="M475.0,461.7 C475.3,463.2 473.9,466.0 476.3,468.0 C478.6,470.1 481.0,470.2 485.1,470.5 C489.2,470.8 492.1,467.5 493.8,469.3 C495.6,471.0 493.8,473.1 492.6,478.1 C491.4,483.0 490.3,485.3 488.8,490.6 C487.4,495.9 489.5,497.7 486.3,500.6 C483.1,503.6 479.1,502.4 475.0,503.2 C470.9,503.9 470.2,503.5 468.7,503.7" fill="none" stroke="#000" stroke-width="1.7" stroke-linejoin="round" stroke-linecap="round"/>
<path d="M643.1,478.1 C645.7,480.6 645.7,482.2 650.7,485.6 C655.7,488.9 655.7,487.3 658.2,488.1" fill="none" stroke="#000" stroke-width="1.8" stroke-linejoin="round" stroke-linecap="round"/>
</g>
<polygon points="654.3,352 659,352 659,546 643.5,546 643.5,528 646.5,528 646.5,490 652,490 652,388 654.3,388" fill="#fff"/>
<line x1="183.8" y1="80" x2="183.8" y2="545" stroke="#c0c4c8" stroke-width="1" stroke-dasharray="2,5" opacity="0.8"/>
<line x1="248.6" y1="80" x2="248.6" y2="545" stroke="#c0c4c8" stroke-width="1" stroke-dasharray="2,5" opacity="0.8"/>
<line x1="313.4" y1="80" x2="313.4" y2="545" stroke="#c0c4c8" stroke-width="1" stroke-dasharray="2,5" opacity="0.8"/>
<line x1="378.2" y1="80" x2="378.2" y2="545" stroke="#c0c4c8" stroke-width="1" stroke-dasharray="2,5" opacity="0.8"/>
<line x1="443.0" y1="80" x2="443.0" y2="545" stroke="#c0c4c8" stroke-width="1" stroke-dasharray="2,5" opacity="0.8"/>
<line x1="507.8" y1="80" x2="507.8" y2="545" stroke="#c0c4c8" stroke-width="1" stroke-dasharray="2,5" opacity="0.8"/>
<line x1="572.6" y1="80" x2="572.6" y2="545" stroke="#c0c4c8" stroke-width="1" stroke-dasharray="2,5" opacity="0.8"/>
<line x1="637.4" y1="80" x2="637.4" y2="545" stroke="#c0c4c8" stroke-width="1" stroke-dasharray="2,5" opacity="0.8"/>
<line x1="119" y1="506.8" x2="658" y2="506.8" stroke="#c0c4c8" stroke-width="1" stroke-dasharray="2,5" opacity="0.8"/>
<line x1="119" y1="468.0" x2="658" y2="468.0" stroke="#c0c4c8" stroke-width="1" stroke-dasharray="2,5" opacity="0.8"/>
<line x1="119" y1="429.2" x2="658" y2="429.2" stroke="#c0c4c8" stroke-width="1" stroke-dasharray="2,5" opacity="0.8"/>
<line x1="119" y1="390.4" x2="658" y2="390.4" stroke="#c0c4c8" stroke-width="1" stroke-dasharray="2,5" opacity="0.8"/>
<line x1="119" y1="351.6" x2="658" y2="351.6" stroke="#c0c4c8" stroke-width="1" stroke-dasharray="2,5" opacity="0.8"/>
<line x1="119" y1="312.8" x2="658" y2="312.8" stroke="#c0c4c8" stroke-width="1" stroke-dasharray="2,5" opacity="0.8"/>
<line x1="119" y1="274.0" x2="658" y2="274.0" stroke="#c0c4c8" stroke-width="1" stroke-dasharray="2,5" opacity="0.8"/>
<line x1="119" y1="235.2" x2="658" y2="235.2" stroke="#c0c4c8" stroke-width="1" stroke-dasharray="2,5" opacity="0.8"/>
<line x1="119" y1="196.4" x2="658" y2="196.4" stroke="#c0c4c8" stroke-width="1" stroke-dasharray="2,5" opacity="0.8"/>
<line x1="119" y1="157.6" x2="658" y2="157.6" stroke="#c0c4c8" stroke-width="1" stroke-dasharray="2,5" opacity="0.8"/>
<line x1="119" y1="118.8" x2="658" y2="118.8" stroke="#c0c4c8" stroke-width="1" stroke-dasharray="2,5" opacity="0.8"/>
</g>
<rect x="161.7" y="127.0" width="10" height="8.4" fill="#fff"/>
<text x="166.7" y="134.3" font-size="8.6" text-anchor="middle" font-family="Liberation Sans, sans-serif" stroke="#000" stroke-width="0.3" fill="#000">14</text>
<rect x="213.7" y="139.8" width="10" height="8.4" fill="#fff"/>
<text x="218.7" y="147.1" font-size="8.6" text-anchor="middle" font-family="Liberation Sans, sans-serif" stroke="#000" stroke-width="0.3" fill="#000">14</text>
<rect x="248.5" y="167.4" width="10" height="8.4" fill="#fff"/>
<text x="253.5" y="174.7" font-size="8.6" text-anchor="middle" font-family="Liberation Sans, sans-serif" stroke="#000" stroke-width="0.3" fill="#000">20</text>
<rect x="223.7" y="208.8" width="10" height="8.4" fill="#fff"/>
<text x="228.7" y="216.1" font-size="8.6" text-anchor="middle" font-family="Liberation Sans, sans-serif" stroke="#000" stroke-width="0.3" fill="#000">20</text>
<rect x="190.3" y="223.4" width="10" height="8.4" fill="#fff"/>
<text x="195.3" y="230.7" font-size="8.6" text-anchor="middle" font-family="Liberation Sans, sans-serif" stroke="#000" stroke-width="0.3" fill="#000">20</text>
<rect x="466.2" y="121.7" width="10" height="8.4" fill="#fff"/>
<text x="471.2" y="129.0" font-size="8.6" text-anchor="middle" font-family="Liberation Sans, sans-serif" stroke="#000" stroke-width="0.3" fill="#000">20</text>
<rect x="431.0" y="178.0" width="10" height="8.4" fill="#fff"/>
<text x="436.0" y="185.3" font-size="8.6" text-anchor="middle" font-family="Liberation Sans, sans-serif" stroke="#000" stroke-width="0.3" fill="#000">20</text>
<rect x="345.7" y="202.3" width="10" height="8.4" fill="#fff"/>
<text x="350.7" y="209.6" font-size="8.6" text-anchor="middle" font-family="Liberation Sans, sans-serif" stroke="#000" stroke-width="0.3" fill="#000">20</text>
<rect x="407.2" y="210.6" width="10" height="8.4" fill="#fff"/>
<text x="412.2" y="217.9" font-size="8.6" text-anchor="middle" font-family="Liberation Sans, sans-serif" stroke="#000" stroke-width="0.3" fill="#000">20</text>
<rect x="467.5" y="122.2" width="10" height="8.4" fill="#fff"/>
<text x="472.5" y="129.5" font-size="8.6" text-anchor="middle" font-family="Liberation Sans, sans-serif" stroke="#000" stroke-width="0.3" fill="#000">20</text>
<rect x="524.2" y="126.5" width="10" height="8.4" fill="#fff"/>
<text x="529.2" y="133.8" font-size="8.6" text-anchor="middle" font-family="Liberation Sans, sans-serif" stroke="#000" stroke-width="0.3" fill="#000">20</text>
<rect x="603.5" y="158.6" width="10" height="8.4" fill="#fff"/>
<text x="608.5" y="165.9" font-size="8.6" text-anchor="middle" font-family="Liberation Sans, sans-serif" stroke="#000" stroke-width="0.3" fill="#000">20</text>
<rect x="522.2" y="186.7" width="10" height="8.4" fill="#fff"/>
<text x="527.2" y="194.0" font-size="8.6" text-anchor="middle" font-family="Liberation Sans, sans-serif" stroke="#000" stroke-width="0.3" fill="#000">20</text>
<rect x="190.3" y="224.1" width="10" height="8.4" fill="#fff"/>
<text x="195.3" y="231.4" font-size="8.6" text-anchor="middle" font-family="Liberation Sans, sans-serif" stroke="#000" stroke-width="0.3" fill="#000">20</text>
<rect x="248.5" y="288.1" width="10" height="8.4" fill="#fff"/>
<text x="253.5" y="295.4" font-size="8.6" text-anchor="middle" font-family="Liberation Sans, sans-serif" stroke="#000" stroke-width="0.3" fill="#000">20</text>
<rect x="269.9" y="269.8" width="10" height="8.4" fill="#fff"/>
<text x="274.9" y="277.1" font-size="8.6" text-anchor="middle" font-family="Liberation Sans, sans-serif" stroke="#000" stroke-width="0.3" fill="#000">24</text>
<rect x="359.0" y="243.4" width="10" height="8.4" fill="#fff"/>
<text x="364.0" y="250.7" font-size="8.6" text-anchor="middle" font-family="Liberation Sans, sans-serif" stroke="#000" stroke-width="0.3" fill="#000">20</text>
<rect x="363.3" y="278.5" width="10" height="8.4" fill="#fff"/>
<text x="368.3" y="285.8" font-size="8.6" text-anchor="middle" font-family="Liberation Sans, sans-serif" stroke="#000" stroke-width="0.3" fill="#000">20</text>
<rect x="314.6" y="304.1" width="10" height="8.4" fill="#fff"/>
<text x="319.6" y="311.4" font-size="8.6" text-anchor="middle" font-family="Liberation Sans, sans-serif" stroke="#000" stroke-width="0.3" fill="#000">20</text>
<rect x="463.7" y="266.7" width="10" height="8.4" fill="#fff"/>
<text x="468.7" y="274.0" font-size="8.6" text-anchor="middle" font-family="Liberation Sans, sans-serif" stroke="#000" stroke-width="0.3" fill="#000">20</text>
<rect x="463.7" y="277.3" width="10" height="8.4" fill="#fff"/>
<text x="468.7" y="284.6" font-size="8.6" text-anchor="middle" font-family="Liberation Sans, sans-serif" stroke="#000" stroke-width="0.3" fill="#000">20</text>
<rect x="458.1" y="310.4" width="10" height="8.4" fill="#fff"/>
<text x="463.1" y="317.7" font-size="8.6" text-anchor="middle" font-family="Liberation Sans, sans-serif" stroke="#000" stroke-width="0.3" fill="#000">20</text>
<rect x="396.2" y="343.0" width="10" height="8.4" fill="#fff"/>
<text x="401.2" y="350.3" font-size="8.6" text-anchor="middle" font-family="Liberation Sans, sans-serif" stroke="#000" stroke-width="0.3" fill="#000">26</text>
<rect x="526.0" y="250.9" width="10" height="8.4" fill="#fff"/>
<text x="531.0" y="258.2" font-size="8.6" text-anchor="middle" font-family="Liberation Sans, sans-serif" stroke="#000" stroke-width="0.3" fill="#000">20</text>
<rect x="616.8" y="234.1" width="10" height="8.4" fill="#fff"/>
<text x="621.8" y="241.4" font-size="8.6" text-anchor="middle" font-family="Liberation Sans, sans-serif" stroke="#000" stroke-width="0.3" fill="#000">20</text>
<rect x="122.1" y="393.4" width="10" height="8.4" fill="#fff"/>
<text x="127.1" y="400.7" font-size="8.6" text-anchor="middle" font-family="Liberation Sans, sans-serif" stroke="#000" stroke-width="0.3" fill="#000">20</text>
<rect x="194.6" y="398.9" width="10" height="8.4" fill="#fff"/>
<text x="199.6" y="406.2" font-size="8.6" text-anchor="middle" font-family="Liberation Sans, sans-serif" stroke="#000" stroke-width="0.3" fill="#000">20</text>
<rect x="250.0" y="488.3" width="10" height="8.4" fill="#fff"/>
<text x="255.0" y="495.6" font-size="8.6" text-anchor="middle" font-family="Liberation Sans, sans-serif" stroke="#000" stroke-width="0.3" fill="#000">20</text>
<rect x="285.2" y="444.1" width="10" height="8.4" fill="#fff"/>
<text x="290.2" y="451.4" font-size="8.6" text-anchor="middle" font-family="Liberation Sans, sans-serif" stroke="#000" stroke-width="0.3" fill="#000">26</text>
<rect x="194.6" y="481.3" width="10" height="8.4" fill="#fff"/>
<text x="199.6" y="488.6" font-size="8.6" text-anchor="middle" font-family="Liberation Sans, sans-serif" stroke="#000" stroke-width="0.3" fill="#000">26</text>
<rect x="288.9" y="478.7" width="10" height="8.4" fill="#fff"/>
<text x="293.9" y="486.0" font-size="8.6" text-anchor="middle" font-family="Liberation Sans, sans-serif" stroke="#000" stroke-width="0.3" fill="#000">26</text>
<rect x="140.1" y="496.3" width="10" height="8.4" fill="#fff"/>
<text x="145.1" y="503.6" font-size="8.6" text-anchor="middle" font-family="Liberation Sans, sans-serif" stroke="#000" stroke-width="0.3" fill="#000">26</text>
<rect x="133.9" y="491.5" width="10" height="8.4" fill="#fff"/>
<text x="138.9" y="498.8" font-size="8.6" text-anchor="middle" font-family="Liberation Sans, sans-serif" stroke="#000" stroke-width="0.3" fill="#000">27</text>
<rect x="473.7" y="370.8" width="10" height="8.4" fill="#fff"/>
<text x="478.7" y="378.1" font-size="8.6" text-anchor="middle" font-family="Liberation Sans, sans-serif" stroke="#000" stroke-width="0.3" fill="#000">20</text>
<rect x="444.8" y="390.9" width="10" height="8.4" fill="#fff"/>
<text x="449.8" y="398.2" font-size="8.6" text-anchor="middle" font-family="Liberation Sans, sans-serif" stroke="#000" stroke-width="0.3" fill="#000">26</text>
<rect x="406.0" y="465.4" width="10" height="8.4" fill="#fff"/>
<text x="411.0" y="472.7" font-size="8.6" text-anchor="middle" font-family="Liberation Sans, sans-serif" stroke="#000" stroke-width="0.3" fill="#000">26</text>
<rect x="475.0" y="506.3" width="10" height="8.4" fill="#fff"/>
<text x="480.0" y="513.6" font-size="8.6" text-anchor="middle" font-family="Liberation Sans, sans-serif" stroke="#000" stroke-width="0.3" fill="#000">26</text>
<rect x="287.0" y="443.6" width="10" height="8.4" fill="#fff"/>
<text x="292.0" y="450.9" font-size="8.6" text-anchor="middle" font-family="Liberation Sans, sans-serif" stroke="#000" stroke-width="0.3" fill="#000">26</text>
<rect x="288.8" y="478.7" width="10" height="8.4" fill="#fff"/>
<text x="293.8" y="486.0" font-size="8.6" text-anchor="middle" font-family="Liberation Sans, sans-serif" stroke="#000" stroke-width="0.3" fill="#000">26</text>
<rect x="318.4" y="468.7" width="10" height="8.4" fill="#fff"/>
<text x="323.4" y="476.0" font-size="8.6" text-anchor="middle" font-family="Liberation Sans, sans-serif" stroke="#000" stroke-width="0.3" fill="#000">30</text>
<rect x="335.7" y="478.2" width="10" height="8.4" fill="#fff"/>
<text x="340.7" y="485.5" font-size="8.6" text-anchor="middle" font-family="Liberation Sans, sans-serif" stroke="#000" stroke-width="0.3" fill="#000">20</text>
<rect x="473.8" y="371.3" width="10" height="8.4" fill="#fff"/>
<text x="478.8" y="378.6" font-size="8.6" text-anchor="middle" font-family="Liberation Sans, sans-serif" stroke="#000" stroke-width="0.3" fill="#000">20</text>
<rect x="512.7" y="441.1" width="10" height="8.4" fill="#fff"/>
<text x="517.7" y="448.4" font-size="8.6" text-anchor="middle" font-family="Liberation Sans, sans-serif" stroke="#000" stroke-width="0.3" fill="#000">20</text>
<rect x="628.1" y="459.9" width="10" height="8.4" fill="#fff"/>
<text x="633.1" y="467.2" font-size="8.6" text-anchor="middle" font-family="Liberation Sans, sans-serif" stroke="#000" stroke-width="0.3" fill="#000">20</text>
<rect x="576.7" y="431.6" width="10" height="8.4" fill="#fff"/>
<text x="581.7" y="438.9" font-size="8.6" text-anchor="middle" font-family="Liberation Sans, sans-serif" stroke="#000" stroke-width="0.3" fill="#000">26</text>
<rect x="475.0" y="506.3" width="10" height="8.4" fill="#fff"/>
<text x="480.0" y="513.6" font-size="8.6" text-anchor="middle" font-family="Liberation Sans, sans-serif" stroke="#000" stroke-width="0.3" fill="#000">26</text>
<rect x="595.5" y="513.4" width="10" height="8.4" fill="#fff"/>
<text x="600.5" y="520.7" font-size="8.6" text-anchor="middle" font-family="Liberation Sans, sans-serif" stroke="#000" stroke-width="0.3" fill="#000">26</text>
<rect x="205.9" y="536.6" width="10" height="8.4" fill="#fff"/>
<text x="210.9" y="543.9" font-size="8.6" text-anchor="middle" font-family="Liberation Sans, sans-serif" stroke="#000" stroke-width="0.3" fill="#000">26</text>
<rect x="475.0" y="506.5" width="10" height="8.4" fill="#fff"/>
<text x="480.0" y="513.8" font-size="8.6" text-anchor="middle" font-family="Liberation Sans, sans-serif" stroke="#000" stroke-width="0.3" fill="#000">26</text>
<rect x="475.0" y="506.5" width="10" height="8.4" fill="#fff"/>
<text x="480.0" y="513.8" font-size="8.6" text-anchor="middle" font-family="Liberation Sans, sans-serif" stroke="#000" stroke-width="0.3" fill="#000">26</text>
<rect x="595.5" y="514.5" width="10" height="8.4" fill="#fff"/>
<text x="600.5" y="521.8" font-size="8.6" text-anchor="middle" font-family="Liberation Sans, sans-serif" stroke="#000" stroke-width="0.3" fill="#000">26</text>
<rect x="119" y="80" width="539" height="465.6" fill="none" stroke="#000" stroke-width="2.2"/>
<line x1="119.0" y1="545" x2="119.0" y2="549" stroke="#000" stroke-width="1"/>
<text x="120.4" y="560.2" font-size="11.2" text-anchor="middle" font-family="Liberation Sans, sans-serif" stroke="#000" stroke-width="0.35" fill="#000">15E</text>
<line x1="183.8" y1="545" x2="183.8" y2="549" stroke="#000" stroke-width="1"/>
<text x="185.2" y="560.2" font-size="11.2" text-anchor="middle" font-family="Liberation Sans, sans-serif" stroke="#000" stroke-width="0.35" fill="#000">16E</text>
<line x1="248.6" y1="545" x2="248.6" y2="549" stroke="#000" stroke-width="1"/>
<text x="250.0" y="560.2" font-size="11.2" text-anchor="middle" font-family="Liberation Sans, sans-serif" stroke="#000" stroke-width="0.35" fill="#000">17E</text>
<line x1="313.4" y1="545" x2="313.4" y2="549" stroke="#000" stroke-width="1"/>
<text x="314.8" y="560.2" font-size="11.2" text-anchor="middle" font-family="Liberation Sans, sans-serif" stroke="#000" stroke-width="0.35" fill="#000">18E</text>
<line x1="378.2" y1="545" x2="378.2" y2="549" stroke="#000" stroke-width="1"/>
<text x="379.6" y="560.2" font-size="11.2" text-anchor="middle" font-family="Liberation Sans, sans-serif" stroke="#000" stroke-width="0.35" fill="#000">19E</text>
<line x1="443.0" y1="545" x2="443.0" y2="549" stroke="#000" stroke-width="1"/>
<text x="444.4" y="560.2" font-size="11.2" text-anchor="middle" font-family="Liberation Sans, sans-serif" stroke="#000" stroke-width="0.35" fill="#000">20E</text>
<line x1="507.8" y1="545" x2="507.8" y2="549" stroke="#000" stroke-width="1"/>
<text x="509.2" y="560.2" font-size="11.2" text-anchor="middle" font-family="Liberation Sans, sans-serif" stroke="#000" stroke-width="0.35" fill="#000">21E</text>
<line x1="572.6" y1="545" x2="572.6" y2="549" stroke="#000" stroke-width="1"/>
<text x="574.0" y="560.2" font-size="11.2" text-anchor="middle" font-family="Liberation Sans, sans-serif" stroke="#000" stroke-width="0.35" fill="#000">22E</text>
<line x1="637.4" y1="545" x2="637.4" y2="549" stroke="#000" stroke-width="1"/>
<text x="638.8" y="560.2" font-size="11.2" text-anchor="middle" font-family="Liberation Sans, sans-serif" stroke="#000" stroke-width="0.35" fill="#000">23E</text>
<line x1="115" y1="545.6" x2="119" y2="545.6" stroke="#000" stroke-width="1"/>
<text x="113.3" y="550.6" font-size="11.5" text-anchor="end" font-family="Liberation Sans, sans-serif" stroke="#000" stroke-width="0.35" fill="#000">39.5N</text>
<line x1="115" y1="506.8" x2="119" y2="506.8" stroke="#000" stroke-width="1"/>
<text x="113.3" y="511.8" font-size="11.5" text-anchor="end" font-family="Liberation Sans, sans-serif" stroke="#000" stroke-width="0.35" fill="#000">40N</text>
<line x1="115" y1="468.0" x2="119" y2="468.0" stroke="#000" stroke-width="1"/>
<text x="113.3" y="473.0" font-size="11.5" text-anchor="end" font-family="Liberation Sans, sans-serif" stroke="#000" stroke-width="0.35" fill="#000">40.5N</text>
<line x1="115" y1="429.2" x2="119" y2="429.2" stroke="#000" stroke-width="1"/>
<text x="113.3" y="434.2" font-size="11.5" text-anchor="end" font-family="Liberation Sans, sans-serif" stroke="#000" stroke-width="0.35" fill="#000">41N</text>
<line x1="115" y1="390.4" x2="119" y2="390.4" stroke="#000" stroke-width="1"/>
<text x="113.3" y="395.4" font-size="11.5" text-anchor="end" font-family="Liberation Sans, sans-serif" stroke="#000" stroke-width="0.35" fill="#000">41.5N</text>
<line x1="115" y1="351.6" x2="119" y2="351.6" stroke="#000" stroke-width="1"/>
<text x="113.3" y="356.6" font-size="11.5" text-anchor="end" font-family="Liberation Sans, sans-serif" stroke="#000" stroke-width="0.35" fill="#000">42N</text>
<line x1="115" y1="312.8" x2="119" y2="312.8" stroke="#000" stroke-width="1"/>
<text x="113.3" y="317.8" font-size="11.5" text-anchor="end" font-family="Liberation Sans, sans-serif" stroke="#000" stroke-width="0.35" fill="#000">42.5N</text>
<line x1="115" y1="274.0" x2="119" y2="274.0" stroke="#000" stroke-width="1"/>
<text x="113.3" y="279.0" font-size="11.5" text-anchor="end" font-family="Liberation Sans, sans-serif" stroke="#000" stroke-width="0.35" fill="#000">43N</text>
<line x1="115" y1="235.2" x2="119" y2="235.2" stroke="#000" stroke-width="1"/>
<text x="113.3" y="240.2" font-size="11.5" text-anchor="end" font-family="Liberation Sans, sans-serif" stroke="#000" stroke-width="0.35" fill="#000">43.5N</text>
<line x1="115" y1="196.4" x2="119" y2="196.4" stroke="#000" stroke-width="1"/>
<text x="113.3" y="201.4" font-size="11.5" text-anchor="end" font-family="Liberation Sans, sans-serif" stroke="#000" stroke-width="0.35" fill="#000">44N</text>
<line x1="115" y1="157.6" x2="119" y2="157.6" stroke="#000" stroke-width="1"/>
<text x="113.3" y="162.6" font-size="11.5" text-anchor="end" font-family="Liberation Sans, sans-serif" stroke="#000" stroke-width="0.35" fill="#000">44.5N</text>
<line x1="115" y1="118.8" x2="119" y2="118.8" stroke="#000" stroke-width="1"/>
<text x="113.3" y="123.8" font-size="11.5" text-anchor="end" font-family="Liberation Sans, sans-serif" stroke="#000" stroke-width="0.35" fill="#000">45N</text>
<line x1="115" y1="80.0" x2="119" y2="80.0" stroke="#000" stroke-width="1"/>
<text x="113.3" y="85.0" font-size="11.5" text-anchor="end" font-family="Liberation Sans, sans-serif" stroke="#000" stroke-width="0.35" fill="#000">45.5N</text>
<polygon points="9,53 27.5,47 27.5,59" fill="#B494CC"/>
<rect x="27.50" y="47" width="19.78" height="12" fill="#8058A8"/>
<rect x="46.98" y="47" width="19.78" height="12" fill="#1070A8"/>
<rect x="66.46" y="47" width="19.78" height="12" fill="#2090CC"/>
<rect x="85.94" y="47" width="19.78" height="12" fill="#38A8D8"/>
<rect x="105.42" y="47" width="19.78" height="12" fill="#50C0E8"/>
<rect x="124.90" y="47" width="19.78" height="12" fill="#80CCCC"/>
<rect x="144.38" y="47" width="19.78" height="12" fill="#68C098"/>
<rect x="163.86" y="47" width="19.78" height="12" fill="#98CC60"/>
<rect x="183.34" y="47" width="19.78" height="12" fill="#C8D840"/>
<rect x="202.82" y="47" width="19.78" height="12" fill="#F0E830"/>
<rect x="222.30" y="47" width="19.78" height="12" fill="#E8D820"/>
<rect x="241.78" y="47" width="19.78" height="12" fill="#F0C83C"/>
<rect x="261.26" y="47" width="19.78" height="12" fill="#F8B830"/>
<rect x="280.74" y="47" width="19.78" height="12" fill="#EE9840"/>
<rect x="300.22" y="47" width="19.78" height="12" fill="#E0643C"/>
<rect x="319.70" y="47" width="19.78" height="12" fill="#D83020"/>
<rect x="339.18" y="47" width="19.78" height="12" fill="#B02C28"/>
<rect x="358.66" y="47" width="19.78" height="12" fill="#C800A0"/>
<rect x="378.14" y="47" width="19.78" height="12" fill="#C830D0"/>
<rect x="397.62" y="47" width="19.78" height="12" fill="#C868C8"/>
<rect x="417.10" y="47" width="19.78" height="12" fill="#C898C8"/>
<polygon points="436.6,47 436.6,59 454.6,53" fill="#A0A0A0"/>
<line x1="27.5" y1="47" x2="27.5" y2="59" stroke="#000" stroke-width="1"/>
<text x="29.0" y="68.8" font-size="10.5" text-anchor="middle" font-family="Liberation Sans, sans-serif" stroke="#000" stroke-width="0.25" fill="#000" textLength="18.5" lengthAdjust="spacingAndGlyphs">−10</text>
<line x1="47.0" y1="47" x2="47.0" y2="59" stroke="#000" stroke-width="1"/>
<text x="48.5" y="68.8" font-size="10.5" text-anchor="middle" font-family="Liberation Sans, sans-serif" stroke="#000" stroke-width="0.25" fill="#000" textLength="12.5" lengthAdjust="spacingAndGlyphs">−8</text>
<line x1="66.5" y1="47" x2="66.5" y2="59" stroke="#000" stroke-width="1"/>
<text x="68.0" y="68.8" font-size="10.5" text-anchor="middle" font-family="Liberation Sans, sans-serif" stroke="#000" stroke-width="0.25" fill="#000" textLength="12.5" lengthAdjust="spacingAndGlyphs">−6</text>
<line x1="85.9" y1="47" x2="85.9" y2="59" stroke="#000" stroke-width="1"/>
<text x="87.4" y="68.8" font-size="10.5" text-anchor="middle" font-family="Liberation Sans, sans-serif" stroke="#000" stroke-width="0.25" fill="#000" textLength="12.5" lengthAdjust="spacingAndGlyphs">−4</text>
<line x1="105.4" y1="47" x2="105.4" y2="59" stroke="#000" stroke-width="1"/>
<text x="106.9" y="68.8" font-size="10.5" text-anchor="middle" font-family="Liberation Sans, sans-serif" stroke="#000" stroke-width="0.25" fill="#000" textLength="12.5" lengthAdjust="spacingAndGlyphs">−2</text>
<line x1="124.9" y1="47" x2="124.9" y2="59" stroke="#000" stroke-width="1"/>
<text x="126.4" y="68.8" font-size="10.5" text-anchor="middle" font-family="Liberation Sans, sans-serif" stroke="#000" stroke-width="0.25" fill="#000" textLength="5.2" lengthAdjust="spacingAndGlyphs">0</text>
<line x1="144.4" y1="47" x2="144.4" y2="59" stroke="#000" stroke-width="1"/>
<text x="145.9" y="68.8" font-size="10.5" text-anchor="middle" font-family="Liberation Sans, sans-serif" stroke="#000" stroke-width="0.25" fill="#000" textLength="5.2" lengthAdjust="spacingAndGlyphs">2</text>
<line x1="163.9" y1="47" x2="163.9" y2="59" stroke="#000" stroke-width="1"/>
<text x="165.4" y="68.8" font-size="10.5" text-anchor="middle" font-family="Liberation Sans, sans-serif" stroke="#000" stroke-width="0.25" fill="#000" textLength="5.2" lengthAdjust="spacingAndGlyphs">4</text>
<line x1="183.3" y1="47" x2="183.3" y2="59" stroke="#000" stroke-width="1"/>
<text x="184.8" y="68.8" font-size="10.5" text-anchor="middle" font-family="Liberation Sans, sans-serif" stroke="#000" stroke-width="0.25" fill="#000" textLength="5.2" lengthAdjust="spacingAndGlyphs">6</text>
<line x1="202.8" y1="47" x2="202.8" y2="59" stroke="#000" stroke-width="1"/>
<text x="204.3" y="68.8" font-size="10.5" text-anchor="middle" font-family="Liberation Sans, sans-serif" stroke="#000" stroke-width="0.25" fill="#000" textLength="5.2" lengthAdjust="spacingAndGlyphs">8</text>
<line x1="222.3" y1="47" x2="222.3" y2="59" stroke="#000" stroke-width="1"/>
<text x="223.8" y="68.8" font-size="10.5" text-anchor="middle" font-family="Liberation Sans, sans-serif" stroke="#000" stroke-width="0.25" fill="#000" textLength="11.5" lengthAdjust="spacingAndGlyphs">10</text>
<line x1="241.8" y1="47" x2="241.8" y2="59" stroke="#000" stroke-width="1"/>
<text x="243.3" y="68.8" font-size="10.5" text-anchor="middle" font-family="Liberation Sans, sans-serif" stroke="#000" stroke-width="0.25" fill="#000" textLength="11.5" lengthAdjust="spacingAndGlyphs">12</text>
<line x1="261.3" y1="47" x2="261.3" y2="59" stroke="#000" stroke-width="1"/>
<text x="262.8" y="68.8" font-size="10.5" text-anchor="middle" font-family="Liberation Sans, sans-serif" stroke="#000" stroke-width="0.25" fill="#000" textLength="11.5" lengthAdjust="spacingAndGlyphs">14</text>
<line x1="280.7" y1="47" x2="280.7" y2="59" stroke="#000" stroke-width="1"/>
<text x="282.2" y="68.8" font-size="10.5" text-anchor="middle" font-family="Liberation Sans, sans-serif" stroke="#000" stroke-width="0.25" fill="#000" textLength="11.5" lengthAdjust="spacingAndGlyphs">16</text>
<line x1="300.2" y1="47" x2="300.2" y2="59" stroke="#000" stroke-width="1"/>
<text x="301.7" y="68.8" font-size="10.5" text-anchor="middle" font-family="Liberation Sans, sans-serif" stroke="#000" stroke-width="0.25" fill="#000" textLength="11.5" lengthAdjust="spacingAndGlyphs">18</text>
<line x1="319.7" y1="47" x2="319.7" y2="59" stroke="#000" stroke-width="1"/>
<text x="321.2" y="68.8" font-size="10.5" text-anchor="middle" font-family="Liberation Sans, sans-serif" stroke="#000" stroke-width="0.25" fill="#000" textLength="11.5" lengthAdjust="spacingAndGlyphs">20</text>
<line x1="339.2" y1="47" x2="339.2" y2="59" stroke="#000" stroke-width="1"/>
<text x="340.7" y="68.8" font-size="10.5" text-anchor="middle" font-family="Liberation Sans, sans-serif" stroke="#000" stroke-width="0.25" fill="#000" textLength="11.5" lengthAdjust="spacingAndGlyphs">22</text>
<line x1="358.7" y1="47" x2="358.7" y2="59" stroke="#000" stroke-width="1"/>
<text x="360.2" y="68.8" font-size="10.5" text-anchor="middle" font-family="Liberation Sans, sans-serif" stroke="#000" stroke-width="0.25" fill="#000" textLength="11.5" lengthAdjust="spacingAndGlyphs">24</text>
<line x1="378.1" y1="47" x2="378.1" y2="59" stroke="#000" stroke-width="1"/>
<text x="379.6" y="68.8" font-size="10.5" text-anchor="middle" font-family="Liberation Sans, sans-serif" stroke="#000" stroke-width="0.25" fill="#000" textLength="11.5" lengthAdjust="spacingAndGlyphs">26</text>
<line x1="397.6" y1="47" x2="397.6" y2="59" stroke="#000" stroke-width="1"/>
<text x="399.1" y="68.8" font-size="10.5" text-anchor="middle" font-family="Liberation Sans, sans-serif" stroke="#000" stroke-width="0.25" fill="#000" textLength="11.5" lengthAdjust="spacingAndGlyphs">28</text>
<line x1="417.1" y1="47" x2="417.1" y2="59" stroke="#000" stroke-width="1"/>
<text x="418.6" y="68.8" font-size="10.5" text-anchor="middle" font-family="Liberation Sans, sans-serif" stroke="#000" stroke-width="0.25" fill="#000" textLength="11.5" lengthAdjust="spacingAndGlyphs">30</text>
<line x1="436.6" y1="47" x2="436.6" y2="59" stroke="#000" stroke-width="1"/>
<text x="438.1" y="68.8" font-size="10.5" text-anchor="middle" font-family="Liberation Sans, sans-serif" stroke="#000" stroke-width="0.25" fill="#000" textLength="11.5" lengthAdjust="spacingAndGlyphs">32</text>
<line x1="27.5" y1="59" x2="436.6" y2="59" stroke="#000" stroke-width="1"/>
</svg>
<div class="t" id="t1" style="left:6.4px;top:9.6px;font-size:14px;letter-spacing:1px;transform-origin:0 0;transform:scaleX(1.1478);-webkit-text-stroke:0.3px #000;">wrf−nmmE_v3.9.1−e3k(m</div>
<div class="t" id="t1b" style="left:217.5px;top:11.8px;font-size:10.5px;letter-spacing:1px;transform-origin:0 0;transform:scaleX(1.1594);color:#9a9a9a;">x . degree )</div>
<div class="t" id="t2" style="left:83.0px;top:30.4px;font-size:14px;letter-spacing:1.2px;transform-origin:0 0;transform:scaleX(0.9156);-webkit-text-stroke:0.3px #000;">SFC</div>
<div class="t" id="t2b" style="left:122.5px;top:30.4px;font-size:14px;letter-spacing:1.2px;transform-origin:0 0;transform:scaleX(1.0958);-webkit-text-stroke:0.3px #000;">Temperature</div>
<div class="t" id="t3a" style="left:459.5px;top:9.6px;font-size:14px;letter-spacing:1px;transform-origin:0 0;transform:scaleX(1.1222);-webkit-text-stroke:0.25px #000;">initialisation:</div>
<div class="t" id="t3b" style="left:571.7px;top:9.6px;font-size:14px;letter-spacing:1px;transform-origin:0 0;transform:scaleX(1.1482);-webkit-text-stroke:0.25px #000;">2021.11.04.</div>
<div class="t" id="t3c" style="left:681.2px;top:9.6px;font-size:14px;letter-spacing:1px;transform-origin:0 0;transform:scaleX(1.0897);-webkit-text-stroke:0.25px #000;">12:00</div>
<div class="t" id="t3d" style="left:735.0px;top:9.6px;font-size:14px;letter-spacing:1px;transform-origin:0 0;transform:scaleX(0.9032);-webkit-text-stroke:0.25px #000;">UTC</div>
<div class="t" id="t4a" style="left:457.0px;top:30.9px;font-size:14px;letter-spacing:1px;transform-origin:0 0;transform:scaleX(1.2118);-webkit-text-stroke:0.25px #000;">valid(+71h):</div>
<div class="t" id="t4b" style="left:567.5px;top:30.9px;font-size:14px;letter-spacing:1px;transform-origin:0 0;transform:scaleX(1.0691);-webkit-text-stroke:0.25px #000;">2021.NOV.07</div>
<div class="t" id="t4c" style="left:682.5px;top:30.9px;font-size:14px;letter-spacing:1px;transform-origin:0 0;transform:scaleX(1.0842);-webkit-text-stroke:0.25px #000;">11:00</div>
<div class="t" id="t4d" style="left:736.2px;top:30.9px;font-size:14px;letter-spacing:1px;transform-origin:0 0;transform:scaleX(0.8871);-webkit-text-stroke:0.25px #000;">UTC</div>
<div class="t" id="t5" style="left:222.0px;top:576.8px;font-size:12.4px;letter-spacing:1px;transform-origin:0 0;transform:scaleX(1.0663);color:#a8a8a8;font-family:'Liberation Serif',serif;font-style:italic;">Hydrological and Meteorological service of Montenegro</div>
<div class="t" id="t6" style="left:4.0px;top:606.2px;font-size:11.4px;letter-spacing:0px;transform-origin:0 0;transform:scaleX(0.8029);">GrADS: COLA/IGES</div>
<div class="t" id="t7" style="left:684.0px;top:606.8px;font-size:10.5px;letter-spacing:0.2px;transform-origin:0 0;transform:scaleX(1.0128);">2021−11−04−23:04</div>
</body></html>
